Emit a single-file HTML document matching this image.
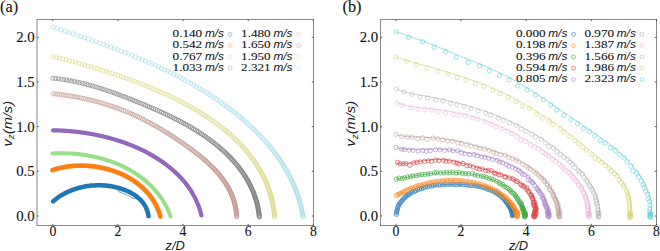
<!DOCTYPE html>
<html><head><meta charset="utf-8"><style>html,body{margin:0;padding:0;background:#fff;width:660px;height:251px;overflow:hidden}
svg{display:block}
.tk{font-family:"Liberation Serif",serif;font-size:13.7px;fill:#111;stroke:#111;stroke-width:0.1px}
.lg{font-family:"Liberation Serif",serif;font-size:10.8px;fill:#111;stroke:#111;stroke-width:0.08px}
.lu{font-family:"Liberation Sans",sans-serif;font-style:italic;font-size:10.4px;fill:#111}
.al{font-family:"Liberation Sans",sans-serif;font-style:italic;font-size:12.8px;fill:#1a1a1a}
.sub{font-size:8.8px}
.pl{font-family:"Liberation Serif",serif;font-size:16.3px;fill:#111;stroke:#111;stroke-width:0.1px}
</style></head><body>
<svg width="660" height="251" viewBox="0 0 660 251">
<rect width="660" height="251" fill="#fff"/>
<path d="M53.1,201.4 L53.2,201.3 L53.3,201.2 L53.4,201.1 L53.5,201.0 L53.6,200.9 L53.8,200.8 L53.9,200.7 L54.0,200.6 L54.1,200.5 L54.3,200.4 L54.4,200.3 L54.5,200.2 L54.6,200.1 L54.7,200.0 L54.9,199.9 L55.0,199.8 L55.1,199.7 L55.2,199.6 L55.4,199.5 L55.5,199.4 L55.6,199.3 L55.7,199.2 L55.9,199.1 L56.0,199.0 L56.1,198.9 L56.2,198.8 L56.4,198.7 L56.5,198.6 L56.6,198.5 L56.7,198.4 L56.9,198.3 L57.0,198.2 L57.1,198.1 L57.2,198.0 L57.4,197.9 L57.5,197.8 L57.6,197.7 L57.8,197.6 L57.9,197.6 L58.0,197.5 L58.2,197.4 L58.3,197.3 L58.4,197.2 L58.5,197.1 L58.7,197.0 L58.8,196.9 L58.9,196.8 L59.1,196.7 L59.2,196.7 L59.3,196.6 L59.5,196.5 L59.6,196.4 L59.7,196.3 L59.9,196.2 L60.0,196.1 L60.1,196.0 L60.3,196.0 L60.4,195.9 L60.5,195.8 L60.7,195.7 L60.8,195.6 L60.9,195.5 L61.1,195.4 L61.2,195.4 L61.4,195.3 L61.5,195.2 L61.6,195.1 L61.8,195.0 L61.9,194.9 L62.0,194.9 L62.2,194.8 L62.3,194.7 L62.5,194.6 L62.6,194.5 L62.7,194.5 L62.9,194.4 L63.0,194.3 L63.2,194.2 L63.3,194.1 L63.4,194.1 L63.6,194.0 L63.7,193.9 L63.9,193.8 L64.0,193.8 L64.1,193.7 L64.3,193.6 L64.4,193.5 L64.6,193.4 L64.7,193.4 L64.8,193.3 L65.0,193.2 L65.1,193.2 L65.3,193.1 L65.4,193.0 L65.6,192.9 L65.7,192.9 L65.8,192.8 L66.0,192.7 L66.1,192.6 L66.3,192.6 L66.4,192.5 L66.6,192.4 L66.7,192.4 L66.9,192.3 L67.0,192.2 L67.2,192.1 L67.3,192.1 L67.4,192.0 L67.6,191.9 L67.7,191.9 L67.9,191.8 L68.0,191.7 L68.2,191.7 L68.3,191.6 L68.5,191.5 L68.6,191.5 L68.8,191.4 L68.9,191.3 L69.1,191.3 L69.2,191.2 L69.4,191.1 L69.5,191.1 L69.7,191.0 L69.8,191.0 L70.0,190.9 L70.1,190.8 L70.3,190.8 L70.4,190.7 L70.6,190.6 L70.7,190.6 L70.9,190.5 L71.0,190.5 L71.2,190.4 L71.3,190.3 L71.5,190.3 L71.6,190.2 L71.8,190.2 L71.9,190.1 L72.1,190.0 L72.2,190.0 L72.4,189.9 L72.5,189.9 L72.7,189.8 L72.8,189.8 L73.0,189.7 L73.1,189.7 L73.3,189.6 L73.4,189.5 L73.6,189.5 L73.8,189.4 L73.9,189.4 L74.1,189.3 L74.2,189.3 L74.4,189.2 L74.5,189.2 L74.7,189.1 L74.8,189.1 L75.0,189.0 L75.1,189.0 L75.3,188.9 L75.5,188.9 L75.6,188.8 L75.8,188.8 L75.9,188.7 L76.1,188.7 L76.2,188.6 L76.4,188.6 L76.6,188.5 L76.7,188.5 L76.9,188.4 L77.0,188.4 L77.2,188.3 L77.3,188.3 L77.5,188.2 L77.6,188.2 L77.8,188.1 L78.0,188.1 L78.1,188.1 L78.3,188.0 L78.4,188.0 L78.6,187.9 L78.8,187.9 L78.9,187.8 L79.1,187.8 L79.2,187.8 L79.4,187.7 L79.5,187.7 L79.7,187.6 L79.9,187.6 L80.0,187.5 L80.2,187.5 L80.3,187.5 L80.5,187.4 L80.7,187.4 L80.8,187.4 L81.0,187.3 L81.1,187.3 L81.3,187.2 L81.5,187.2 L81.6,187.2 L81.8,187.1 L81.9,187.1 L82.1,187.1 L82.3,187.0 L82.4,187.0 L82.6,187.0 L82.8,186.9 L82.9,186.9 L83.1,186.9 L83.2,186.8 L83.4,186.8 L83.6,186.8 L83.7,186.7 L83.9,186.7 L84.0,186.7 L84.2,186.6 L84.4,186.6 L84.5,186.6 L84.7,186.5 L84.9,186.5 L85.0,186.5 L85.2,186.4 L85.3,186.4 L85.5,186.4 L85.7,186.4 L85.8,186.3 L86.0,186.3 L86.2,186.3 L86.3,186.3 L86.5,186.2 L86.6,186.2 L86.8,186.2 L87.0,186.1 L87.1,186.1 L87.3,186.1 L87.5,186.1 L87.6,186.1 L87.8,186.0 L88.0,186.0 L88.1,186.0 L88.3,186.0 L88.5,185.9 L88.6,185.9 L88.8,185.9 L88.9,185.9 L89.1,185.9 L89.3,185.8 L89.4,185.8 L89.6,185.8 L89.8,185.8 L89.9,185.8 L90.1,185.7 L90.3,185.7 L90.4,185.7 L90.6,185.7 L90.8,185.7 L90.9,185.6 L91.1,185.6 L91.2,185.6 L91.4,185.6 L91.6,185.6 L91.7,185.6 L91.9,185.6 L92.1,185.5 L92.2,185.5 L92.4,185.5 L92.6,185.5 L92.7,185.5 L92.9,185.5 L93.1,185.5 L93.2,185.5 L93.4,185.4 L93.6,185.4 L93.7,185.4 L93.9,185.4 L94.1,185.4 L94.2,185.4 L94.4,185.4 L94.6,185.4 L94.7,185.4 L94.9,185.4 L95.1,185.3 L95.2,185.3 L95.4,185.3 L95.6,185.3 L95.7,185.3 L95.9,185.3 L96.0,185.3 L96.2,185.3 L96.4,185.3 L96.5,185.3 L96.7,185.3 L96.9,185.3 L97.0,185.3 L97.2,185.3 L97.4,185.3 L97.5,185.3 L97.7,185.3 L97.9,185.3 L98.0,185.3 L98.2,185.3 L98.4,185.3 L98.5,185.3 L98.7,185.3 L98.9,185.3 L99.0,185.3 L99.2,185.3 L99.4,185.3 L99.5,185.3 L99.7,185.3 L99.9,185.3 L100.0,185.3 L100.2,185.3 L100.4,185.3 L100.5,185.3 L100.7,185.3 L100.9,185.3 L101.0,185.3 L101.2,185.3 L101.4,185.3 L101.5,185.3 L101.7,185.3 L101.9,185.3 L102.0,185.3 L102.2,185.3 L102.4,185.3 L102.5,185.4 L102.7,185.4 L102.8,185.4 L103.0,185.4 L103.2,185.4 L103.3,185.4 L103.5,185.4 L103.7,185.4 L103.8,185.4 L104.0,185.4 L104.2,185.5 L104.3,185.5 L104.5,185.5 L104.7,185.5 L104.8,185.5 L105.0,185.5 L105.2,185.5 L105.3,185.5 L105.5,185.6 L105.7,185.6 L105.8,185.6 L106.0,185.6 L106.2,185.6 L106.3,185.6 L106.5,185.7 L106.6,185.7 L106.8,185.7 L107.0,185.7 L107.1,185.7 L107.3,185.7 L107.5,185.8 L107.6,185.8 L107.8,185.8 L108.0,185.8 L108.1,185.8 L108.3,185.9 L108.5,185.9 L108.6,185.9 L108.8,185.9 L108.9,186.0 L109.1,186.0 L109.3,186.0 L109.4,186.0 L109.6,186.0 L109.8,186.1 L109.9,186.1 L110.1,186.1 L110.2,186.1 L110.4,186.2 L110.6,186.2 L110.7,186.2 L110.9,186.2 L111.1,186.3 L111.2,186.3 L111.4,186.3 L111.6,186.4 L111.7,186.4 L111.9,186.4 L112.0,186.4 L112.2,186.5 L112.4,186.5 L112.5,186.5 L112.7,186.6 L112.8,186.6 L113.0,186.6 L113.2,186.7 L113.3,186.7 L113.5,186.7 L113.7,186.8 L113.8,186.8 L114.0,186.8 L114.1,186.9 L114.3,186.9 L114.5,186.9 L114.6,187.0 L114.8,187.0 L114.9,187.0 L115.1,187.1 L115.3,187.1 L115.4,187.1 L115.6,187.2 L115.7,187.2 L115.9,187.2 L116.1,187.3 L116.2,187.3 L116.4,187.4 L116.5,187.4 L116.7,187.4 L116.9,187.5 L117.0,187.5 L117.2,187.6 L117.3,187.6 L117.5,187.6 L117.7,187.7 L117.8,187.7 L118.0,187.8 L118.1,187.8 L118.3,187.9 L118.4,187.9 L118.6,187.9 L118.8,188.0 L118.9,188.0 L119.1,188.1 L119.2,188.1 L119.4,188.2 L119.5,188.2 L119.7,188.3 L119.9,188.3 L120.0,188.4 L120.2,188.4 L120.3,188.4 L120.5,188.5 L120.6,188.5 L120.8,188.6 L121.0,188.6 L121.1,188.7 L121.3,188.7 L121.4,188.8 L121.6,188.8 L121.7,188.9 L121.9,188.9 L122.0,189.0 L122.2,189.0 L122.4,189.1 L122.5,189.2 L122.7,189.2 L122.8,189.3 L123.0,189.3 L123.1,189.4 L123.3,189.4 L123.4,189.5 L123.6,189.5 L123.7,189.6 L123.9,189.6 L124.0,189.7 L124.2,189.8 L124.3,189.8 L124.5,189.9 L124.6,189.9 L124.8,190.0 L124.9,190.1 L125.1,190.1 L125.2,190.2 L125.4,190.2 L125.6,190.3 L125.7,190.4 L125.9,190.4 L126.0,190.5 L126.2,190.5 L126.3,190.6 L126.4,190.7 L126.6,190.7 L126.7,190.8 L126.9,190.9 L127.0,190.9 L127.2,191.0 L127.3,191.0 L127.5,191.1 L127.6,191.2 L127.8,191.2 L127.9,191.3 L128.1,191.4 L128.2,191.4 L128.4,191.5 L128.5,191.6 L128.7,191.7 L128.8,191.7 L128.9,191.8 L129.1,191.9 L129.2,191.9 L129.4,192.0 L129.5,192.1 L129.7,192.1 L129.8,192.2 L130.0,192.3 L130.1,192.4 L130.2,192.4 L130.4,192.5 L130.5,192.6 L130.7,192.7 L130.8,192.7 L130.9,192.8 L131.1,192.9 L131.2,193.0 L131.4,193.0 L131.5,193.1 L131.6,193.2 L131.8,193.3 L131.9,193.4 L132.1,193.4 L132.2,193.5 L132.3,193.6 L132.5,193.7 L132.6,193.8 L132.7,193.8 L132.9,193.9 L133.0,194.0 L133.1,194.1 L133.3,194.2 L133.4,194.2 L133.5,194.3 L133.7,194.4 L133.8,194.5 L133.9,194.6 L134.1,194.7 L134.2,194.8 L134.3,194.8 L134.5,194.9 L134.6,195.0 L134.7,195.1 L134.9,195.2 L135.0,195.3 L135.1,195.4 L135.3,195.5 L135.4,195.5 L135.5,195.6 L135.6,195.7 L135.8,195.8 L135.9,195.9 L136.0,196.0 L136.1,196.1 L136.3,196.2 L136.4,196.3 L136.5,196.4 L136.6,196.5 L136.8,196.6 L136.9,196.7 L137.0,196.8 L137.1,196.9 L137.3,197.0 L137.4,197.1 L137.5,197.2 L137.6,197.3 L137.7,197.4 L137.9,197.5 L138.0,197.6 L138.1,197.7 L138.2,197.8 L138.3,197.9 L138.4,198.0 L138.6,198.1 L138.7,198.2 L138.8,198.3 L138.9,198.4 L139.0,198.5 L139.1,198.6 L139.3,198.7 L139.4,198.8 L139.5,198.9 L139.6,199.0 L139.7,199.1 L139.8,199.2 L139.9,199.3 L140.0,199.4 L140.1,199.5 L140.3,199.7 L140.4,199.8 L140.5,199.9 L140.6,200.0 L140.7,200.1 L140.8,200.2 L140.9,200.3 L141.0,200.4 L141.1,200.6 L141.2,200.7 L141.3,200.8 L141.4,200.9 L141.5,201.0 L141.6,201.1 L141.7,201.2 L141.8,201.4 L141.9,201.5 L142.0,201.6 L142.1,201.7 L142.2,201.8 L142.3,202.0 L142.4,202.1 L142.5,202.2 L142.6,202.3 L142.7,202.4 L142.8,202.6 L142.9,202.7 L143.0,202.8 L143.1,202.9 L143.2,203.1 L143.3,203.2 L143.4,203.3 L143.4,203.4 L143.5,203.6 L143.6,203.7 L143.7,203.8 L143.8,204.0 L143.9,204.1 L144.0,204.2 L144.1,204.4 L144.1,204.5 L144.2,204.6 L144.3,204.7 L144.4,204.9 L144.5,205.0 L144.6,205.1 L144.6,205.3 L144.7,205.4 L144.8,205.5 L144.9,205.7 L145.0,205.8 L145.0,206.0 L145.1,206.1 L145.2,206.2 L145.3,206.4 L145.4,206.5 L145.4,206.7 L145.5,206.8 L145.6,206.9 L145.6,207.1 L145.7,207.2 L145.8,207.4 L145.9,207.5 L145.9,207.6 L146.0,207.8 L146.1,207.9 L146.1,208.1 L146.2,208.2 L146.3,208.4 L146.3,208.5 L146.4,208.7 L146.5,208.8 L146.5,209.0 L146.6,209.1 L146.7,209.3 L146.7,209.4 L146.8,209.6 L146.8,209.7 L146.9,209.9 L147.0,210.0 L147.0,210.2 L147.1,210.3 L147.1,210.5 L147.2,210.6 L147.2,210.8 L147.3,211.0 L147.3,211.1 L147.4,211.3 L147.4,211.4 L147.5,211.6 L147.5,211.8 L147.6,211.9 L147.6,212.1 L147.7,212.2 L147.7,212.4 L147.8,212.6 L147.8,212.7 L147.9,212.9 L147.9,213.1 L148.0,213.2 L148.0,213.4 L148.0,213.5 L148.1,213.7 L148.1,213.9 L148.2,214.1 L148.2,214.2 L148.2,214.4 L148.3,214.6 L148.3,214.7 L148.3,214.9 L148.4,215.1 L148.4,215.2 L148.4,215.4 L148.5,215.6 L148.5,215.8 L148.5,215.9 L148.6,216.1 L148.6,216.3" fill="none" stroke="#1f77b4" stroke-width="4.5" stroke-linecap="round" stroke-linejoin="round"/>
<path d="M116.1,187.3 L116.2,187.5 L116.3,187.7 L116.4,187.8 L116.6,188.0 L116.7,188.2 L116.8,188.4 L116.9,188.6 L117.0,188.8 L117.2,188.9 L117.3,189.1 L117.4,189.3 L117.5,189.5 L117.6,189.7 L117.7,189.9 L117.8,190.1 L118.0,190.2 L118.1,190.4 L118.2,190.6 L118.3,190.8 L118.4,191.0 L118.5,191.2 L118.6,191.4 L118.7,191.6 L118.8,191.7 L118.9,191.9 L119.1,191.9 L119.2,192.0 L119.4,192.0 L119.5,192.1 L119.7,192.1 L119.8,192.2 L120.0,192.2 L120.1,192.3 L120.3,192.3 L120.4,192.4 L120.6,192.4 L120.7,192.5 L120.9,192.5 L121.0,192.6 L121.2,192.6 L121.3,192.7 L121.4,192.7 L121.6,192.8 L121.7,192.8 L121.9,192.9 L122.0,192.9 L122.2,193.0 L122.3,193.0 L122.5,193.1 L122.6,193.1 L122.7,193.2 L122.9,193.2 L123.0,193.3 L123.2,193.3 L123.3,193.4 L123.5,193.4 L123.6,193.5 L123.7,193.6 L123.9,193.6 L124.0,193.7 L124.2,193.7 L124.3,193.8 L124.4,193.8 L124.6,193.9 L124.7,194.0 L124.9,194.0 L125.0,194.1 L125.1,194.1 L125.3,194.2 L125.4,194.2 L125.6,194.3 L125.7,194.4 L125.8,194.4 L126.0,194.5 L126.1,194.6 L126.3,194.6 L126.4,194.7 L126.5,194.7 L126.7,194.8 L126.8,194.9 L126.9,194.9 L127.1,195.0 L127.2,195.1 L127.3,195.1 L127.5,195.2 L127.6,195.3 L127.7,195.3 L127.9,195.4 L128.0,195.5 L128.1,195.5 L128.3,195.6 L128.4,195.7 L128.5,195.7 L128.7,195.8 L128.8,195.9 L128.9,195.9 L129.1,196.0 L129.2,196.1 L129.3,196.1 L129.4,196.2 L129.6,196.3 L129.7,196.3 L129.8,196.4 L130.0,196.5 L130.1,196.6 L130.2,196.6 L130.3,196.7 L130.5,196.8 L130.6,196.9 L130.7,196.9 L130.8,197.0 L131.0,197.1 L131.1,197.2 L131.2,197.2 L131.3,197.3 L131.5,197.4 L131.6,197.5 L131.7,197.5 L131.8,197.6 L131.9,197.7 L132.1,197.8 L132.2,197.8 L132.3,197.9 L132.4,198.0 L132.5,198.1 L132.7,198.2 L132.8,198.2 L132.9,198.3 L133.0,198.4 L133.1,198.5 L133.2,198.6 L133.4,198.7 L133.5,198.6 L133.7,198.6 L133.9,198.6 L134.1,198.6 L134.3,198.6 L134.5,198.6 L134.6,198.6 L134.8,198.6 L135.0,198.6 L135.2,198.6 L135.4,198.6 L135.6,198.6 L135.7,198.6 L135.9,198.6 L136.1,198.6 L136.3,198.6 L136.5,198.6 L136.7,198.6 L136.8,198.7 L137.0,198.7 L137.2,198.7 L137.4,198.7 L137.6,198.7 L137.8,198.7 L138.0,198.7 L138.2,198.7 L138.3,198.8 L138.5,198.8 L138.7,198.8 L138.9,198.8 L139.1,198.8 L139.3,198.9 L139.5,198.9" fill="none" stroke="#1f77b4" stroke-width="0.8"/>
<path d="M52.4,170.1 L52.6,170.0 L52.8,169.9 L52.9,169.9 L53.1,169.8 L53.3,169.8 L53.5,169.7 L53.6,169.7 L53.8,169.6 L54.0,169.6 L54.1,169.5 L54.3,169.5 L54.5,169.4 L54.7,169.4 L54.8,169.3 L55.0,169.3 L55.2,169.2 L55.3,169.2 L55.5,169.1 L55.7,169.1 L55.9,169.0 L56.0,169.0 L56.2,168.9 L56.4,168.9 L56.6,168.8 L56.7,168.8 L56.9,168.7 L57.1,168.7 L57.3,168.6 L57.4,168.6 L57.6,168.5 L57.8,168.5 L58.0,168.4 L58.1,168.4 L58.3,168.3 L58.5,168.3 L58.7,168.3 L58.8,168.2 L59.0,168.2 L59.2,168.1 L59.4,168.1 L59.5,168.0 L59.7,168.0 L59.9,168.0 L60.1,167.9 L60.3,167.9 L60.4,167.8 L60.6,167.8 L60.8,167.8 L61.0,167.7 L61.1,167.7 L61.3,167.7 L61.5,167.6 L61.7,167.6 L61.9,167.5 L62.0,167.5 L62.2,167.5 L62.4,167.4 L62.6,167.4 L62.8,167.4 L62.9,167.3 L63.1,167.3 L63.3,167.3 L63.5,167.2 L63.7,167.2 L63.8,167.2 L64.0,167.1 L64.2,167.1 L64.4,167.1 L64.6,167.0 L64.7,167.0 L64.9,167.0 L65.1,166.9 L65.3,166.9 L65.5,166.9 L65.7,166.8 L65.8,166.8 L66.0,166.8 L66.2,166.8 L66.4,166.7 L66.6,166.7 L66.8,166.7 L66.9,166.6 L67.1,166.6 L67.3,166.6 L67.5,166.6 L67.7,166.5 L67.9,166.5 L68.0,166.5 L68.2,166.5 L68.4,166.4 L68.6,166.4 L68.8,166.4 L69.0,166.4 L69.1,166.3 L69.3,166.3 L69.5,166.3 L69.7,166.3 L69.9,166.3 L70.1,166.2 L70.2,166.2 L70.4,166.2 L70.6,166.2 L70.8,166.2 L71.0,166.1 L71.2,166.1 L71.4,166.1 L71.5,166.1 L71.7,166.1 L71.9,166.0 L72.1,166.0 L72.3,166.0 L72.5,166.0 L72.7,166.0 L72.8,166.0 L73.0,165.9 L73.2,165.9 L73.4,165.9 L73.6,165.9 L73.8,165.9 L74.0,165.9 L74.2,165.9 L74.3,165.9 L74.5,165.8 L74.7,165.8 L74.9,165.8 L75.1,165.8 L75.3,165.8 L75.5,165.8 L75.7,165.8 L75.8,165.8 L76.0,165.8 L76.2,165.7 L76.4,165.7 L76.6,165.7 L76.8,165.7 L77.0,165.7 L77.2,165.7 L77.3,165.7 L77.5,165.7 L77.7,165.7 L77.9,165.7 L78.1,165.7 L78.3,165.7 L78.5,165.7 L78.7,165.7 L78.8,165.6 L79.0,165.6 L79.2,165.6 L79.4,165.6 L79.6,165.6 L79.8,165.6 L80.0,165.6 L80.2,165.6 L80.4,165.6 L80.5,165.6 L80.7,165.6 L80.9,165.6 L81.1,165.6 L81.3,165.6 L81.5,165.6 L81.7,165.6 L81.9,165.6 L82.1,165.6 L82.2,165.6 L82.4,165.6 L82.6,165.6 L82.8,165.6 L83.0,165.6 L83.2,165.6 L83.4,165.6 L83.6,165.7 L83.8,165.7 L84.0,165.7 L84.1,165.7 L84.3,165.7 L84.5,165.7 L84.7,165.7 L84.9,165.7 L85.1,165.7 L85.3,165.7 L85.5,165.7 L85.7,165.7 L85.8,165.7 L86.0,165.7 L86.2,165.8 L86.4,165.8 L86.6,165.8 L86.8,165.8 L87.0,165.8 L87.2,165.8 L87.4,165.8 L87.6,165.8 L87.7,165.8 L87.9,165.9 L88.1,165.9 L88.3,165.9 L88.5,165.9 L88.7,165.9 L88.9,165.9 L89.1,165.9 L89.3,166.0 L89.5,166.0 L89.6,166.0 L89.8,166.0 L90.0,166.0 L90.2,166.0 L90.4,166.0 L90.6,166.1 L90.8,166.1 L91.0,166.1 L91.2,166.1 L91.4,166.1 L91.5,166.2 L91.7,166.2 L91.9,166.2 L92.1,166.2 L92.3,166.2 L92.5,166.3 L92.7,166.3 L92.9,166.3 L93.1,166.3 L93.2,166.3 L93.4,166.4 L93.6,166.4 L93.8,166.4 L94.0,166.4 L94.2,166.5 L94.4,166.5 L94.6,166.5 L94.8,166.5 L94.9,166.6 L95.1,166.6 L95.3,166.6 L95.5,166.6 L95.7,166.7 L95.9,166.7 L96.1,166.7 L96.3,166.8 L96.5,166.8 L96.6,166.8 L96.8,166.8 L97.0,166.9 L97.2,166.9 L97.4,166.9 L97.6,167.0 L97.8,167.0 L98.0,167.0 L98.2,167.1 L98.3,167.1 L98.5,167.1 L98.7,167.2 L98.9,167.2 L99.1,167.2 L99.3,167.3 L99.5,167.3 L99.7,167.3 L99.8,167.4 L100.0,167.4 L100.2,167.4 L100.4,167.5 L100.6,167.5 L100.8,167.5 L101.0,167.6 L101.2,167.6 L101.3,167.6 L101.5,167.7 L101.7,167.7 L101.9,167.8 L102.1,167.8 L102.3,167.8 L102.5,167.9 L102.6,167.9 L102.8,168.0 L103.0,168.0 L103.2,168.0 L103.4,168.1 L103.6,168.1 L103.8,168.2 L103.9,168.2 L104.1,168.3 L104.3,168.3 L104.5,168.3 L104.7,168.4 L104.9,168.4 L105.1,168.5 L105.2,168.5 L105.4,168.6 L105.6,168.6 L105.8,168.7 L106.0,168.7 L106.2,168.7 L106.4,168.8 L106.5,168.8 L106.7,168.9 L106.9,168.9 L107.1,169.0 L107.3,169.0 L107.5,169.1 L107.6,169.1 L107.8,169.2 L108.0,169.2 L108.2,169.3 L108.4,169.3 L108.6,169.4 L108.7,169.4 L108.9,169.5 L109.1,169.5 L109.3,169.6 L109.5,169.6 L109.7,169.7 L109.8,169.8 L110.0,169.8 L110.2,169.9 L110.4,169.9 L110.6,170.0 L110.7,170.0 L110.9,170.1 L111.1,170.1 L111.3,170.2 L111.5,170.3 L111.7,170.3 L111.8,170.4 L112.0,170.4 L112.2,170.5 L112.4,170.5 L112.6,170.6 L112.7,170.7 L112.9,170.7 L113.1,170.8 L113.3,170.8 L113.5,170.9 L113.6,171.0 L113.8,171.0 L114.0,171.1 L114.2,171.1 L114.4,171.2 L114.5,171.3 L114.7,171.3 L114.9,171.4 L115.1,171.5 L115.2,171.5 L115.4,171.6 L115.6,171.7 L115.8,171.7 L116.0,171.8 L116.1,171.9 L116.3,171.9 L116.5,172.0 L116.7,172.1 L116.8,172.1 L117.0,172.2 L117.2,172.3 L117.4,172.3 L117.5,172.4 L117.7,172.5 L117.9,172.5 L118.1,172.6 L118.2,172.7 L118.4,172.7 L118.6,172.8 L118.8,172.9 L118.9,173.0 L119.1,173.0 L119.3,173.1 L119.5,173.2 L119.6,173.2 L119.8,173.3 L120.0,173.4 L120.2,173.5 L120.3,173.5 L120.5,173.6 L120.7,173.7 L120.9,173.8 L121.0,173.8 L121.2,173.9 L121.4,174.0 L121.5,174.1 L121.7,174.1 L121.9,174.2 L122.1,174.3 L122.2,174.4 L122.4,174.5 L122.6,174.5 L122.7,174.6 L122.9,174.7 L123.1,174.8 L123.2,174.9 L123.4,174.9 L123.6,175.0 L123.7,175.1 L123.9,175.2 L124.1,175.3 L124.3,175.3 L124.4,175.4 L124.6,175.5 L124.8,175.6 L124.9,175.7 L125.1,175.8 L125.3,175.8 L125.4,175.9 L125.6,176.0 L125.8,176.1 L125.9,176.2 L126.1,176.3 L126.3,176.4 L126.4,176.4 L126.6,176.5 L126.8,176.6 L126.9,176.7 L127.1,176.8 L127.2,176.9 L127.4,177.0 L127.6,177.1 L127.7,177.1 L127.9,177.2 L128.1,177.3 L128.2,177.4 L128.4,177.5 L128.6,177.6 L128.7,177.7 L128.9,177.8 L129.0,177.9 L129.2,178.0 L129.4,178.1 L129.5,178.2 L129.7,178.2 L129.8,178.3 L130.0,178.4 L130.2,178.5 L130.3,178.6 L130.5,178.7 L130.6,178.8 L130.8,178.9 L131.0,179.0 L131.1,179.1 L131.3,179.2 L131.4,179.3 L131.6,179.4 L131.7,179.5 L131.9,179.6 L132.1,179.7 L132.2,179.8 L132.4,179.9 L132.5,180.0 L132.7,180.1 L132.8,180.2 L133.0,180.3 L133.1,180.4 L133.3,180.5 L133.5,180.6 L133.6,180.7 L133.8,180.8 L133.9,180.9 L134.1,181.0 L134.2,181.1 L134.4,181.2 L134.5,181.3 L134.7,181.4 L134.8,181.5 L135.0,181.6 L135.1,181.7 L135.3,181.8 L135.4,181.9 L135.6,182.1 L135.7,182.2 L135.9,182.3 L136.0,182.4 L136.2,182.5 L136.3,182.6 L136.5,182.7 L136.6,182.8 L136.8,182.9 L136.9,183.0 L137.1,183.1 L137.2,183.3 L137.4,183.4 L137.5,183.5 L137.7,183.6 L137.8,183.7 L137.9,183.8 L138.1,183.9 L138.2,184.0 L138.4,184.1 L138.5,184.3 L138.7,184.4 L138.8,184.5 L139.0,184.6 L139.1,184.7 L139.2,184.8 L139.4,185.0 L139.5,185.1 L139.7,185.2 L139.8,185.3 L139.9,185.4 L140.1,185.5 L140.2,185.7 L140.4,185.8 L140.5,185.9 L140.6,186.0 L140.8,186.1 L140.9,186.2 L141.1,186.4 L141.2,186.5 L141.3,186.6 L141.5,186.7 L141.6,186.8 L141.8,187.0 L141.9,187.1 L142.0,187.2 L142.2,187.3 L142.3,187.5 L142.4,187.6 L142.6,187.7 L142.7,187.8 L142.8,188.0 L143.0,188.1 L143.1,188.2 L143.2,188.3 L143.4,188.5 L143.5,188.6 L143.6,188.7 L143.8,188.8 L143.9,189.0 L144.0,189.1 L144.2,189.2 L144.3,189.3 L144.4,189.5 L144.5,189.6 L144.7,189.7 L144.8,189.9 L144.9,190.0 L145.1,190.1 L145.2,190.2 L145.3,190.4 L145.4,190.5 L145.6,190.6 L145.7,190.8 L145.8,190.9 L145.9,191.0 L146.1,191.2 L146.2,191.3 L146.3,191.4 L146.4,191.6 L146.6,191.7 L146.7,191.8 L146.8,192.0 L146.9,192.1 L147.0,192.2 L147.2,192.4 L147.3,192.5 L147.4,192.7 L147.5,192.8 L147.7,192.9 L147.8,193.1 L147.9,193.2 L148.0,193.3 L148.1,193.5 L148.2,193.6 L148.4,193.8 L148.5,193.9 L148.6,194.0 L148.7,194.2 L148.8,194.3 L148.9,194.5 L149.1,194.6 L149.2,194.7 L149.3,194.9 L149.4,195.0 L149.5,195.2 L149.6,195.3 L149.7,195.5 L149.9,195.6 L150.0,195.7 L150.1,195.9 L150.2,196.0 L150.3,196.2 L150.4,196.3 L150.5,196.5 L150.6,196.6 L150.7,196.8 L150.8,196.9 L151.0,197.1 L151.1,197.2 L151.2,197.3 L151.3,197.5 L151.4,197.6 L151.5,197.8 L151.6,197.9 L151.7,198.1 L151.8,198.2 L151.9,198.4 L152.0,198.5 L152.1,198.7 L152.2,198.8 L152.3,199.0 L152.4,199.1 L152.5,199.3 L152.6,199.5 L152.7,199.6 L152.8,199.8 L152.9,199.9 L153.0,200.1 L153.1,200.2 L153.2,200.4 L153.3,200.5 L153.4,200.7 L153.5,200.8 L153.6,201.0 L153.7,201.2 L153.8,201.3 L153.9,201.5 L154.0,201.6 L154.1,201.8 L154.2,201.9 L154.3,202.1 L154.4,202.3 L154.5,202.4 L154.6,202.6 L154.6,202.7 L154.7,202.9 L154.8,203.1 L154.9,203.2 L155.0,203.4 L155.1,203.5 L155.2,203.7 L155.3,203.9 L155.4,204.0 L155.5,204.2 L155.5,204.3 L155.6,204.5 L155.7,204.7 L155.8,204.8 L155.9,205.0 L156.0,205.2 L156.1,205.3 L156.1,205.5 L156.2,205.7 L156.3,205.8 L156.4,206.0 L156.5,206.2 L156.6,206.3 L156.6,206.5 L156.7,206.7 L156.8,206.8 L156.9,207.0 L157.0,207.2 L157.0,207.3 L157.1,207.5 L157.2,207.7 L157.3,207.8 L157.3,208.0 L157.4,208.2 L157.5,208.4 L157.6,208.5 L157.6,208.7 L157.7,208.9 L157.8,209.0 L157.9,209.2 L157.9,209.4 L158.0,209.6 L158.1,209.7 L158.1,209.9 L158.2,210.1 L158.3,210.3 L158.4,210.4 L158.4,210.6 L158.5,210.8 L158.6,211.0 L158.6,211.1 L158.7,211.3 L158.8,211.5 L158.8,211.7 L158.9,211.9 L159.0,212.0 L159.0,212.2 L159.1,212.4 L159.2,212.6 L159.2,212.7 L159.3,212.9 L159.3,213.1 L159.4,213.3 L159.5,213.5 L159.5,213.7 L159.6,213.8 L159.6,214.0 L159.7,214.2 L159.8,214.4 L159.8,214.6 L159.9,214.7 L159.9,214.9 L160.0,215.1 L160.0,215.3 L160.1,215.5 L160.1,215.7 L160.2,215.9 L160.3,216.0 L160.3,216.2 L160.4,216.4 L160.4,216.6" fill="none" stroke="#ff7f0e" stroke-width="4.6" stroke-linecap="round" stroke-linejoin="round"/>
<path d="M52.4,153.4 L52.6,153.4 L52.8,153.4 L53.0,153.4 L53.2,153.4 L53.4,153.4 L53.6,153.4 L53.8,153.4 L54.0,153.4 L54.2,153.3 L54.4,153.3 L54.6,153.3 L54.8,153.3 L55.0,153.3 L55.2,153.3 L55.4,153.3 L55.6,153.3 L55.8,153.3 L56.0,153.3 L56.2,153.3 L56.4,153.3 L56.6,153.3 L56.8,153.3 L57.0,153.2 L57.2,153.2 L57.4,153.2 L57.6,153.2 L57.8,153.2 L58.0,153.2 L58.2,153.2 L58.4,153.2 L58.6,153.2 L58.8,153.2 L59.0,153.2 L59.2,153.2 L59.4,153.2 L59.7,153.2 L59.9,153.2 L60.1,153.2 L60.3,153.2 L60.5,153.2 L60.7,153.2 L60.9,153.2 L61.1,153.2 L61.3,153.2 L61.5,153.2 L61.7,153.2 L61.9,153.2 L62.1,153.2 L62.3,153.2 L62.5,153.2 L62.7,153.2 L62.9,153.2 L63.1,153.2 L63.3,153.2 L63.5,153.2 L63.7,153.2 L63.9,153.2 L64.1,153.2 L64.3,153.2 L64.5,153.2 L64.7,153.2 L64.9,153.2 L65.1,153.2 L65.3,153.2 L65.5,153.2 L65.8,153.3 L66.0,153.3 L66.2,153.3 L66.4,153.3 L66.6,153.3 L66.8,153.3 L67.0,153.3 L67.2,153.3 L67.4,153.3 L67.6,153.3 L67.8,153.3 L68.0,153.3 L68.2,153.3 L68.4,153.4 L68.6,153.4 L68.8,153.4 L69.0,153.4 L69.2,153.4 L69.4,153.4 L69.6,153.4 L69.8,153.4 L70.1,153.4 L70.3,153.5 L70.5,153.5 L70.7,153.5 L70.9,153.5 L71.1,153.5 L71.3,153.5 L71.5,153.5 L71.7,153.5 L71.9,153.6 L72.1,153.6 L72.3,153.6 L72.5,153.6 L72.7,153.6 L72.9,153.6 L73.1,153.6 L73.3,153.7 L73.5,153.7 L73.7,153.7 L74.0,153.7 L74.2,153.7 L74.4,153.7 L74.6,153.8 L74.8,153.8 L75.0,153.8 L75.2,153.8 L75.4,153.8 L75.6,153.9 L75.8,153.9 L76.0,153.9 L76.2,153.9 L76.4,153.9 L76.6,153.9 L76.8,154.0 L77.0,154.0 L77.2,154.0 L77.4,154.0 L77.7,154.1 L77.9,154.1 L78.1,154.1 L78.3,154.1 L78.5,154.1 L78.7,154.2 L78.9,154.2 L79.1,154.2 L79.3,154.2 L79.5,154.3 L79.7,154.3 L79.9,154.3 L80.1,154.3 L80.3,154.4 L80.5,154.4 L80.7,154.4 L80.9,154.4 L81.1,154.5 L81.4,154.5 L81.6,154.5 L81.8,154.5 L82.0,154.6 L82.2,154.6 L82.4,154.6 L82.6,154.7 L82.8,154.7 L83.0,154.7 L83.2,154.7 L83.4,154.8 L83.6,154.8 L83.8,154.8 L84.0,154.9 L84.2,154.9 L84.4,154.9 L84.6,155.0 L84.8,155.0 L85.0,155.0 L85.3,155.0 L85.5,155.1 L85.7,155.1 L85.9,155.1 L86.1,155.2 L86.3,155.2 L86.5,155.2 L86.7,155.3 L86.9,155.3 L87.1,155.3 L87.3,155.4 L87.5,155.4 L87.7,155.4 L87.9,155.5 L88.1,155.5 L88.3,155.6 L88.5,155.6 L88.7,155.6 L88.9,155.7 L89.1,155.7 L89.3,155.7 L89.5,155.8 L89.8,155.8 L90.0,155.9 L90.2,155.9 L90.4,155.9 L90.6,156.0 L90.8,156.0 L91.0,156.1 L91.2,156.1 L91.4,156.1 L91.6,156.2 L91.8,156.2 L92.0,156.3 L92.2,156.3 L92.4,156.3 L92.6,156.4 L92.8,156.4 L93.0,156.5 L93.2,156.5 L93.4,156.6 L93.6,156.6 L93.8,156.6 L94.0,156.7 L94.2,156.7 L94.4,156.8 L94.6,156.8 L94.8,156.9 L95.0,156.9 L95.2,157.0 L95.4,157.0 L95.7,157.0 L95.9,157.1 L96.1,157.1 L96.3,157.2 L96.5,157.2 L96.7,157.3 L96.9,157.3 L97.1,157.4 L97.3,157.4 L97.5,157.5 L97.7,157.5 L97.9,157.6 L98.1,157.6 L98.3,157.7 L98.5,157.7 L98.7,157.8 L98.9,157.8 L99.1,157.9 L99.3,157.9 L99.5,158.0 L99.7,158.0 L99.9,158.1 L100.1,158.1 L100.3,158.2 L100.5,158.2 L100.7,158.3 L100.9,158.4 L101.1,158.4 L101.3,158.5 L101.5,158.5 L101.7,158.6 L101.9,158.6 L102.1,158.7 L102.3,158.7 L102.5,158.8 L102.7,158.8 L102.9,158.9 L103.1,159.0 L103.3,159.0 L103.5,159.1 L103.7,159.1 L103.9,159.2 L104.1,159.3 L104.3,159.3 L104.5,159.4 L104.7,159.4 L104.9,159.5 L105.1,159.5 L105.3,159.6 L105.5,159.7 L105.7,159.7 L105.9,159.8 L106.1,159.9 L106.3,159.9 L106.5,160.0 L106.7,160.0 L106.9,160.1 L107.1,160.2 L107.3,160.2 L107.4,160.3 L107.6,160.4 L107.8,160.4 L108.0,160.5 L108.2,160.5 L108.4,160.6 L108.6,160.7 L108.8,160.7 L109.0,160.8 L109.2,160.9 L109.4,160.9 L109.6,161.0 L109.8,161.1 L110.0,161.1 L110.2,161.2 L110.4,161.3 L110.6,161.3 L110.8,161.4 L111.0,161.5 L111.2,161.6 L111.4,161.6 L111.6,161.7 L111.8,161.8 L111.9,161.8 L112.1,161.9 L112.3,162.0 L112.5,162.0 L112.7,162.1 L112.9,162.2 L113.1,162.3 L113.3,162.3 L113.5,162.4 L113.7,162.5 L113.9,162.6 L114.1,162.6 L114.3,162.7 L114.5,162.8 L114.6,162.9 L114.8,162.9 L115.0,163.0 L115.2,163.1 L115.4,163.2 L115.6,163.2 L115.8,163.3 L116.0,163.4 L116.2,163.5 L116.4,163.5 L116.6,163.6 L116.8,163.7 L116.9,163.8 L117.1,163.8 L117.3,163.9 L117.5,164.0 L117.7,164.1 L117.9,164.2 L118.1,164.2 L118.3,164.3 L118.5,164.4 L118.6,164.5 L118.8,164.6 L119.0,164.6 L119.2,164.7 L119.4,164.8 L119.6,164.9 L119.8,165.0 L120.0,165.1 L120.2,165.1 L120.3,165.2 L120.5,165.3 L120.7,165.4 L120.9,165.5 L121.1,165.6 L121.3,165.7 L121.5,165.7 L121.6,165.8 L121.8,165.9 L122.0,166.0 L122.2,166.1 L122.4,166.2 L122.6,166.3 L122.8,166.3 L122.9,166.4 L123.1,166.5 L123.3,166.6 L123.5,166.7 L123.7,166.8 L123.9,166.9 L124.0,167.0 L124.2,167.1 L124.4,167.1 L124.6,167.2 L124.8,167.3 L125.0,167.4 L125.1,167.5 L125.3,167.6 L125.5,167.7 L125.7,167.8 L125.9,167.9 L126.1,168.0 L126.2,168.1 L126.4,168.2 L126.6,168.3 L126.8,168.3 L127.0,168.4 L127.1,168.5 L127.3,168.6 L127.5,168.7 L127.7,168.8 L127.9,168.9 L128.0,169.0 L128.2,169.1 L128.4,169.2 L128.6,169.3 L128.8,169.4 L128.9,169.5 L129.1,169.6 L129.3,169.7 L129.5,169.8 L129.6,169.9 L129.8,170.0 L130.0,170.1 L130.2,170.2 L130.4,170.3 L130.5,170.4 L130.7,170.5 L130.9,170.6 L131.1,170.7 L131.2,170.8 L131.4,170.9 L131.6,171.0 L131.8,171.1 L131.9,171.2 L132.1,171.3 L132.3,171.4 L132.5,171.5 L132.6,171.6 L132.8,171.7 L133.0,171.8 L133.2,172.0 L133.3,172.1 L133.5,172.2 L133.7,172.3 L133.8,172.4 L134.0,172.5 L134.2,172.6 L134.4,172.7 L134.5,172.8 L134.7,172.9 L134.9,173.0 L135.0,173.1 L135.2,173.2 L135.4,173.4 L135.6,173.5 L135.7,173.6 L135.9,173.7 L136.1,173.8 L136.2,173.9 L136.4,174.0 L136.6,174.1 L136.7,174.2 L136.9,174.4 L137.1,174.5 L137.2,174.6 L137.4,174.7 L137.6,174.8 L137.7,174.9 L137.9,175.0 L138.1,175.1 L138.2,175.3 L138.4,175.4 L138.6,175.5 L138.7,175.6 L138.9,175.7 L139.1,175.8 L139.2,176.0 L139.4,176.1 L139.6,176.2 L139.7,176.3 L139.9,176.4 L140.1,176.5 L140.2,176.7 L140.4,176.8 L140.5,176.9 L140.7,177.0 L140.9,177.1 L141.0,177.3 L141.2,177.4 L141.4,177.5 L141.5,177.6 L141.7,177.8 L141.8,177.9 L142.0,178.0 L142.2,178.1 L142.3,178.2 L142.5,178.4 L142.6,178.5 L142.8,178.6 L142.9,178.7 L143.1,178.9 L143.3,179.0 L143.4,179.1 L143.6,179.2 L143.7,179.4 L143.9,179.5 L144.0,179.6 L144.2,179.7 L144.4,179.9 L144.5,180.0 L144.7,180.1 L144.8,180.3 L145.0,180.4 L145.1,180.5 L145.3,180.6 L145.4,180.8 L145.6,180.9 L145.8,181.0 L145.9,181.2 L146.1,181.3 L146.2,181.4 L146.4,181.6 L146.5,181.7 L146.7,181.8 L146.8,182.0 L147.0,182.1 L147.1,182.2 L147.3,182.4 L147.4,182.5 L147.6,182.6 L147.7,182.8 L147.9,182.9 L148.0,183.0 L148.2,183.2 L148.3,183.3 L148.5,183.4 L148.6,183.6 L148.8,183.7 L148.9,183.8 L149.1,184.0 L149.2,184.1 L149.3,184.3 L149.5,184.4 L149.6,184.5 L149.8,184.7 L149.9,184.8 L150.1,184.9 L150.2,185.1 L150.4,185.2 L150.5,185.4 L150.6,185.5 L150.8,185.6 L150.9,185.8 L151.1,185.9 L151.2,186.1 L151.4,186.2 L151.5,186.4 L151.6,186.5 L151.8,186.6 L151.9,186.8 L152.1,186.9 L152.2,187.1 L152.3,187.2 L152.5,187.4 L152.6,187.5 L152.8,187.7 L152.9,187.8 L153.0,188.0 L153.2,188.1 L153.3,188.2 L153.4,188.4 L153.6,188.5 L153.7,188.7 L153.9,188.8 L154.0,189.0 L154.1,189.1 L154.3,189.3 L154.4,189.4 L154.5,189.6 L154.7,189.7 L154.8,189.9 L154.9,190.0 L155.1,190.2 L155.2,190.3 L155.3,190.5 L155.5,190.6 L155.6,190.8 L155.7,191.0 L155.9,191.1 L156.0,191.3 L156.1,191.4 L156.2,191.6 L156.4,191.7 L156.5,191.9 L156.6,192.0 L156.8,192.2 L156.9,192.3 L157.0,192.5 L157.1,192.7 L157.3,192.8 L157.4,193.0 L157.5,193.1 L157.7,193.3 L157.8,193.4 L157.9,193.6 L158.0,193.8 L158.2,193.9 L158.3,194.1 L158.4,194.2 L158.5,194.4 L158.6,194.6 L158.8,194.7 L158.9,194.9 L159.0,195.1 L159.1,195.2 L159.3,195.4 L159.4,195.5 L159.5,195.7 L159.6,195.9 L159.7,196.0 L159.9,196.2 L160.0,196.4 L160.1,196.5 L160.2,196.7 L160.3,196.9 L160.5,197.0 L160.6,197.2 L160.7,197.4 L160.8,197.5 L160.9,197.7 L161.0,197.9 L161.1,198.0 L161.3,198.2 L161.4,198.4 L161.5,198.5 L161.6,198.7 L161.7,198.9 L161.8,199.0 L161.9,199.2 L162.1,199.4 L162.2,199.6 L162.3,199.7 L162.4,199.9 L162.5,200.1 L162.6,200.2 L162.7,200.4 L162.8,200.6 L162.9,200.8 L163.0,200.9 L163.2,201.1 L163.3,201.3 L163.4,201.5 L163.5,201.6 L163.6,201.8 L163.7,202.0 L163.8,202.2 L163.9,202.3 L164.0,202.5 L164.1,202.7 L164.2,202.9 L164.3,203.0 L164.4,203.2 L164.5,203.4 L164.6,203.6 L164.7,203.8 L164.8,203.9 L164.9,204.1 L165.0,204.3 L165.1,204.5 L165.2,204.7 L165.3,204.8 L165.4,205.0 L165.5,205.2 L165.6,205.4 L165.7,205.6 L165.8,205.8 L165.9,205.9 L166.0,206.1 L166.1,206.3 L166.2,206.5 L166.3,206.7 L166.4,206.9 L166.5,207.0 L166.6,207.2 L166.7,207.4 L166.8,207.6 L166.9,207.8 L167.0,208.0 L167.1,208.2 L167.2,208.4 L167.3,208.5 L167.3,208.7 L167.4,208.9 L167.5,209.1 L167.6,209.3 L167.7,209.5 L167.8,209.7 L167.9,209.9 L168.0,210.1 L168.1,210.2 L168.1,210.4 L168.2,210.6 L168.3,210.8 L168.4,211.0 L168.5,211.2 L168.6,211.4 L168.7,211.6 L168.7,211.8 L168.8,212.0 L168.9,212.2 L169.0,212.4 L169.1,212.6 L169.2,212.8 L169.2,213.0 L169.3,213.2 L169.4,213.4 L169.5,213.6 L169.6,213.8 L169.6,214.0 L169.7,214.1 L169.8,214.3 L169.9,214.5 L170.0,214.7 L170.0,214.9 L170.1,215.1 L170.2,215.3 L170.3,215.5 L170.3,215.7 L170.4,216.0 L170.5,216.2 L170.6,216.4" fill="none" stroke="#98df8a" stroke-width="4.0" stroke-linecap="round" stroke-linejoin="round"/>
<path d="M53.0,130.3 L53.2,130.3 L53.4,130.3 L53.7,130.3 L53.9,130.3 L54.2,130.3 L54.4,130.3 L54.7,130.3 L55.0,130.3 L55.2,130.3 L55.5,130.3 L55.7,130.3 L56.0,130.3 L56.2,130.3 L56.5,130.4 L56.7,130.4 L57.0,130.4 L57.2,130.4 L57.5,130.4 L57.7,130.4 L58.0,130.4 L58.2,130.4 L58.5,130.4 L58.7,130.4 L59.0,130.4 L59.2,130.5 L59.5,130.5 L59.7,130.5 L60.0,130.5 L60.2,130.5 L60.5,130.5 L60.8,130.5 L61.0,130.5 L61.3,130.5 L61.5,130.6 L61.8,130.6 L62.0,130.6 L62.3,130.6 L62.5,130.6 L62.8,130.6 L63.0,130.6 L63.3,130.7 L63.6,130.7 L63.8,130.7 L64.1,130.7 L64.3,130.7 L64.6,130.7 L64.8,130.8 L65.1,130.8 L65.3,130.8 L65.6,130.8 L65.9,130.8 L66.1,130.8 L66.4,130.9 L66.6,130.9 L66.9,130.9 L67.1,130.9 L67.4,130.9 L67.7,131.0 L67.9,131.0 L68.2,131.0 L68.4,131.0 L68.7,131.0 L68.9,131.1 L69.2,131.1 L69.5,131.1 L69.7,131.1 L70.0,131.1 L70.2,131.2 L70.5,131.2 L70.8,131.2 L71.0,131.2 L71.3,131.3 L71.5,131.3 L71.8,131.3 L72.0,131.3 L72.3,131.4 L72.6,131.4 L72.8,131.4 L73.1,131.4 L73.3,131.5 L73.6,131.5 L73.9,131.5 L74.1,131.5 L74.4,131.6 L74.6,131.6 L74.9,131.6 L75.2,131.6 L75.4,131.7 L75.7,131.7 L75.9,131.7 L76.2,131.8 L76.5,131.8 L76.7,131.8 L77.0,131.9 L77.2,131.9 L77.5,131.9 L77.8,131.9 L78.0,132.0 L78.3,132.0 L78.5,132.0 L78.8,132.1 L79.1,132.1 L79.3,132.1 L79.6,132.2 L79.8,132.2 L80.1,132.2 L80.4,132.3 L80.6,132.3 L80.9,132.3 L81.1,132.4 L81.4,132.4 L81.7,132.4 L81.9,132.5 L82.2,132.5 L82.4,132.6 L82.7,132.6 L83.0,132.6 L83.2,132.7 L83.5,132.7 L83.8,132.7 L84.0,132.8 L84.3,132.8 L84.5,132.9 L84.8,132.9 L85.1,132.9 L85.3,133.0 L85.6,133.0 L85.8,133.1 L86.1,133.1 L86.4,133.1 L86.6,133.2 L86.9,133.2 L87.2,133.3 L87.4,133.3 L87.7,133.3 L87.9,133.4 L88.2,133.4 L88.5,133.5 L88.7,133.5 L89.0,133.6 L89.2,133.6 L89.5,133.7 L89.8,133.7 L90.0,133.7 L90.3,133.8 L90.6,133.8 L90.8,133.9 L91.1,133.9 L91.3,134.0 L91.6,134.0 L91.9,134.1 L92.1,134.1 L92.4,134.2 L92.6,134.2 L92.9,134.3 L93.2,134.3 L93.4,134.4 L93.7,134.4 L94.0,134.5 L94.2,134.5 L94.5,134.6 L94.7,134.6 L95.0,134.7 L95.3,134.7 L95.5,134.8 L95.8,134.8 L96.0,134.9 L96.3,134.9 L96.6,135.0 L96.8,135.0 L97.1,135.1 L97.4,135.1 L97.6,135.2 L97.9,135.3 L98.1,135.3 L98.4,135.4 L98.7,135.4 L98.9,135.5 L99.2,135.5 L99.4,135.6 L99.7,135.6 L100.0,135.7 L100.2,135.8 L100.5,135.8 L100.8,135.9 L101.0,135.9 L101.3,136.0 L101.5,136.1 L101.8,136.1 L102.1,136.2 L102.3,136.2 L102.6,136.3 L102.8,136.4 L103.1,136.4 L103.4,136.5 L103.6,136.5 L103.9,136.6 L104.1,136.7 L104.4,136.7 L104.7,136.8 L104.9,136.9 L105.2,136.9 L105.4,137.0 L105.7,137.1 L106.0,137.1 L106.2,137.2 L106.5,137.2 L106.7,137.3 L107.0,137.4 L107.3,137.4 L107.5,137.5 L107.8,137.6 L108.0,137.6 L108.3,137.7 L108.6,137.8 L108.8,137.9 L109.1,137.9 L109.3,138.0 L109.6,138.1 L109.8,138.1 L110.1,138.2 L110.4,138.3 L110.6,138.3 L110.9,138.4 L111.1,138.5 L111.4,138.6 L111.7,138.6 L111.9,138.7 L112.2,138.8 L112.4,138.8 L112.7,138.9 L112.9,139.0 L113.2,139.1 L113.5,139.1 L113.7,139.2 L114.0,139.3 L114.2,139.4 L114.5,139.4 L114.7,139.5 L115.0,139.6 L115.3,139.7 L115.5,139.8 L115.8,139.8 L116.0,139.9 L116.3,140.0 L116.5,140.1 L116.8,140.1 L117.1,140.2 L117.3,140.3 L117.6,140.4 L117.8,140.5 L118.1,140.5 L118.3,140.6 L118.6,140.7 L118.8,140.8 L119.1,140.9 L119.4,141.0 L119.6,141.0 L119.9,141.1 L120.1,141.2 L120.4,141.3 L120.6,141.4 L120.9,141.5 L121.1,141.5 L121.4,141.6 L121.6,141.7 L121.9,141.8 L122.2,141.9 L122.4,142.0 L122.7,142.1 L122.9,142.1 L123.2,142.2 L123.4,142.3 L123.7,142.4 L123.9,142.5 L124.2,142.6 L124.4,142.7 L124.7,142.8 L124.9,142.9 L125.2,143.0 L125.4,143.0 L125.7,143.1 L125.9,143.2 L126.2,143.3 L126.4,143.4 L126.7,143.5 L126.9,143.6 L127.2,143.7 L127.4,143.8 L127.7,143.9 L127.9,144.0 L128.2,144.1 L128.4,144.2 L128.7,144.3 L128.9,144.4 L129.2,144.4 L129.4,144.5 L129.7,144.6 L129.9,144.7 L130.2,144.8 L130.4,144.9 L130.7,145.0 L130.9,145.1 L131.2,145.2 L131.4,145.3 L131.7,145.4 L131.9,145.5 L132.2,145.6 L132.4,145.7 L132.7,145.8 L132.9,145.9 L133.2,146.0 L133.4,146.1 L133.7,146.2 L133.9,146.3 L134.1,146.4 L134.4,146.6 L134.6,146.7 L134.9,146.8 L135.1,146.9 L135.4,147.0 L135.6,147.1 L135.9,147.2 L136.1,147.3 L136.3,147.4 L136.6,147.5 L136.8,147.6 L137.1,147.7 L137.3,147.8 L137.6,147.9 L137.8,148.0 L138.0,148.2 L138.3,148.3 L138.5,148.4 L138.8,148.5 L139.0,148.6 L139.3,148.7 L139.5,148.8 L139.7,148.9 L140.0,149.0 L140.2,149.2 L140.5,149.3 L140.7,149.4 L140.9,149.5 L141.2,149.6 L141.4,149.7 L141.7,149.8 L141.9,150.0 L142.1,150.1 L142.4,150.2 L142.6,150.3 L142.9,150.4 L143.1,150.5 L143.3,150.6 L143.6,150.8 L143.8,150.9 L144.0,151.0 L144.3,151.1 L144.5,151.2 L144.8,151.4 L145.0,151.5 L145.2,151.6 L145.5,151.7 L145.7,151.8 L145.9,152.0 L146.2,152.1 L146.4,152.2 L146.6,152.3 L146.9,152.5 L147.1,152.6 L147.3,152.7 L147.6,152.8 L147.8,153.0 L148.0,153.1 L148.3,153.2 L148.5,153.3 L148.7,153.5 L149.0,153.6 L149.2,153.7 L149.4,153.8 L149.7,154.0 L149.9,154.1 L150.1,154.2 L150.4,154.3 L150.6,154.5 L150.8,154.6 L151.0,154.7 L151.3,154.9 L151.5,155.0 L151.7,155.1 L152.0,155.3 L152.2,155.4 L152.4,155.5 L152.6,155.7 L152.9,155.8 L153.1,155.9 L153.3,156.1 L153.5,156.2 L153.8,156.3 L154.0,156.5 L154.2,156.6 L154.5,156.7 L154.7,156.9 L154.9,157.0 L155.1,157.1 L155.4,157.3 L155.6,157.4 L155.8,157.6 L156.0,157.7 L156.2,157.8 L156.5,158.0 L156.7,158.1 L156.9,158.2 L157.1,158.4 L157.4,158.5 L157.6,158.7 L157.8,158.8 L158.0,159.0 L158.2,159.1 L158.5,159.2 L158.7,159.4 L158.9,159.5 L159.1,159.7 L159.3,159.8 L159.6,160.0 L159.8,160.1 L160.0,160.2 L160.2,160.4 L160.4,160.5 L160.6,160.7 L160.9,160.8 L161.1,161.0 L161.3,161.1 L161.5,161.3 L161.7,161.4 L161.9,161.6 L162.2,161.7 L162.4,161.9 L162.6,162.0 L162.8,162.2 L163.0,162.3 L163.2,162.5 L163.4,162.6 L163.6,162.8 L163.9,162.9 L164.1,163.1 L164.3,163.2 L164.5,163.4 L164.7,163.6 L164.9,163.7 L165.1,163.9 L165.3,164.0 L165.5,164.2 L165.7,164.3 L166.0,164.5 L166.2,164.6 L166.4,164.8 L166.6,165.0 L166.8,165.1 L167.0,165.3 L167.2,165.4 L167.4,165.6 L167.6,165.8 L167.8,165.9 L168.0,166.1 L168.2,166.2 L168.4,166.4 L168.6,166.6 L168.8,166.7 L169.0,166.9 L169.2,167.0 L169.4,167.2 L169.7,167.4 L169.9,167.5 L170.1,167.7 L170.3,167.9 L170.5,168.0 L170.7,168.2 L170.9,168.4 L171.1,168.5 L171.3,168.7 L171.5,168.9 L171.7,169.0 L171.8,169.2 L172.0,169.4 L172.2,169.5 L172.4,169.7 L172.6,169.9 L172.8,170.1 L173.0,170.2 L173.2,170.4 L173.4,170.6 L173.6,170.7 L173.8,170.9 L174.0,171.1 L174.2,171.3 L174.4,171.4 L174.6,171.6 L174.8,171.8 L175.0,172.0 L175.1,172.1 L175.3,172.3 L175.5,172.5 L175.7,172.7 L175.9,172.8 L176.1,173.0 L176.3,173.2 L176.5,173.4 L176.7,173.5 L176.8,173.7 L177.0,173.9 L177.2,174.1 L177.4,174.3 L177.6,174.5 L177.8,174.6 L178.0,174.8 L178.1,175.0 L178.3,175.2 L178.5,175.4 L178.7,175.5 L178.9,175.7 L179.0,175.9 L179.2,176.1 L179.4,176.3 L179.6,176.5 L179.8,176.7 L179.9,176.8 L180.1,177.0 L180.3,177.2 L180.5,177.4 L180.6,177.6 L180.8,177.8 L181.0,178.0 L181.2,178.2 L181.3,178.3 L181.5,178.5 L181.7,178.7 L181.9,178.9 L182.0,179.1 L182.2,179.3 L182.4,179.5 L182.6,179.7 L182.7,179.9 L182.9,180.1 L183.1,180.3 L183.2,180.5 L183.4,180.7 L183.6,180.9 L183.7,181.1 L183.9,181.2 L184.1,181.4 L184.2,181.6 L184.4,181.8 L184.6,182.0 L184.7,182.2 L184.9,182.4 L185.1,182.6 L185.2,182.8 L185.4,183.0 L185.5,183.2 L185.7,183.4 L185.9,183.6 L186.0,183.8 L186.2,184.0 L186.3,184.2 L186.5,184.4 L186.6,184.7 L186.8,184.9 L187.0,185.1 L187.1,185.3 L187.3,185.5 L187.4,185.7 L187.6,185.9 L187.7,186.1 L187.9,186.3 L188.0,186.5 L188.2,186.7 L188.3,186.9 L188.5,187.1 L188.6,187.3 L188.8,187.5 L188.9,187.8 L189.1,188.0 L189.2,188.2 L189.4,188.4 L189.5,188.6 L189.7,188.8 L189.8,189.0 L189.9,189.2 L190.1,189.5 L190.2,189.7 L190.4,189.9 L190.5,190.1 L190.7,190.3 L190.8,190.5 L190.9,190.7 L191.1,191.0 L191.2,191.2 L191.3,191.4 L191.5,191.6 L191.6,191.8 L191.8,192.1 L191.9,192.3 L192.0,192.5 L192.2,192.7 L192.3,192.9 L192.4,193.2 L192.6,193.4 L192.7,193.6 L192.8,193.8 L192.9,194.1 L193.1,194.3 L193.2,194.5 L193.3,194.7 L193.5,194.9 L193.6,195.2 L193.7,195.4 L193.8,195.6 L194.0,195.9 L194.1,196.1 L194.2,196.3 L194.3,196.5 L194.4,196.8 L194.6,197.0 L194.7,197.2 L194.8,197.5 L194.9,197.7 L195.0,197.9 L195.2,198.1 L195.3,198.4 L195.4,198.6 L195.5,198.8 L195.6,199.1 L195.7,199.3 L195.8,199.5 L196.0,199.8 L196.1,200.0 L196.2,200.2 L196.3,200.5 L196.4,200.7 L196.5,201.0 L196.6,201.2 L196.7,201.4 L196.8,201.7 L196.9,201.9 L197.0,202.1 L197.1,202.4 L197.2,202.6 L197.3,202.9 L197.4,203.1 L197.5,203.4 L197.6,203.6 L197.7,203.8 L197.8,204.1 L197.9,204.3 L198.0,204.6 L198.1,204.8 L198.2,205.1 L198.3,205.3 L198.4,205.5 L198.5,205.8 L198.6,206.0 L198.7,206.3 L198.8,206.5 L198.9,206.8 L199.0,207.0 L199.0,207.3 L199.1,207.5 L199.2,207.8 L199.3,208.0 L199.4,208.3 L199.5,208.5 L199.6,208.8 L199.6,209.0 L199.7,209.3 L199.8,209.5 L199.9,209.8 L200.0,210.0 L200.0,210.3 L200.1,210.6 L200.2,210.8 L200.3,211.1 L200.3,211.3 L200.4,211.6 L200.5,211.8 L200.6,212.1 L200.6,212.4 L200.7,212.6 L200.8,212.9 L200.9,213.1 L200.9,213.4 L201.0,213.7 L201.1,213.9 L201.1,214.2 L201.2,214.4 L201.3,214.7 L201.3,215.0 L201.4,215.2 L201.4,215.5" fill="none" stroke="#9467bd" stroke-width="4.2" stroke-linecap="round" stroke-linejoin="round"/>
<g fill="none" stroke="#c49c94" stroke-width="0.85" stroke-opacity="0.75"><circle cx="52.9" cy="93.7" r="2.1"/><circle cx="55.1" cy="94.0" r="2.1"/><circle cx="57.4" cy="94.2" r="2.1"/><circle cx="59.6" cy="94.5" r="2.1"/><circle cx="61.8" cy="94.8" r="2.1"/><circle cx="64.0" cy="95.1" r="2.1"/><circle cx="66.2" cy="95.4" r="2.1"/><circle cx="68.4" cy="95.7" r="2.1"/><circle cx="70.6" cy="96.1" r="2.1"/><circle cx="72.8" cy="96.4" r="2.1"/><circle cx="75.0" cy="96.8" r="2.1"/><circle cx="77.1" cy="97.2" r="2.1"/><circle cx="79.3" cy="97.6" r="2.1"/><circle cx="81.4" cy="98.0" r="2.1"/><circle cx="83.6" cy="98.5" r="2.1"/><circle cx="85.7" cy="98.9" r="2.1"/><circle cx="87.8" cy="99.4" r="2.1"/><circle cx="89.9" cy="99.9" r="2.1"/><circle cx="92.0" cy="100.4" r="2.1"/><circle cx="94.1" cy="100.9" r="2.1"/><circle cx="96.1" cy="101.5" r="2.1"/><circle cx="98.2" cy="102.0" r="2.1"/><circle cx="100.2" cy="102.6" r="2.1"/><circle cx="102.2" cy="103.2" r="2.1"/><circle cx="104.2" cy="103.7" r="2.1"/><circle cx="106.2" cy="104.4" r="2.1"/><circle cx="108.2" cy="105.0" r="2.1"/><circle cx="110.2" cy="105.6" r="2.1"/><circle cx="112.1" cy="106.3" r="2.1"/><circle cx="114.0" cy="106.9" r="2.1"/><circle cx="116.0" cy="107.6" r="2.1"/><circle cx="117.9" cy="108.3" r="2.1"/><circle cx="119.7" cy="109.0" r="2.1"/><circle cx="121.6" cy="109.7" r="2.1"/><circle cx="123.5" cy="110.4" r="2.1"/><circle cx="125.3" cy="111.2" r="2.1"/><circle cx="127.1" cy="111.9" r="2.1"/><circle cx="128.9" cy="112.7" r="2.1"/><circle cx="130.7" cy="113.5" r="2.1"/><circle cx="132.4" cy="114.2" r="2.1"/><circle cx="134.2" cy="115.0" r="2.1"/><circle cx="135.9" cy="115.8" r="2.1"/><circle cx="137.6" cy="116.6" r="2.1"/><circle cx="139.3" cy="117.4" r="2.1"/><circle cx="140.9" cy="118.2" r="2.1"/><circle cx="142.6" cy="119.1" r="2.1"/><circle cx="144.2" cy="119.9" r="2.1"/><circle cx="145.8" cy="120.7" r="2.1"/><circle cx="147.4" cy="121.6" r="2.1"/><circle cx="149.0" cy="122.4" r="2.1"/><circle cx="150.6" cy="123.3" r="2.1"/><circle cx="152.1" cy="124.1" r="2.1"/><circle cx="153.7" cy="125.0" r="2.1"/><circle cx="155.2" cy="125.8" r="2.1"/><circle cx="156.7" cy="126.7" r="2.1"/><circle cx="158.2" cy="127.5" r="2.1"/><circle cx="159.6" cy="128.4" r="2.1"/><circle cx="161.1" cy="129.2" r="2.1"/><circle cx="162.5" cy="130.1" r="2.1"/><circle cx="163.9" cy="131.0" r="2.1"/><circle cx="165.3" cy="131.8" r="2.1"/><circle cx="166.7" cy="132.7" r="2.1"/><circle cx="168.1" cy="133.5" r="2.1"/><circle cx="169.4" cy="134.4" r="2.1"/><circle cx="170.8" cy="135.2" r="2.1"/><circle cx="172.1" cy="136.1" r="2.1"/><circle cx="173.4" cy="136.9" r="2.1"/><circle cx="174.7" cy="137.8" r="2.1"/><circle cx="176.0" cy="138.6" r="2.1"/><circle cx="177.2" cy="139.5" r="2.1"/><circle cx="178.5" cy="140.3" r="2.1"/><circle cx="179.7" cy="141.2" r="2.1"/><circle cx="180.9" cy="142.0" r="2.1"/><circle cx="182.2" cy="142.8" r="2.1"/><circle cx="183.4" cy="143.7" r="2.1"/><circle cx="184.5" cy="144.5" r="2.1"/><circle cx="185.7" cy="145.3" r="2.1"/><circle cx="186.9" cy="146.2" r="2.1"/><circle cx="188.0" cy="147.0" r="2.1"/><circle cx="189.1" cy="147.8" r="2.1"/><circle cx="190.3" cy="148.6" r="2.1"/><circle cx="191.4" cy="149.4" r="2.1"/><circle cx="192.5" cy="150.2" r="2.1"/><circle cx="193.5" cy="151.0" r="2.1"/><circle cx="194.6" cy="151.8" r="2.1"/><circle cx="195.7" cy="152.6" r="2.1"/><circle cx="196.7" cy="153.4" r="2.1"/><circle cx="197.7" cy="154.2" r="2.1"/><circle cx="198.7" cy="155.0" r="2.1"/><circle cx="199.7" cy="155.8" r="2.1"/><circle cx="200.7" cy="156.6" r="2.1"/><circle cx="201.7" cy="157.4" r="2.1"/><circle cx="202.6" cy="158.2" r="2.1"/><circle cx="203.6" cy="159.0" r="2.1"/><circle cx="204.5" cy="159.8" r="2.1"/><circle cx="205.4" cy="160.6" r="2.1"/><circle cx="206.3" cy="161.4" r="2.1"/><circle cx="207.2" cy="162.2" r="2.1"/><circle cx="208.0" cy="163.0" r="2.1"/><circle cx="208.9" cy="163.8" r="2.1"/><circle cx="209.7" cy="164.6" r="2.1"/><circle cx="210.6" cy="165.3" r="2.1"/><circle cx="211.4" cy="166.1" r="2.1"/><circle cx="212.2" cy="166.9" r="2.1"/><circle cx="213.0" cy="167.7" r="2.1"/><circle cx="213.7" cy="168.5" r="2.1"/><circle cx="214.5" cy="169.3" r="2.1"/><circle cx="215.2" cy="170.1" r="2.1"/><circle cx="215.9" cy="170.8" r="2.1"/><circle cx="216.7" cy="171.6" r="2.1"/><circle cx="217.4" cy="172.4" r="2.1"/><circle cx="218.0" cy="173.2" r="2.1"/><circle cx="218.7" cy="174.0" r="2.1"/><circle cx="219.4" cy="174.7" r="2.1"/><circle cx="220.0" cy="175.5" r="2.1"/><circle cx="220.6" cy="176.3" r="2.1"/><circle cx="221.2" cy="177.1" r="2.1"/><circle cx="221.8" cy="177.9" r="2.1"/><circle cx="222.4" cy="178.6" r="2.1"/><circle cx="223.0" cy="179.4" r="2.1"/><circle cx="223.5" cy="180.2" r="2.1"/><circle cx="224.1" cy="181.0" r="2.1"/><circle cx="224.6" cy="181.7" r="2.1"/><circle cx="225.1" cy="182.5" r="2.1"/><circle cx="225.6" cy="183.3" r="2.1"/><circle cx="226.1" cy="184.0" r="2.1"/><circle cx="226.6" cy="184.8" r="2.1"/><circle cx="227.1" cy="185.6" r="2.1"/><circle cx="227.5" cy="186.3" r="2.1"/><circle cx="227.9" cy="187.1" r="2.1"/><circle cx="228.4" cy="187.8" r="2.1"/><circle cx="228.8" cy="188.6" r="2.1"/><circle cx="229.2" cy="189.3" r="2.1"/><circle cx="229.6" cy="190.1" r="2.1"/><circle cx="229.9" cy="190.9" r="2.1"/><circle cx="230.3" cy="191.6" r="2.1"/><circle cx="230.7" cy="192.3" r="2.1"/><circle cx="231.0" cy="193.1" r="2.1"/><circle cx="231.3" cy="193.8" r="2.1"/><circle cx="231.6" cy="194.6" r="2.1"/><circle cx="231.9" cy="195.3" r="2.1"/><circle cx="232.2" cy="196.1" r="2.1"/><circle cx="232.5" cy="196.8" r="2.1"/><circle cx="232.8" cy="197.5" r="2.1"/><circle cx="233.1" cy="198.3" r="2.1"/><circle cx="233.3" cy="199.0" r="2.1"/><circle cx="233.6" cy="199.7" r="2.1"/><circle cx="233.8" cy="200.5" r="2.1"/><circle cx="234.0" cy="201.2" r="2.1"/><circle cx="234.2" cy="201.9" r="2.1"/><circle cx="234.4" cy="202.6" r="2.1"/><circle cx="234.6" cy="203.3" r="2.1"/><circle cx="234.8" cy="204.1" r="2.1"/><circle cx="235.0" cy="204.8" r="2.1"/><circle cx="235.2" cy="205.5" r="2.1"/><circle cx="235.3" cy="206.2" r="2.1"/><circle cx="235.5" cy="206.9" r="2.1"/><circle cx="235.6" cy="207.6" r="2.1"/><circle cx="235.7" cy="208.4" r="2.1"/><circle cx="235.9" cy="209.1" r="2.1"/><circle cx="236.0" cy="209.8" r="2.1"/><circle cx="236.1" cy="210.5" r="2.1"/><circle cx="236.2" cy="211.2" r="2.1"/><circle cx="236.3" cy="211.9" r="2.1"/><circle cx="236.4" cy="212.6" r="2.1"/><circle cx="236.4" cy="213.3" r="2.1"/><circle cx="236.5" cy="214.0" r="2.1"/><circle cx="236.6" cy="214.7" r="2.1"/><circle cx="236.6" cy="215.5" r="2.1"/><circle cx="236.7" cy="216.2" r="2.1"/><circle cx="236.7" cy="216.8" r="2.1"/></g>
<g fill="none" stroke="#7f7f7f" stroke-width="0.85" stroke-opacity="0.8"><circle cx="52.9" cy="78.2" r="2.1"/><circle cx="55.6" cy="78.5" r="2.1"/><circle cx="58.4" cy="78.8" r="2.1"/><circle cx="61.1" cy="79.2" r="2.1"/><circle cx="63.8" cy="79.6" r="2.1"/><circle cx="66.5" cy="80.0" r="2.1"/><circle cx="69.1" cy="80.5" r="2.1"/><circle cx="71.8" cy="81.0" r="2.1"/><circle cx="74.4" cy="81.5" r="2.1"/><circle cx="77.1" cy="82.1" r="2.1"/><circle cx="79.7" cy="82.7" r="2.1"/><circle cx="82.3" cy="83.3" r="2.1"/><circle cx="84.9" cy="83.9" r="2.1"/><circle cx="87.4" cy="84.6" r="2.1"/><circle cx="90.0" cy="85.3" r="2.1"/><circle cx="92.5" cy="86.0" r="2.1"/><circle cx="95.0" cy="86.7" r="2.1"/><circle cx="97.5" cy="87.5" r="2.1"/><circle cx="99.9" cy="88.2" r="2.1"/><circle cx="102.4" cy="89.0" r="2.1"/><circle cx="104.8" cy="89.8" r="2.1"/><circle cx="107.2" cy="90.6" r="2.1"/><circle cx="109.6" cy="91.4" r="2.1"/><circle cx="112.0" cy="92.2" r="2.1"/><circle cx="114.3" cy="93.0" r="2.1"/><circle cx="116.7" cy="93.9" r="2.1"/><circle cx="119.0" cy="94.7" r="2.1"/><circle cx="121.3" cy="95.6" r="2.1"/><circle cx="123.6" cy="96.5" r="2.1"/><circle cx="125.8" cy="97.3" r="2.1"/><circle cx="128.1" cy="98.2" r="2.1"/><circle cx="130.3" cy="99.1" r="2.1"/><circle cx="132.5" cy="99.9" r="2.1"/><circle cx="134.7" cy="100.8" r="2.1"/><circle cx="136.8" cy="101.7" r="2.1"/><circle cx="139.0" cy="102.6" r="2.1"/><circle cx="141.1" cy="103.4" r="2.1"/><circle cx="143.3" cy="104.3" r="2.1"/><circle cx="145.4" cy="105.2" r="2.1"/><circle cx="147.5" cy="106.1" r="2.1"/><circle cx="149.5" cy="107.0" r="2.1"/><circle cx="151.6" cy="107.8" r="2.1"/><circle cx="153.6" cy="108.7" r="2.1"/><circle cx="155.6" cy="109.6" r="2.1"/><circle cx="157.6" cy="110.5" r="2.1"/><circle cx="159.6" cy="111.4" r="2.1"/><circle cx="161.6" cy="112.3" r="2.1"/><circle cx="163.5" cy="113.2" r="2.1"/><circle cx="165.5" cy="114.1" r="2.1"/><circle cx="167.4" cy="115.0" r="2.1"/><circle cx="169.3" cy="115.9" r="2.1"/><circle cx="171.1" cy="116.8" r="2.1"/><circle cx="173.0" cy="117.7" r="2.1"/><circle cx="174.8" cy="118.6" r="2.1"/><circle cx="176.6" cy="119.5" r="2.1"/><circle cx="178.4" cy="120.4" r="2.1"/><circle cx="180.2" cy="121.4" r="2.1"/><circle cx="182.0" cy="122.3" r="2.1"/><circle cx="183.7" cy="123.3" r="2.1"/><circle cx="185.4" cy="124.2" r="2.1"/><circle cx="187.1" cy="125.1" r="2.1"/><circle cx="188.8" cy="126.1" r="2.1"/><circle cx="190.4" cy="127.0" r="2.1"/><circle cx="192.0" cy="128.0" r="2.1"/><circle cx="193.6" cy="129.0" r="2.1"/><circle cx="195.2" cy="129.9" r="2.1"/><circle cx="196.8" cy="130.9" r="2.1"/><circle cx="198.3" cy="131.9" r="2.1"/><circle cx="199.8" cy="132.9" r="2.1"/><circle cx="201.3" cy="133.9" r="2.1"/><circle cx="202.8" cy="134.8" r="2.1"/><circle cx="204.3" cy="135.8" r="2.1"/><circle cx="205.7" cy="136.8" r="2.1"/><circle cx="207.1" cy="137.8" r="2.1"/><circle cx="208.5" cy="138.8" r="2.1"/><circle cx="209.9" cy="139.8" r="2.1"/><circle cx="211.2" cy="140.8" r="2.1"/><circle cx="212.5" cy="141.8" r="2.1"/><circle cx="213.8" cy="142.8" r="2.1"/><circle cx="215.1" cy="143.8" r="2.1"/><circle cx="216.4" cy="144.9" r="2.1"/><circle cx="217.6" cy="145.9" r="2.1"/><circle cx="218.8" cy="146.9" r="2.1"/><circle cx="220.0" cy="147.9" r="2.1"/><circle cx="221.2" cy="148.9" r="2.1"/><circle cx="222.3" cy="149.9" r="2.1"/><circle cx="223.5" cy="150.9" r="2.1"/><circle cx="224.6" cy="152.0" r="2.1"/><circle cx="225.7" cy="153.0" r="2.1"/><circle cx="226.7" cy="154.0" r="2.1"/><circle cx="227.8" cy="155.0" r="2.1"/><circle cx="228.8" cy="156.0" r="2.1"/><circle cx="229.8" cy="157.0" r="2.1"/><circle cx="230.8" cy="158.1" r="2.1"/><circle cx="231.7" cy="159.1" r="2.1"/><circle cx="232.7" cy="160.1" r="2.1"/><circle cx="233.6" cy="161.1" r="2.1"/><circle cx="234.5" cy="162.1" r="2.1"/><circle cx="235.3" cy="163.1" r="2.1"/><circle cx="236.2" cy="164.1" r="2.1"/><circle cx="237.0" cy="165.1" r="2.1"/><circle cx="237.8" cy="166.1" r="2.1"/><circle cx="238.6" cy="167.1" r="2.1"/><circle cx="239.4" cy="168.1" r="2.1"/><circle cx="240.2" cy="169.1" r="2.1"/><circle cx="240.9" cy="170.1" r="2.1"/><circle cx="241.6" cy="171.1" r="2.1"/><circle cx="242.3" cy="172.1" r="2.1"/><circle cx="243.0" cy="173.1" r="2.1"/><circle cx="243.7" cy="174.1" r="2.1"/><circle cx="244.3" cy="175.0" r="2.1"/><circle cx="245.0" cy="176.0" r="2.1"/><circle cx="245.6" cy="177.0" r="2.1"/><circle cx="246.2" cy="178.0" r="2.1"/><circle cx="246.8" cy="178.9" r="2.1"/><circle cx="247.3" cy="179.9" r="2.1"/><circle cx="247.9" cy="180.8" r="2.1"/><circle cx="248.4" cy="181.8" r="2.1"/><circle cx="248.9" cy="182.7" r="2.1"/><circle cx="249.4" cy="183.7" r="2.1"/><circle cx="249.9" cy="184.6" r="2.1"/><circle cx="250.4" cy="185.6" r="2.1"/><circle cx="250.8" cy="186.5" r="2.1"/><circle cx="251.3" cy="187.4" r="2.1"/><circle cx="251.7" cy="188.4" r="2.1"/><circle cx="252.1" cy="189.3" r="2.1"/><circle cx="252.5" cy="190.2" r="2.1"/><circle cx="252.9" cy="191.1" r="2.1"/><circle cx="253.3" cy="192.0" r="2.1"/><circle cx="253.6" cy="193.0" r="2.1"/><circle cx="254.0" cy="193.9" r="2.1"/><circle cx="254.3" cy="194.8" r="2.1"/><circle cx="254.6" cy="195.7" r="2.1"/><circle cx="254.9" cy="196.6" r="2.1"/><circle cx="255.2" cy="197.5" r="2.1"/><circle cx="255.5" cy="198.3" r="2.1"/><circle cx="255.8" cy="199.2" r="2.1"/><circle cx="256.1" cy="200.1" r="2.1"/><circle cx="256.3" cy="201.0" r="2.1"/><circle cx="256.6" cy="201.9" r="2.1"/><circle cx="256.8" cy="202.8" r="2.1"/><circle cx="257.1" cy="203.6" r="2.1"/><circle cx="257.3" cy="204.5" r="2.1"/><circle cx="257.5" cy="205.4" r="2.1"/><circle cx="257.7" cy="206.3" r="2.1"/><circle cx="257.9" cy="207.1" r="2.1"/><circle cx="258.0" cy="208.0" r="2.1"/><circle cx="258.2" cy="208.9" r="2.1"/><circle cx="258.4" cy="209.7" r="2.1"/><circle cx="258.5" cy="210.6" r="2.1"/><circle cx="258.7" cy="211.5" r="2.1"/><circle cx="258.8" cy="212.3" r="2.1"/><circle cx="258.9" cy="213.2" r="2.1"/><circle cx="259.0" cy="214.0" r="2.1"/><circle cx="259.1" cy="214.9" r="2.1"/><circle cx="259.2" cy="215.8" r="2.1"/><circle cx="259.3" cy="216.6" r="2.1"/><circle cx="259.4" cy="216.8" r="2.1"/></g>
<g fill="none" stroke="#dbdb8d" stroke-width="0.85" stroke-opacity="0.8"><circle cx="52.9" cy="56.5" r="2.1"/><circle cx="56.2" cy="57.3" r="2.1"/><circle cx="59.5" cy="58.2" r="2.1"/><circle cx="62.7" cy="59.0" r="2.1"/><circle cx="66.0" cy="59.8" r="2.1"/><circle cx="69.2" cy="60.7" r="2.1"/><circle cx="72.4" cy="61.6" r="2.1"/><circle cx="75.6" cy="62.4" r="2.1"/><circle cx="78.7" cy="63.3" r="2.1"/><circle cx="81.9" cy="64.2" r="2.1"/><circle cx="85.0" cy="65.1" r="2.1"/><circle cx="88.1" cy="66.0" r="2.1"/><circle cx="91.2" cy="66.9" r="2.1"/><circle cx="94.2" cy="67.8" r="2.1"/><circle cx="97.3" cy="68.7" r="2.1"/><circle cx="100.3" cy="69.7" r="2.1"/><circle cx="103.3" cy="70.6" r="2.1"/><circle cx="106.3" cy="71.5" r="2.1"/><circle cx="109.2" cy="72.5" r="2.1"/><circle cx="112.1" cy="73.5" r="2.1"/><circle cx="115.1" cy="74.4" r="2.1"/><circle cx="117.9" cy="75.4" r="2.1"/><circle cx="120.8" cy="76.4" r="2.1"/><circle cx="123.7" cy="77.4" r="2.1"/><circle cx="126.5" cy="78.4" r="2.1"/><circle cx="129.3" cy="79.4" r="2.1"/><circle cx="132.1" cy="80.4" r="2.1"/><circle cx="134.8" cy="81.5" r="2.1"/><circle cx="137.6" cy="82.5" r="2.1"/><circle cx="140.3" cy="83.5" r="2.1"/><circle cx="142.9" cy="84.6" r="2.1"/><circle cx="145.6" cy="85.7" r="2.1"/><circle cx="148.2" cy="86.7" r="2.1"/><circle cx="150.9" cy="87.8" r="2.1"/><circle cx="153.4" cy="88.9" r="2.1"/><circle cx="156.0" cy="90.0" r="2.1"/><circle cx="158.5" cy="91.1" r="2.1"/><circle cx="161.1" cy="92.2" r="2.1"/><circle cx="163.5" cy="93.3" r="2.1"/><circle cx="166.0" cy="94.4" r="2.1"/><circle cx="168.4" cy="95.5" r="2.1"/><circle cx="170.9" cy="96.7" r="2.1"/><circle cx="173.2" cy="97.8" r="2.1"/><circle cx="175.6" cy="99.0" r="2.1"/><circle cx="177.9" cy="100.1" r="2.1"/><circle cx="180.2" cy="101.3" r="2.1"/><circle cx="182.5" cy="102.5" r="2.1"/><circle cx="184.7" cy="103.7" r="2.1"/><circle cx="187.0" cy="104.9" r="2.1"/><circle cx="189.1" cy="106.1" r="2.1"/><circle cx="191.3" cy="107.3" r="2.1"/><circle cx="193.4" cy="108.5" r="2.1"/><circle cx="195.5" cy="109.7" r="2.1"/><circle cx="197.6" cy="110.9" r="2.1"/><circle cx="199.7" cy="112.2" r="2.1"/><circle cx="201.7" cy="113.4" r="2.1"/><circle cx="203.6" cy="114.7" r="2.1"/><circle cx="205.6" cy="115.9" r="2.1"/><circle cx="207.5" cy="117.2" r="2.1"/><circle cx="209.4" cy="118.5" r="2.1"/><circle cx="211.3" cy="119.8" r="2.1"/><circle cx="213.1" cy="121.0" r="2.1"/><circle cx="214.9" cy="122.3" r="2.1"/><circle cx="216.7" cy="123.6" r="2.1"/><circle cx="218.4" cy="124.9" r="2.1"/><circle cx="220.1" cy="126.2" r="2.1"/><circle cx="221.8" cy="127.5" r="2.1"/><circle cx="223.4" cy="128.8" r="2.1"/><circle cx="225.0" cy="130.2" r="2.1"/><circle cx="226.6" cy="131.5" r="2.1"/><circle cx="228.2" cy="132.8" r="2.1"/><circle cx="229.7" cy="134.1" r="2.1"/><circle cx="231.2" cy="135.4" r="2.1"/><circle cx="232.6" cy="136.8" r="2.1"/><circle cx="234.1" cy="138.1" r="2.1"/><circle cx="235.5" cy="139.4" r="2.1"/><circle cx="236.8" cy="140.8" r="2.1"/><circle cx="238.2" cy="142.1" r="2.1"/><circle cx="239.5" cy="143.4" r="2.1"/><circle cx="240.8" cy="144.8" r="2.1"/><circle cx="242.0" cy="146.1" r="2.1"/><circle cx="243.2" cy="147.4" r="2.1"/><circle cx="244.4" cy="148.7" r="2.1"/><circle cx="245.6" cy="150.1" r="2.1"/><circle cx="246.7" cy="151.4" r="2.1"/><circle cx="247.8" cy="152.7" r="2.1"/><circle cx="248.9" cy="154.0" r="2.1"/><circle cx="249.9" cy="155.4" r="2.1"/><circle cx="250.9" cy="156.7" r="2.1"/><circle cx="251.9" cy="158.0" r="2.1"/><circle cx="252.9" cy="159.3" r="2.1"/><circle cx="253.8" cy="160.6" r="2.1"/><circle cx="254.7" cy="161.9" r="2.1"/><circle cx="255.6" cy="163.2" r="2.1"/><circle cx="256.5" cy="164.5" r="2.1"/><circle cx="257.3" cy="165.8" r="2.1"/><circle cx="258.1" cy="167.1" r="2.1"/><circle cx="258.9" cy="168.4" r="2.1"/><circle cx="259.7" cy="169.6" r="2.1"/><circle cx="260.4" cy="170.9" r="2.1"/><circle cx="261.1" cy="172.2" r="2.1"/><circle cx="261.8" cy="173.4" r="2.1"/><circle cx="262.5" cy="174.7" r="2.1"/><circle cx="263.1" cy="176.0" r="2.1"/><circle cx="263.8" cy="177.2" r="2.1"/><circle cx="264.4" cy="178.4" r="2.1"/><circle cx="264.9" cy="179.7" r="2.1"/><circle cx="265.5" cy="180.9" r="2.1"/><circle cx="266.0" cy="182.1" r="2.1"/><circle cx="266.6" cy="183.4" r="2.1"/><circle cx="267.1" cy="184.6" r="2.1"/><circle cx="267.6" cy="185.8" r="2.1"/><circle cx="268.0" cy="187.0" r="2.1"/><circle cx="268.5" cy="188.2" r="2.1"/><circle cx="268.9" cy="189.4" r="2.1"/><circle cx="269.3" cy="190.6" r="2.1"/><circle cx="269.7" cy="191.8" r="2.1"/><circle cx="270.1" cy="193.0" r="2.1"/><circle cx="270.4" cy="194.2" r="2.1"/><circle cx="270.8" cy="195.3" r="2.1"/><circle cx="271.1" cy="196.5" r="2.1"/><circle cx="271.4" cy="197.7" r="2.1"/><circle cx="271.7" cy="198.9" r="2.1"/><circle cx="272.0" cy="200.0" r="2.1"/><circle cx="272.3" cy="201.2" r="2.1"/><circle cx="272.5" cy="202.3" r="2.1"/><circle cx="272.8" cy="203.5" r="2.1"/><circle cx="273.0" cy="204.6" r="2.1"/><circle cx="273.2" cy="205.8" r="2.1"/><circle cx="273.4" cy="206.9" r="2.1"/><circle cx="273.6" cy="208.1" r="2.1"/><circle cx="273.7" cy="209.2" r="2.1"/><circle cx="273.9" cy="210.4" r="2.1"/><circle cx="274.1" cy="211.5" r="2.1"/><circle cx="274.2" cy="212.7" r="2.1"/><circle cx="274.3" cy="213.8" r="2.1"/><circle cx="274.4" cy="215.0" r="2.1"/><circle cx="274.5" cy="216.1" r="2.1"/><circle cx="274.6" cy="216.9" r="2.1"/></g>
<g fill="none" stroke="#9edae5" stroke-width="0.85" stroke-opacity="0.75"><circle cx="53.0" cy="27.3" r="2.1"/><circle cx="57.0" cy="28.6" r="2.1"/><circle cx="61.0" cy="29.9" r="2.1"/><circle cx="65.0" cy="31.2" r="2.1"/><circle cx="69.0" cy="32.5" r="2.1"/><circle cx="72.9" cy="33.8" r="2.1"/><circle cx="76.8" cy="35.2" r="2.1"/><circle cx="80.7" cy="36.5" r="2.1"/><circle cx="84.6" cy="37.8" r="2.1"/><circle cx="88.4" cy="39.1" r="2.1"/><circle cx="92.2" cy="40.4" r="2.1"/><circle cx="95.9" cy="41.8" r="2.1"/><circle cx="99.7" cy="43.1" r="2.1"/><circle cx="103.4" cy="44.4" r="2.1"/><circle cx="107.1" cy="45.8" r="2.1"/><circle cx="110.7" cy="47.1" r="2.1"/><circle cx="114.3" cy="48.5" r="2.1"/><circle cx="117.9" cy="49.8" r="2.1"/><circle cx="121.4" cy="51.2" r="2.1"/><circle cx="125.0" cy="52.6" r="2.1"/><circle cx="128.5" cy="54.0" r="2.1"/><circle cx="131.9" cy="55.4" r="2.1"/><circle cx="135.3" cy="56.8" r="2.1"/><circle cx="138.7" cy="58.2" r="2.1"/><circle cx="142.1" cy="59.6" r="2.1"/><circle cx="145.4" cy="61.0" r="2.1"/><circle cx="148.7" cy="62.5" r="2.1"/><circle cx="152.0" cy="63.9" r="2.1"/><circle cx="155.2" cy="65.4" r="2.1"/><circle cx="158.4" cy="66.8" r="2.1"/><circle cx="161.5" cy="68.3" r="2.1"/><circle cx="164.6" cy="69.8" r="2.1"/><circle cx="167.7" cy="71.3" r="2.1"/><circle cx="170.8" cy="72.8" r="2.1"/><circle cx="173.8" cy="74.3" r="2.1"/><circle cx="176.8" cy="75.8" r="2.1"/><circle cx="179.7" cy="77.3" r="2.1"/><circle cx="182.6" cy="78.9" r="2.1"/><circle cx="185.4" cy="80.4" r="2.1"/><circle cx="188.3" cy="82.0" r="2.1"/><circle cx="191.1" cy="83.5" r="2.1"/><circle cx="193.8" cy="85.1" r="2.1"/><circle cx="196.5" cy="86.7" r="2.1"/><circle cx="199.2" cy="88.2" r="2.1"/><circle cx="201.8" cy="89.8" r="2.1"/><circle cx="204.4" cy="91.4" r="2.1"/><circle cx="207.0" cy="93.0" r="2.1"/><circle cx="209.5" cy="94.6" r="2.1"/><circle cx="212.0" cy="96.3" r="2.1"/><circle cx="214.4" cy="97.9" r="2.1"/><circle cx="216.8" cy="99.5" r="2.1"/><circle cx="219.2" cy="101.1" r="2.1"/><circle cx="221.5" cy="102.8" r="2.1"/><circle cx="223.8" cy="104.4" r="2.1"/><circle cx="226.1" cy="106.0" r="2.1"/><circle cx="228.3" cy="107.7" r="2.1"/><circle cx="230.4" cy="109.3" r="2.1"/><circle cx="232.6" cy="111.0" r="2.1"/><circle cx="234.7" cy="112.6" r="2.1"/><circle cx="236.7" cy="114.3" r="2.1"/><circle cx="238.8" cy="115.9" r="2.1"/><circle cx="240.7" cy="117.6" r="2.1"/><circle cx="242.7" cy="119.2" r="2.1"/><circle cx="244.6" cy="120.9" r="2.1"/><circle cx="246.5" cy="122.5" r="2.1"/><circle cx="248.3" cy="124.2" r="2.1"/><circle cx="250.1" cy="125.8" r="2.1"/><circle cx="251.9" cy="127.5" r="2.1"/><circle cx="253.6" cy="129.1" r="2.1"/><circle cx="255.3" cy="130.8" r="2.1"/><circle cx="257.0" cy="132.4" r="2.1"/><circle cx="258.6" cy="134.1" r="2.1"/><circle cx="260.2" cy="135.7" r="2.1"/><circle cx="261.7" cy="137.3" r="2.1"/><circle cx="263.2" cy="139.0" r="2.1"/><circle cx="264.7" cy="140.6" r="2.1"/><circle cx="266.2" cy="142.2" r="2.1"/><circle cx="267.6" cy="143.9" r="2.1"/><circle cx="269.0" cy="145.5" r="2.1"/><circle cx="270.3" cy="147.1" r="2.1"/><circle cx="271.6" cy="148.7" r="2.1"/><circle cx="272.9" cy="150.3" r="2.1"/><circle cx="274.1" cy="151.9" r="2.1"/><circle cx="275.4" cy="153.5" r="2.1"/><circle cx="276.5" cy="155.1" r="2.1"/><circle cx="277.7" cy="156.7" r="2.1"/><circle cx="278.8" cy="158.3" r="2.1"/><circle cx="279.9" cy="159.9" r="2.1"/><circle cx="281.0" cy="161.5" r="2.1"/><circle cx="282.0" cy="163.1" r="2.1"/><circle cx="283.0" cy="164.6" r="2.1"/><circle cx="284.0" cy="166.2" r="2.1"/><circle cx="284.9" cy="167.8" r="2.1"/><circle cx="285.9" cy="169.3" r="2.1"/><circle cx="286.7" cy="170.9" r="2.1"/><circle cx="287.6" cy="172.4" r="2.1"/><circle cx="288.4" cy="174.0" r="2.1"/><circle cx="289.3" cy="175.5" r="2.1"/><circle cx="290.0" cy="177.1" r="2.1"/><circle cx="290.8" cy="178.6" r="2.1"/><circle cx="291.5" cy="180.1" r="2.1"/><circle cx="292.3" cy="181.6" r="2.1"/><circle cx="293.0" cy="183.1" r="2.1"/><circle cx="293.6" cy="184.7" r="2.1"/><circle cx="294.3" cy="186.2" r="2.1"/><circle cx="294.9" cy="187.7" r="2.1"/><circle cx="295.5" cy="189.2" r="2.1"/><circle cx="296.1" cy="190.7" r="2.1"/><circle cx="296.6" cy="192.1" r="2.1"/><circle cx="297.1" cy="193.6" r="2.1"/><circle cx="297.7" cy="195.1" r="2.1"/><circle cx="298.2" cy="196.6" r="2.1"/><circle cx="298.6" cy="198.1" r="2.1"/><circle cx="299.1" cy="199.6" r="2.1"/><circle cx="299.5" cy="201.1" r="2.1"/><circle cx="299.9" cy="202.5" r="2.1"/><circle cx="300.3" cy="204.0" r="2.1"/><circle cx="300.7" cy="205.5" r="2.1"/><circle cx="301.1" cy="207.0" r="2.1"/><circle cx="301.4" cy="208.4" r="2.1"/><circle cx="301.7" cy="209.9" r="2.1"/><circle cx="302.0" cy="211.4" r="2.1"/><circle cx="302.3" cy="212.9" r="2.1"/><circle cx="302.6" cy="214.4" r="2.1"/><circle cx="302.9" cy="215.8" r="2.1"/><circle cx="303.0" cy="216.8" r="2.1"/></g>
<g fill="none" stroke="#1f77b4" stroke-width="0.7" opacity="0.9"><circle cx="396.4" cy="214.5" r="2.15"/><circle cx="396.6" cy="212.9" r="2.15"/><circle cx="396.7" cy="211.4" r="2.15"/><circle cx="397.3" cy="209.9" r="2.15"/><circle cx="397.5" cy="208.1" r="2.15"/><circle cx="398.1" cy="206.8" r="2.15"/><circle cx="398.5" cy="205.3" r="2.15"/><circle cx="399.4" cy="203.8" r="2.15"/><circle cx="400.4" cy="202.5" r="2.15"/><circle cx="401.4" cy="201.4" r="2.15"/><circle cx="402.4" cy="200.2" r="2.15"/><circle cx="403.4" cy="198.9" r="2.15"/><circle cx="404.8" cy="197.7" r="2.15"/><circle cx="405.7" cy="196.5" r="2.15"/><circle cx="407.0" cy="195.7" r="2.15"/><circle cx="408.2" cy="194.7" r="2.15"/><circle cx="409.7" cy="193.9" r="2.15"/><circle cx="411.1" cy="193.0" r="2.15"/><circle cx="412.5" cy="192.0" r="2.15"/><circle cx="414.3" cy="191.5" r="2.15"/><circle cx="415.7" cy="190.7" r="2.15"/><circle cx="417.8" cy="189.8" r="2.15"/><circle cx="419.5" cy="188.9" r="2.15"/><circle cx="421.5" cy="188.6" r="2.15"/><circle cx="423.5" cy="187.9" r="2.15"/><circle cx="425.3" cy="187.0" r="2.15"/><circle cx="427.3" cy="186.8" r="2.15"/><circle cx="429.3" cy="186.3" r="2.15"/><circle cx="431.7" cy="186.0" r="2.15"/><circle cx="433.6" cy="185.4" r="2.15"/><circle cx="436.0" cy="185.1" r="2.15"/><circle cx="438.5" cy="184.9" r="2.15"/><circle cx="440.6" cy="184.8" r="2.15"/><circle cx="443.1" cy="184.9" r="2.15"/><circle cx="445.2" cy="184.2" r="2.15"/><circle cx="447.4" cy="184.6" r="2.15"/><circle cx="449.9" cy="184.3" r="2.15"/><circle cx="452.3" cy="184.1" r="2.15"/><circle cx="454.3" cy="184.5" r="2.15"/><circle cx="456.7" cy="184.6" r="2.15"/><circle cx="459.0" cy="184.3" r="2.15"/><circle cx="461.3" cy="184.3" r="2.15"/><circle cx="463.4" cy="184.7" r="2.15"/><circle cx="466.0" cy="184.9" r="2.15"/><circle cx="468.1" cy="185.2" r="2.15"/><circle cx="470.4" cy="185.4" r="2.15"/><circle cx="472.6" cy="185.3" r="2.15"/><circle cx="474.9" cy="185.9" r="2.15"/><circle cx="477.1" cy="186.0" r="2.15"/><circle cx="479.0" cy="186.3" r="2.15"/><circle cx="481.3" cy="187.2" r="2.15"/><circle cx="483.3" cy="187.4" r="2.15"/><circle cx="485.4" cy="188.0" r="2.15"/><circle cx="487.1" cy="188.9" r="2.15"/><circle cx="488.7" cy="189.5" r="2.15"/><circle cx="490.7" cy="190.2" r="2.15"/><circle cx="492.5" cy="191.0" r="2.15"/><circle cx="494.2" cy="191.7" r="2.15"/><circle cx="495.9" cy="192.7" r="2.15"/><circle cx="497.2" cy="193.7" r="2.15"/><circle cx="498.6" cy="194.5" r="2.15"/><circle cx="499.7" cy="195.1" r="2.15"/><circle cx="500.9" cy="196.1" r="2.15"/><circle cx="501.8" cy="197.2" r="2.15"/><circle cx="502.9" cy="197.9" r="2.15"/><circle cx="503.7" cy="199.0" r="2.15"/><circle cx="504.8" cy="200.0" r="2.15"/><circle cx="505.5" cy="200.9" r="2.15"/><circle cx="506.4" cy="201.7" r="2.15"/><circle cx="506.5" cy="202.6" r="2.15"/><circle cx="507.5" cy="203.2" r="2.15"/><circle cx="508.0" cy="204.0" r="2.15"/><circle cx="508.5" cy="204.6" r="2.15"/><circle cx="508.6" cy="205.3" r="2.15"/><circle cx="509.2" cy="206.2" r="2.15"/><circle cx="509.6" cy="206.7" r="2.15"/><circle cx="509.9" cy="207.2" r="2.15"/><circle cx="510.3" cy="207.6" r="2.15"/><circle cx="510.6" cy="208.4" r="2.15"/><circle cx="510.7" cy="208.5" r="2.15"/><circle cx="511.2" cy="209.3" r="2.15"/><circle cx="511.2" cy="209.8" r="2.15"/><circle cx="511.7" cy="210.3" r="2.15"/><circle cx="511.7" cy="210.5" r="2.15"/><circle cx="512.1" cy="211.2" r="2.15"/><circle cx="512.1" cy="211.5" r="2.15"/><circle cx="512.2" cy="211.9" r="2.15"/><circle cx="512.3" cy="212.1" r="2.15"/><circle cx="512.1" cy="212.6" r="2.15"/><circle cx="512.2" cy="212.7" r="2.15"/><circle cx="512.5" cy="212.9" r="2.15"/><circle cx="512.7" cy="213.3" r="2.15"/><circle cx="512.7" cy="213.7" r="2.15"/><circle cx="512.8" cy="214.1" r="2.15"/><circle cx="513.0" cy="214.0" r="2.15"/><circle cx="512.7" cy="214.1" r="2.15"/><circle cx="513.0" cy="214.5" r="2.15"/><circle cx="513.6" cy="211.0" r="2.15"/><circle cx="512.9" cy="215.6" r="2.15"/><circle cx="512.4" cy="212.5" r="2.15"/><circle cx="512.8" cy="214.2" r="2.15"/><circle cx="512.7" cy="213.7" r="2.15"/><circle cx="512.2" cy="215.5" r="2.15"/><circle cx="513.4" cy="213.3" r="2.15"/></g>
<path d="M396.4,214.5 L396.4,214.3 L396.4,214.0 L396.4,213.8 L396.5,213.5 L396.5,213.3 L396.5,213.0 L396.5,212.8 L396.6,212.6 L396.6,212.3 L396.6,212.1 L396.7,211.8 L396.7,211.6 L396.8,211.4 L396.8,211.1 L396.9,210.9 L396.9,210.7 L397.0,210.4 L397.0,210.2 L397.1,210.0 L397.1,209.8 L397.2,209.5 L397.2,209.3 L397.3,209.1 L397.4,208.9 L397.5,208.6 L397.5,208.4 L397.6,208.2 L397.7,208.0 L397.8,207.8 L397.8,207.5 L397.9,207.3 L398.0,207.1 L398.1,206.9 L398.2,206.7 L398.3,206.5 L398.4,206.3 L398.5,206.1 L398.5,205.9 L398.6,205.6 L398.7,205.4 L398.8,205.2 L399.0,205.0 L399.1,204.8 L399.2,204.6 L399.3,204.4 L399.4,204.2 L399.5,204.0 L399.6,203.8 L399.7,203.7 L399.9,203.5 L400.0,203.3 L400.1,203.1 L400.2,202.9 L400.3,202.7 L400.5,202.5 L400.6,202.3 L400.7,202.1 L400.9,202.0 L401.0,201.8 L401.1,201.6 L401.3,201.4 L401.4,201.2 L401.5,201.0 L401.7,200.9 L401.8,200.7 L402.0,200.5 L402.1,200.3 L402.3,200.2 L402.4,200.0 L402.6,199.8 L402.7,199.7 L402.9,199.5 L403.0,199.3 L403.2,199.2 L403.3,199.0 L403.5,198.8 L403.7,198.7 L403.8,198.5 L404.0,198.3 L404.1,198.2 L404.3,198.0 L404.5,197.9 L404.6,197.7 L404.8,197.5 L405.0,197.4 L405.1,197.2 L405.3,197.1 L405.5,196.9 L405.7,196.8 L405.8,196.6 L406.0,196.5 L406.2,196.3 L406.4,196.2 L406.6,196.0 L406.7,195.9 L406.9,195.8 L407.1,195.6 L407.3,195.5 L407.5,195.3 L407.7,195.2 L407.9,195.1 L408.0,194.9 L408.2,194.8 L408.4,194.6 L408.6,194.5 L408.8,194.4 L409.0,194.2 L409.2,194.1 L409.4,194.0 L409.6,193.9 L409.8,193.7 L410.0,193.6 L410.2,193.5 L410.4,193.4 L410.6,193.2 L410.8,193.1 L411.0,193.0 L411.2,192.9 L411.4,192.7 L411.6,192.6 L411.8,192.5 L412.0,192.4 L412.2,192.3 L412.4,192.2 L412.6,192.1 L412.8,191.9 L413.0,191.8 L413.2,191.7 L413.4,191.6 L413.6,191.5 L413.9,191.4 L414.1,191.3 L414.3,191.2 L414.5,191.1 L414.7,191.0 L414.9,190.9 L415.1,190.8 L415.3,190.7 L415.5,190.6 L415.8,190.5 L416.0,190.4 L416.2,190.3 L416.4,190.2 L416.6,190.1 L416.8,190.0 L417.1,189.9 L417.3,189.8 L417.5,189.7 L417.7,189.7 L417.9,189.6 L418.1,189.5 L418.4,189.4 L418.6,189.3 L418.8,189.2 L419.0,189.1 L419.2,189.1 L419.4,189.0 L419.7,188.9 L419.9,188.8 L420.1,188.7 L420.3,188.7 L420.6,188.6 L420.8,188.5 L421.0,188.4 L421.2,188.4 L421.4,188.3 L421.7,188.2 L421.9,188.2 L422.1,188.1 L422.3,188.0 L422.6,187.9 L422.8,187.9 L423.0,187.8 L423.2,187.7 L423.5,187.7 L423.7,187.6 L423.9,187.6 L424.1,187.5 L424.4,187.4 L424.6,187.4 L424.8,187.3 L425.1,187.2 L425.3,187.2 L425.5,187.1 L425.7,187.1 L426.0,187.0 L426.2,187.0 L426.4,186.9 L426.7,186.9 L426.9,186.8 L427.1,186.7 L427.3,186.7 L427.6,186.6 L427.8,186.6 L428.0,186.5 L428.3,186.5 L428.5,186.4 L428.7,186.4 L429.0,186.4 L429.2,186.3 L429.4,186.3 L429.7,186.2 L429.9,186.2 L430.1,186.1 L430.4,186.1 L430.6,186.0 L430.8,186.0 L431.1,186.0 L431.3,185.9 L431.6,185.9 L431.8,185.8 L432.0,185.8 L432.3,185.8 L432.5,185.7 L432.7,185.7 L433.0,185.7 L433.2,185.6 L433.5,185.6 L433.7,185.6 L433.9,185.5 L434.2,185.5 L434.4,185.5 L434.6,185.4 L434.9,185.4 L435.1,185.4 L435.4,185.3 L435.6,185.3 L435.8,185.3 L436.1,185.3 L436.3,185.2 L436.6,185.2 L436.8,185.2 L437.1,185.1 L437.3,185.1 L437.5,185.1 L437.8,185.1 L438.0,185.0 L438.3,185.0 L438.5,185.0 L438.8,185.0 L439.0,185.0 L439.2,184.9 L439.5,184.9 L439.7,184.9 L440.0,184.9 L440.2,184.9 L440.5,184.8 L440.7,184.8 L440.9,184.8 L441.2,184.8 L441.4,184.8 L441.7,184.7 L441.9,184.7 L442.2,184.7 L442.4,184.7 L442.7,184.7 L442.9,184.7 L443.2,184.7 L443.4,184.6 L443.7,184.6 L443.9,184.6 L444.2,184.6 L444.4,184.6 L444.6,184.6 L444.9,184.6 L445.1,184.5 L445.4,184.5 L445.6,184.5 L445.9,184.5 L446.1,184.5 L446.4,184.5 L446.6,184.5 L446.9,184.5 L447.1,184.5 L447.4,184.5 L447.6,184.5 L447.9,184.4 L448.1,184.4 L448.4,184.4 L448.6,184.4 L448.9,184.4 L449.1,184.4 L449.4,184.4 L449.6,184.4 L449.9,184.4 L450.1,184.4 L450.4,184.4 L450.6,184.4 L450.9,184.4 L451.1,184.4 L451.4,184.4 L451.7,184.4 L451.9,184.3 L452.2,184.3 L452.4,184.3 L452.7,184.3 L452.9,184.3 L453.2,184.3 L453.4,184.3 L453.7,184.3 L453.9,184.3 L454.2,184.3 L454.4,184.3 L454.7,184.3 L454.9,184.3 L455.2,184.3 L455.4,184.3 L455.7,184.3 L455.9,184.3 L456.2,184.3 L456.5,184.3 L456.7,184.3 L457.0,184.3 L457.2,184.3 L457.5,184.4 L457.7,184.4 L458.0,184.4 L458.2,184.4 L458.5,184.4 L458.7,184.4 L459.0,184.4 L459.2,184.4 L459.5,184.4 L459.7,184.4 L460.0,184.4 L460.2,184.4 L460.5,184.4 L460.8,184.4 L461.0,184.4 L461.3,184.5 L461.5,184.5 L461.8,184.5 L462.0,184.5 L462.3,184.5 L462.5,184.5 L462.8,184.5 L463.0,184.5 L463.3,184.5 L463.5,184.6 L463.8,184.6 L464.0,184.6 L464.3,184.6 L464.5,184.6 L464.8,184.6 L465.0,184.7 L465.3,184.7 L465.5,184.7 L465.8,184.7 L466.0,184.7 L466.3,184.7 L466.5,184.8 L466.8,184.8 L467.0,184.8 L467.3,184.8 L467.5,184.9 L467.8,184.9 L468.0,184.9 L468.3,184.9 L468.5,184.9 L468.8,185.0 L469.0,185.0 L469.3,185.0 L469.5,185.0 L469.8,185.1 L470.0,185.1 L470.3,185.1 L470.5,185.2 L470.8,185.2 L471.0,185.2 L471.3,185.2 L471.5,185.3 L471.8,185.3 L472.0,185.3 L472.3,185.4 L472.5,185.4 L472.7,185.4 L473.0,185.5 L473.2,185.5 L473.5,185.5 L473.7,185.6 L474.0,185.6 L474.2,185.6 L474.5,185.7 L474.7,185.7 L474.9,185.8 L475.2,185.8 L475.4,185.8 L475.7,185.9 L475.9,185.9 L476.2,186.0 L476.4,186.0 L476.6,186.1 L476.9,186.1 L477.1,186.1 L477.4,186.2 L477.6,186.2 L477.8,186.3 L478.1,186.3 L478.3,186.4 L478.6,186.4 L478.8,186.5 L479.0,186.5 L479.3,186.6 L479.5,186.6 L479.7,186.7 L480.0,186.7 L480.2,186.8 L480.4,186.8 L480.7,186.9 L480.9,186.9 L481.1,187.0 L481.4,187.1 L481.6,187.1 L481.8,187.2 L482.1,187.2 L482.3,187.3 L482.5,187.4 L482.8,187.4 L483.0,187.5 L483.2,187.5 L483.5,187.6 L483.7,187.7 L483.9,187.7 L484.1,187.8 L484.4,187.9 L484.6,187.9 L484.8,188.0 L485.1,188.1 L485.3,188.2 L485.5,188.2 L485.7,188.3 L486.0,188.4 L486.2,188.4 L486.4,188.5 L486.6,188.6 L486.8,188.7 L487.1,188.7 L487.3,188.8 L487.5,188.9 L487.7,189.0 L487.9,189.1 L488.2,189.1 L488.4,189.2 L488.6,189.3 L488.8,189.4 L489.0,189.5 L489.3,189.6 L489.5,189.6 L489.7,189.7 L489.9,189.8 L490.1,189.9 L490.3,190.0 L490.5,190.1 L490.7,190.2 L491.0,190.3 L491.2,190.4 L491.4,190.4 L491.6,190.5 L491.8,190.6 L492.0,190.7 L492.2,190.8 L492.4,190.9 L492.6,191.0 L492.8,191.1 L493.0,191.2 L493.2,191.3 L493.5,191.4 L493.7,191.5 L493.9,191.6 L494.1,191.7 L494.3,191.9 L494.5,192.0 L494.7,192.1 L494.9,192.2 L495.1,192.3 L495.3,192.4 L495.5,192.5 L495.7,192.6 L495.8,192.7 L496.0,192.9 L496.2,193.0 L496.4,193.1 L496.6,193.2 L496.8,193.3 L497.0,193.4 L497.2,193.6 L497.4,193.7 L497.6,193.8 L497.8,193.9 L498.0,194.1 L498.1,194.2 L498.3,194.3 L498.5,194.4 L498.7,194.6 L498.9,194.7 L499.1,194.8 L499.3,195.0 L499.4,195.1 L499.6,195.2 L499.8,195.4 L500.0,195.5 L500.2,195.6 L500.3,195.8 L500.5,195.9 L500.7,196.1 L500.9,196.2 L501.0,196.3 L501.2,196.5 L501.4,196.6 L501.6,196.8 L501.7,196.9 L501.9,197.1 L502.1,197.2 L502.2,197.4 L502.4,197.5 L502.6,197.7 L502.7,197.8 L502.9,198.0 L503.1,198.1 L503.2,198.3 L503.4,198.4 L503.6,198.6 L503.7,198.8 L503.9,198.9 L504.0,199.1 L504.2,199.3 L504.4,199.4 L504.5,199.6 L504.7,199.8 L504.8,199.9 L505.0,200.1 L505.1,200.3 L505.3,200.4 L505.4,200.6 L505.6,200.8 L505.7,201.0 L505.9,201.1 L506.0,201.3 L506.2,201.5 L506.3,201.7 L506.5,201.8 L506.6,202.0 L506.7,202.2 L506.9,202.4 L507.0,202.6 L507.2,202.8 L507.3,203.0 L507.4,203.1 L507.6,203.3 L507.7,203.5 L507.8,203.7 L508.0,203.9 L508.1,204.1 L508.2,204.3 L508.4,204.5 L508.5,204.7 L508.6,204.9 L508.8,205.1 L508.9,205.3 L509.0,205.5 L509.1,205.7 L509.3,205.9 L509.4,206.1 L509.5,206.3 L509.6,206.6 L509.7,206.8 L509.9,207.0 L510.0,207.2 L510.1,207.4 L510.2,207.6 L510.3,207.8 L510.4,208.1 L510.5,208.3 L510.7,208.5 L510.8,208.7 L510.9,209.0 L511.0,209.2 L511.1,209.4 L511.2,209.6 L511.3,209.9 L511.4,210.1 L511.5,210.3 L511.6,210.6 L511.7,210.8 L511.8,211.0 L511.9,211.3 L512.0,211.5 L512.1,211.8 L512.2,212.0 L512.3,212.2 L512.4,212.5 L512.4,212.7 L512.5,213.0 L512.6,213.2 L512.7,213.5 L512.8,213.7 L512.9,214.0 L513.0,214.2 L513.0,214.5" fill="none" stroke="#1f77b4" stroke-width="0.8" opacity="0.9"/>
<g fill="none" stroke="#ff7f0e" stroke-width="0.7" opacity="0.85"><circle cx="396.4" cy="195.7" r="2.15"/><circle cx="397.8" cy="194.5" r="2.15"/><circle cx="399.3" cy="194.0" r="2.15"/><circle cx="400.6" cy="193.3" r="2.15"/><circle cx="402.2" cy="192.5" r="2.15"/><circle cx="403.8" cy="191.7" r="2.15"/><circle cx="405.3" cy="190.8" r="2.15"/><circle cx="407.0" cy="190.2" r="2.15"/><circle cx="408.9" cy="189.3" r="2.15"/><circle cx="410.6" cy="188.5" r="2.15"/><circle cx="412.6" cy="187.8" r="2.15"/><circle cx="414.8" cy="187.2" r="2.15"/><circle cx="416.2" cy="186.1" r="2.15"/><circle cx="418.7" cy="185.6" r="2.15"/><circle cx="420.9" cy="185.1" r="2.15"/><circle cx="423.4" cy="184.2" r="2.15"/><circle cx="425.3" cy="184.1" r="2.15"/><circle cx="427.7" cy="183.3" r="2.15"/><circle cx="429.9" cy="182.5" r="2.15"/><circle cx="432.4" cy="182.2" r="2.15"/><circle cx="434.7" cy="181.7" r="2.15"/><circle cx="437.3" cy="181.3" r="2.15"/><circle cx="439.9" cy="181.1" r="2.15"/><circle cx="442.4" cy="180.8" r="2.15"/><circle cx="445.1" cy="180.8" r="2.15"/><circle cx="447.6" cy="180.4" r="2.15"/><circle cx="450.3" cy="180.3" r="2.15"/><circle cx="452.9" cy="180.2" r="2.15"/><circle cx="455.5" cy="180.4" r="2.15"/><circle cx="457.8" cy="180.5" r="2.15"/><circle cx="460.6" cy="180.7" r="2.15"/><circle cx="463.0" cy="180.8" r="2.15"/><circle cx="465.7" cy="181.2" r="2.15"/><circle cx="468.2" cy="181.7" r="2.15"/><circle cx="470.4" cy="182.1" r="2.15"/><circle cx="473.3" cy="182.4" r="2.15"/><circle cx="475.4" cy="183.1" r="2.15"/><circle cx="477.8" cy="183.7" r="2.15"/><circle cx="480.0" cy="184.0" r="2.15"/><circle cx="482.3" cy="184.8" r="2.15"/><circle cx="484.5" cy="185.7" r="2.15"/><circle cx="486.2" cy="186.2" r="2.15"/><circle cx="488.6" cy="187.3" r="2.15"/><circle cx="490.3" cy="188.0" r="2.15"/><circle cx="492.3" cy="188.9" r="2.15"/><circle cx="494.1" cy="189.8" r="2.15"/><circle cx="495.6" cy="190.6" r="2.15"/><circle cx="497.4" cy="191.2" r="2.15"/><circle cx="498.7" cy="192.5" r="2.15"/><circle cx="499.9" cy="193.5" r="2.15"/><circle cx="501.4" cy="194.5" r="2.15"/><circle cx="502.7" cy="195.4" r="2.15"/><circle cx="504.1" cy="196.3" r="2.15"/><circle cx="504.9" cy="196.9" r="2.15"/><circle cx="506.3" cy="198.0" r="2.15"/><circle cx="506.9" cy="198.9" r="2.15"/><circle cx="507.9" cy="199.9" r="2.15"/><circle cx="508.7" cy="200.6" r="2.15"/><circle cx="509.3" cy="201.5" r="2.15"/><circle cx="510.0" cy="202.4" r="2.15"/><circle cx="511.0" cy="202.8" r="2.15"/><circle cx="511.0" cy="203.9" r="2.15"/><circle cx="512.3" cy="204.4" r="2.15"/><circle cx="512.2" cy="205.3" r="2.15"/><circle cx="512.7" cy="205.8" r="2.15"/><circle cx="513.2" cy="206.6" r="2.15"/><circle cx="513.6" cy="207.2" r="2.15"/><circle cx="513.9" cy="207.6" r="2.15"/><circle cx="514.2" cy="208.1" r="2.15"/><circle cx="514.6" cy="208.6" r="2.15"/><circle cx="514.7" cy="209.5" r="2.15"/><circle cx="515.1" cy="209.8" r="2.15"/><circle cx="515.4" cy="210.2" r="2.15"/><circle cx="515.5" cy="210.7" r="2.15"/><circle cx="515.7" cy="210.9" r="2.15"/><circle cx="516.0" cy="211.4" r="2.15"/><circle cx="515.9" cy="211.7" r="2.15"/><circle cx="516.1" cy="212.4" r="2.15"/><circle cx="516.1" cy="212.5" r="2.15"/><circle cx="516.1" cy="212.8" r="2.15"/><circle cx="516.7" cy="213.1" r="2.15"/><circle cx="516.6" cy="213.5" r="2.15"/><circle cx="516.9" cy="213.9" r="2.15"/><circle cx="517.1" cy="214.1" r="2.15"/><circle cx="516.8" cy="214.3" r="2.15"/><circle cx="517.0" cy="214.6" r="2.15"/><circle cx="517.1" cy="214.8" r="2.15"/><circle cx="516.9" cy="215.2" r="2.15"/><circle cx="517.2" cy="215.1" r="2.15"/><circle cx="517.4" cy="215.8" r="2.15"/><circle cx="517.3" cy="215.6" r="2.15"/><circle cx="517.6" cy="212.2" r="2.15"/><circle cx="516.9" cy="216.8" r="2.15"/><circle cx="517.4" cy="216.1" r="2.15"/><circle cx="516.8" cy="215.9" r="2.15"/><circle cx="517.4" cy="213.8" r="2.15"/><circle cx="517.4" cy="212.2" r="2.15"/><circle cx="517.9" cy="213.8" r="2.15"/></g>
<path d="M396.4,195.5 L396.6,195.4 L396.8,195.3 L397.0,195.2 L397.2,195.1 L397.3,195.0 L397.5,194.9 L397.7,194.8 L397.9,194.7 L398.1,194.6 L398.3,194.5 L398.5,194.3 L398.7,194.2 L398.9,194.1 L399.1,194.0 L399.3,193.9 L399.5,193.8 L399.7,193.7 L399.9,193.6 L400.1,193.5 L400.3,193.4 L400.5,193.3 L400.6,193.2 L400.8,193.1 L401.0,193.0 L401.2,192.9 L401.4,192.8 L401.6,192.7 L401.8,192.6 L402.0,192.5 L402.2,192.4 L402.4,192.3 L402.6,192.2 L402.8,192.1 L403.0,192.0 L403.2,191.9 L403.4,191.8 L403.6,191.7 L403.8,191.6 L404.0,191.5 L404.2,191.4 L404.4,191.3 L404.6,191.2 L404.8,191.1 L405.0,191.0 L405.2,191.0 L405.4,190.9 L405.6,190.8 L405.8,190.7 L406.0,190.6 L406.2,190.5 L406.4,190.4 L406.6,190.3 L406.9,190.2 L407.1,190.1 L407.3,190.0 L407.5,189.9 L407.7,189.9 L407.9,189.8 L408.1,189.7 L408.3,189.6 L408.5,189.5 L408.7,189.4 L408.9,189.3 L409.1,189.2 L409.3,189.2 L409.5,189.1 L409.7,189.0 L409.9,188.9 L410.1,188.8 L410.3,188.7 L410.6,188.6 L410.8,188.6 L411.0,188.5 L411.2,188.4 L411.4,188.3 L411.6,188.2 L411.8,188.1 L412.0,188.1 L412.2,188.0 L412.4,187.9 L412.6,187.8 L412.8,187.7 L413.1,187.7 L413.3,187.6 L413.5,187.5 L413.7,187.4 L413.9,187.3 L414.1,187.3 L414.3,187.2 L414.5,187.1 L414.7,187.0 L415.0,187.0 L415.2,186.9 L415.4,186.8 L415.6,186.7 L415.8,186.7 L416.0,186.6 L416.2,186.5 L416.4,186.4 L416.7,186.4 L416.9,186.3 L417.1,186.2 L417.3,186.2 L417.5,186.1 L417.7,186.0 L417.9,185.9 L418.2,185.9 L418.4,185.8 L418.6,185.7 L418.8,185.7 L419.0,185.6 L419.2,185.5 L419.4,185.5 L419.7,185.4 L419.9,185.3 L420.1,185.3 L420.3,185.2 L420.5,185.1 L420.7,185.1 L421.0,185.0 L421.2,184.9 L421.4,184.9 L421.6,184.8 L421.8,184.7 L422.0,184.7 L422.3,184.6 L422.5,184.6 L422.7,184.5 L422.9,184.4 L423.1,184.4 L423.4,184.3 L423.6,184.3 L423.8,184.2 L424.0,184.1 L424.2,184.1 L424.4,184.0 L424.7,184.0 L424.9,183.9 L425.1,183.8 L425.3,183.8 L425.5,183.7 L425.8,183.7 L426.0,183.6 L426.2,183.6 L426.4,183.5 L426.6,183.5 L426.9,183.4 L427.1,183.4 L427.3,183.3 L427.5,183.3 L427.8,183.2 L428.0,183.1 L428.2,183.1 L428.4,183.0 L428.6,183.0 L428.9,182.9 L429.1,182.9 L429.3,182.9 L429.5,182.8 L429.8,182.8 L430.0,182.7 L430.2,182.7 L430.4,182.6 L430.7,182.6 L430.9,182.5 L431.1,182.5 L431.3,182.4 L431.5,182.4 L431.8,182.3 L432.0,182.3 L432.2,182.3 L432.4,182.2 L432.7,182.2 L432.9,182.1 L433.1,182.1 L433.3,182.1 L433.6,182.0 L433.8,182.0 L434.0,181.9 L434.2,181.9 L434.5,181.9 L434.7,181.8 L434.9,181.8 L435.2,181.8 L435.4,181.7 L435.6,181.7 L435.8,181.6 L436.1,181.6 L436.3,181.6 L436.5,181.5 L436.7,181.5 L437.0,181.5 L437.2,181.4 L437.4,181.4 L437.6,181.4 L437.9,181.3 L438.1,181.3 L438.3,181.3 L438.6,181.3 L438.8,181.2 L439.0,181.2 L439.2,181.2 L439.5,181.1 L439.7,181.1 L439.9,181.1 L440.2,181.1 L440.4,181.0 L440.6,181.0 L440.8,181.0 L441.1,181.0 L441.3,180.9 L441.5,180.9 L441.8,180.9 L442.0,180.9 L442.2,180.8 L442.4,180.8 L442.7,180.8 L442.9,180.8 L443.1,180.8 L443.4,180.7 L443.6,180.7 L443.8,180.7 L444.1,180.7 L444.3,180.7 L444.5,180.7 L444.7,180.6 L445.0,180.6 L445.2,180.6 L445.4,180.6 L445.7,180.6 L445.9,180.6 L446.1,180.6 L446.4,180.5 L446.6,180.5 L446.8,180.5 L447.1,180.5 L447.3,180.5 L447.5,180.5 L447.8,180.5 L448.0,180.5 L448.2,180.5 L448.5,180.4 L448.7,180.4 L448.9,180.4 L449.1,180.4 L449.4,180.4 L449.6,180.4 L449.8,180.4 L450.1,180.4 L450.3,180.4 L450.5,180.4 L450.8,180.4 L451.0,180.4 L451.2,180.4 L451.5,180.4 L451.7,180.4 L451.9,180.4 L452.2,180.4 L452.4,180.4 L452.6,180.4 L452.9,180.4 L453.1,180.4 L453.3,180.4 L453.6,180.4 L453.8,180.4 L454.0,180.4 L454.3,180.4 L454.5,180.4 L454.7,180.4 L455.0,180.4 L455.2,180.4 L455.4,180.4 L455.7,180.4 L455.9,180.4 L456.1,180.4 L456.4,180.5 L456.6,180.5 L456.8,180.5 L457.1,180.5 L457.3,180.5 L457.5,180.5 L457.8,180.5 L458.0,180.5 L458.3,180.5 L458.5,180.6 L458.7,180.6 L459.0,180.6 L459.2,180.6 L459.4,180.6 L459.7,180.6 L459.9,180.7 L460.1,180.7 L460.4,180.7 L460.6,180.7 L460.8,180.7 L461.1,180.7 L461.3,180.8 L461.5,180.8 L461.8,180.8 L462.0,180.8 L462.2,180.9 L462.5,180.9 L462.7,180.9 L463.0,180.9 L463.2,180.9 L463.4,181.0 L463.7,181.0 L463.9,181.0 L464.1,181.1 L464.4,181.1 L464.6,181.1 L464.8,181.1 L465.1,181.2 L465.3,181.2 L465.5,181.2 L465.8,181.3 L466.0,181.3 L466.2,181.3 L466.5,181.3 L466.7,181.4 L467.0,181.4 L467.2,181.4 L467.4,181.5 L467.7,181.5 L467.9,181.6 L468.1,181.6 L468.4,181.6 L468.6,181.7 L468.8,181.7 L469.1,181.7 L469.3,181.8 L469.5,181.8 L469.8,181.9 L470.0,181.9 L470.2,181.9 L470.5,182.0 L470.7,182.0 L471.0,182.1 L471.2,182.1 L471.4,182.2 L471.7,182.2 L471.9,182.2 L472.1,182.3 L472.4,182.3 L472.6,182.4 L472.8,182.4 L473.1,182.5 L473.3,182.5 L473.5,182.6 L473.8,182.6 L474.0,182.7 L474.2,182.7 L474.5,182.8 L474.7,182.8 L474.9,182.9 L475.2,182.9 L475.4,183.0 L475.6,183.1 L475.9,183.1 L476.1,183.2 L476.3,183.2 L476.5,183.3 L476.8,183.3 L477.0,183.4 L477.2,183.5 L477.5,183.5 L477.7,183.6 L477.9,183.6 L478.2,183.7 L478.4,183.8 L478.6,183.8 L478.9,183.9 L479.1,183.9 L479.3,184.0 L479.5,184.1 L479.8,184.1 L480.0,184.2 L480.2,184.3 L480.5,184.3 L480.7,184.4 L480.9,184.5 L481.1,184.5 L481.4,184.6 L481.6,184.7 L481.8,184.8 L482.0,184.8 L482.3,184.9 L482.5,185.0 L482.7,185.0 L482.9,185.1 L483.2,185.2 L483.4,185.3 L483.6,185.3 L483.8,185.4 L484.1,185.5 L484.3,185.6 L484.5,185.7 L484.7,185.7 L485.0,185.8 L485.2,185.9 L485.4,186.0 L485.6,186.1 L485.8,186.1 L486.1,186.2 L486.3,186.3 L486.5,186.4 L486.7,186.5 L486.9,186.6 L487.2,186.6 L487.4,186.7 L487.6,186.8 L487.8,186.9 L488.0,187.0 L488.2,187.1 L488.5,187.2 L488.7,187.3 L488.9,187.4 L489.1,187.4 L489.3,187.5 L489.5,187.6 L489.8,187.7 L490.0,187.8 L490.2,187.9 L490.4,188.0 L490.6,188.1 L490.8,188.2 L491.0,188.3 L491.2,188.4 L491.5,188.5 L491.7,188.6 L491.9,188.7 L492.1,188.8 L492.3,188.9 L492.5,189.0 L492.7,189.1 L492.9,189.2 L493.1,189.3 L493.3,189.4 L493.5,189.5 L493.7,189.6 L494.0,189.7 L494.2,189.8 L494.4,189.9 L494.6,190.1 L494.8,190.2 L495.0,190.3 L495.2,190.4 L495.4,190.5 L495.6,190.6 L495.8,190.7 L496.0,190.8 L496.2,190.9 L496.4,191.1 L496.6,191.2 L496.8,191.3 L497.0,191.4 L497.2,191.5 L497.4,191.6 L497.6,191.8 L497.8,191.9 L498.0,192.0 L498.2,192.1 L498.3,192.2 L498.5,192.4 L498.7,192.5 L498.9,192.6 L499.1,192.7 L499.3,192.9 L499.5,193.0 L499.7,193.1 L499.9,193.2 L500.1,193.4 L500.3,193.5 L500.4,193.6 L500.6,193.7 L500.8,193.9 L501.0,194.0 L501.2,194.1 L501.4,194.3 L501.6,194.4 L501.7,194.5 L501.9,194.7 L502.1,194.8 L502.3,194.9 L502.5,195.1 L502.6,195.2 L502.8,195.3 L503.0,195.5 L503.2,195.6 L503.4,195.8 L503.5,195.9 L503.7,196.0 L503.9,196.2 L504.1,196.3 L504.2,196.5 L504.4,196.6 L504.6,196.8 L504.8,196.9 L504.9,197.0 L505.1,197.2 L505.3,197.3 L505.4,197.5 L505.6,197.6 L505.8,197.8 L505.9,197.9 L506.1,198.1 L506.3,198.2 L506.4,198.4 L506.6,198.5 L506.8,198.7 L506.9,198.9 L507.1,199.0 L507.2,199.2 L507.4,199.3 L507.6,199.5 L507.7,199.6 L507.9,199.8 L508.0,200.0 L508.2,200.1 L508.3,200.3 L508.5,200.4 L508.7,200.6 L508.8,200.8 L509.0,200.9 L509.1,201.1 L509.3,201.3 L509.4,201.4 L509.6,201.6 L509.7,201.8 L509.8,201.9 L510.0,202.1 L510.1,202.3 L510.3,202.4 L510.4,202.6 L510.6,202.8 L510.7,203.0 L510.8,203.1 L511.0,203.3 L511.1,203.5 L511.3,203.7 L511.4,203.8 L511.5,204.0 L511.7,204.2 L511.8,204.4 L511.9,204.6 L512.1,204.7 L512.2,204.9 L512.3,205.1 L512.4,205.3 L512.6,205.5 L512.7,205.7 L512.8,205.8 L512.9,206.0 L513.1,206.2 L513.2,206.4 L513.3,206.6 L513.4,206.8 L513.5,207.0 L513.7,207.2 L513.8,207.4 L513.9,207.6 L514.0,207.8 L514.1,207.9 L514.2,208.1 L514.3,208.3 L514.4,208.5 L514.5,208.7 L514.7,208.9 L514.8,209.1 L514.9,209.3 L515.0,209.5 L515.1,209.7 L515.2,210.0 L515.3,210.2 L515.4,210.4 L515.5,210.6 L515.6,210.8 L515.7,211.0 L515.7,211.2 L515.8,211.4 L515.9,211.6 L516.0,211.8 L516.1,212.0 L516.2,212.3 L516.3,212.5 L516.4,212.7 L516.4,212.9 L516.5,213.1 L516.6,213.3 L516.7,213.6 L516.8,213.8 L516.8,214.0 L516.9,214.2 L517.0,214.5 L517.1,214.7 L517.1,214.9 L517.2,215.1 L517.3,215.4 L517.3,215.6" fill="none" stroke="#ff7f0e" stroke-width="0.8" opacity="0.85"/>
<g fill="none" stroke="#2ca02c" stroke-width="0.7" opacity="0.85"><circle cx="396.5" cy="179.2" r="2.15"/><circle cx="399.0" cy="178.1" r="2.15"/><circle cx="402.2" cy="178.5" r="2.15"/><circle cx="404.5" cy="177.9" r="2.15"/><circle cx="407.4" cy="177.0" r="2.15"/><circle cx="410.4" cy="176.6" r="2.15"/><circle cx="412.9" cy="175.9" r="2.15"/><circle cx="416.0" cy="175.6" r="2.15"/><circle cx="419.0" cy="175.0" r="2.15"/><circle cx="421.9" cy="174.5" r="2.15"/><circle cx="425.1" cy="174.4" r="2.15"/><circle cx="428.0" cy="174.0" r="2.15"/><circle cx="430.7" cy="173.8" r="2.15"/><circle cx="434.6" cy="172.9" r="2.15"/><circle cx="436.8" cy="172.7" r="2.15"/><circle cx="440.6" cy="172.9" r="2.15"/><circle cx="443.8" cy="172.8" r="2.15"/><circle cx="446.8" cy="172.6" r="2.15"/><circle cx="449.9" cy="172.7" r="2.15"/><circle cx="452.8" cy="172.4" r="2.15"/><circle cx="456.4" cy="173.0" r="2.15"/><circle cx="459.3" cy="172.5" r="2.15"/><circle cx="462.5" cy="173.2" r="2.15"/><circle cx="465.7" cy="173.6" r="2.15"/><circle cx="468.4" cy="173.9" r="2.15"/><circle cx="472.2" cy="173.7" r="2.15"/><circle cx="475.0" cy="174.9" r="2.15"/><circle cx="477.9" cy="175.5" r="2.15"/><circle cx="481.4" cy="176.0" r="2.15"/><circle cx="483.5" cy="176.4" r="2.15"/><circle cx="486.5" cy="177.4" r="2.15"/><circle cx="488.9" cy="178.3" r="2.15"/><circle cx="491.7" cy="179.0" r="2.15"/><circle cx="493.6" cy="179.7" r="2.15"/><circle cx="496.7" cy="181.4" r="2.15"/><circle cx="499.0" cy="182.5" r="2.15"/><circle cx="500.5" cy="183.8" r="2.15"/><circle cx="502.7" cy="184.6" r="2.15"/><circle cx="504.4" cy="186.5" r="2.15"/><circle cx="506.5" cy="187.5" r="2.15"/><circle cx="508.0" cy="188.4" r="2.15"/><circle cx="509.8" cy="189.9" r="2.15"/><circle cx="510.8" cy="191.1" r="2.15"/><circle cx="512.0" cy="192.4" r="2.15"/><circle cx="513.7" cy="193.4" r="2.15"/><circle cx="514.9" cy="194.7" r="2.15"/><circle cx="515.6" cy="195.8" r="2.15"/><circle cx="516.4" cy="197.2" r="2.15"/><circle cx="517.2" cy="198.1" r="2.15"/><circle cx="517.8" cy="199.1" r="2.15"/><circle cx="518.3" cy="200.3" r="2.15"/><circle cx="519.4" cy="201.6" r="2.15"/><circle cx="520.0" cy="202.9" r="2.15"/><circle cx="520.4" cy="203.1" r="2.15"/><circle cx="521.3" cy="203.8" r="2.15"/><circle cx="521.5" cy="204.6" r="2.15"/><circle cx="521.7" cy="205.1" r="2.15"/><circle cx="522.1" cy="206.3" r="2.15"/><circle cx="522.0" cy="207.5" r="2.15"/><circle cx="522.7" cy="207.7" r="2.15"/><circle cx="522.6" cy="208.4" r="2.15"/><circle cx="522.9" cy="209.1" r="2.15"/><circle cx="523.4" cy="209.4" r="2.15"/><circle cx="523.2" cy="209.9" r="2.15"/><circle cx="523.2" cy="210.4" r="2.15"/><circle cx="523.7" cy="211.3" r="2.15"/><circle cx="524.2" cy="211.3" r="2.15"/><circle cx="524.1" cy="211.9" r="2.15"/><circle cx="524.7" cy="212.4" r="2.15"/><circle cx="524.4" cy="212.6" r="2.15"/><circle cx="524.2" cy="213.3" r="2.15"/><circle cx="524.4" cy="213.7" r="2.15"/><circle cx="524.2" cy="214.2" r="2.15"/><circle cx="524.4" cy="214.8" r="2.15"/><circle cx="524.7" cy="215.0" r="2.15"/><circle cx="524.5" cy="215.2" r="2.15"/><circle cx="524.7" cy="215.3" r="2.15"/><circle cx="525.0" cy="215.7" r="2.15"/><circle cx="525.1" cy="216.1" r="2.15"/><circle cx="525.2" cy="213.7" r="2.15"/><circle cx="525.4" cy="214.4" r="2.15"/><circle cx="524.4" cy="217.1" r="2.15"/><circle cx="525.0" cy="216.1" r="2.15"/><circle cx="525.4" cy="213.9" r="2.15"/><circle cx="524.9" cy="214.6" r="2.15"/><circle cx="525.4" cy="215.7" r="2.15"/></g>
<path d="M396.4,179.3 L396.7,179.3 L396.9,179.2 L397.1,179.2 L397.4,179.1 L397.6,179.1 L397.8,179.0 L398.0,179.0 L398.3,178.9 L398.5,178.9 L398.7,178.8 L399.0,178.8 L399.2,178.7 L399.4,178.7 L399.7,178.6 L399.9,178.6 L400.1,178.5 L400.4,178.5 L400.6,178.5 L400.8,178.4 L401.1,178.4 L401.3,178.3 L401.5,178.3 L401.8,178.2 L402.0,178.2 L402.3,178.1 L402.5,178.1 L402.7,178.0 L403.0,178.0 L403.2,177.9 L403.4,177.9 L403.7,177.8 L403.9,177.8 L404.1,177.8 L404.4,177.7 L404.6,177.7 L404.9,177.6 L405.1,177.6 L405.3,177.5 L405.6,177.5 L405.8,177.4 L406.0,177.4 L406.3,177.3 L406.5,177.3 L406.8,177.3 L407.0,177.2 L407.2,177.2 L407.5,177.1 L407.7,177.1 L408.0,177.0 L408.2,177.0 L408.4,176.9 L408.7,176.9 L408.9,176.9 L409.2,176.8 L409.4,176.8 L409.6,176.7 L409.9,176.7 L410.1,176.6 L410.4,176.6 L410.6,176.5 L410.8,176.5 L411.1,176.5 L411.3,176.4 L411.6,176.4 L411.8,176.3 L412.1,176.3 L412.3,176.2 L412.5,176.2 L412.8,176.2 L413.0,176.1 L413.3,176.1 L413.5,176.0 L413.8,176.0 L414.0,176.0 L414.3,175.9 L414.5,175.9 L414.7,175.8 L415.0,175.8 L415.2,175.8 L415.5,175.7 L415.7,175.7 L416.0,175.6 L416.2,175.6 L416.5,175.6 L416.7,175.5 L416.9,175.5 L417.2,175.4 L417.4,175.4 L417.7,175.4 L417.9,175.3 L418.2,175.3 L418.4,175.2 L418.7,175.2 L418.9,175.2 L419.2,175.1 L419.4,175.1 L419.7,175.1 L419.9,175.0 L420.2,175.0 L420.4,174.9 L420.6,174.9 L420.9,174.9 L421.1,174.8 L421.4,174.8 L421.6,174.8 L421.9,174.7 L422.1,174.7 L422.4,174.7 L422.6,174.6 L422.9,174.6 L423.1,174.6 L423.4,174.5 L423.6,174.5 L423.9,174.5 L424.1,174.4 L424.4,174.4 L424.6,174.4 L424.9,174.3 L425.1,174.3 L425.4,174.3 L425.6,174.2 L425.9,174.2 L426.1,174.2 L426.4,174.1 L426.6,174.1 L426.9,174.1 L427.1,174.0 L427.4,174.0 L427.6,174.0 L427.9,174.0 L428.1,173.9 L428.4,173.9 L428.6,173.9 L428.9,173.8 L429.1,173.8 L429.4,173.8 L429.6,173.7 L429.9,173.7 L430.1,173.7 L430.4,173.7 L430.6,173.6 L430.9,173.6 L431.1,173.6 L431.4,173.6 L431.6,173.5 L431.9,173.5 L432.1,173.5 L432.4,173.5 L432.6,173.4 L432.9,173.4 L433.2,173.4 L433.4,173.4 L433.7,173.3 L433.9,173.3 L434.2,173.3 L434.4,173.3 L434.7,173.2 L434.9,173.2 L435.2,173.2 L435.4,173.2 L435.7,173.2 L435.9,173.1 L436.2,173.1 L436.4,173.1 L436.7,173.1 L436.9,173.1 L437.2,173.0 L437.4,173.0 L437.7,173.0 L438.0,173.0 L438.2,173.0 L438.5,172.9 L438.7,172.9 L439.0,172.9 L439.2,172.9 L439.5,172.9 L439.7,172.9 L440.0,172.8 L440.2,172.8 L440.5,172.8 L440.7,172.8 L441.0,172.8 L441.2,172.8 L441.5,172.8 L441.8,172.7 L442.0,172.7 L442.3,172.7 L442.5,172.7 L442.8,172.7 L443.0,172.7 L443.3,172.7 L443.5,172.7 L443.8,172.6 L444.0,172.6 L444.3,172.6 L444.5,172.6 L444.8,172.6 L445.0,172.6 L445.3,172.6 L445.6,172.6 L445.8,172.6 L446.1,172.6 L446.3,172.6 L446.6,172.6 L446.8,172.5 L447.1,172.5 L447.3,172.5 L447.6,172.5 L447.8,172.5 L448.1,172.5 L448.3,172.5 L448.6,172.5 L448.9,172.5 L449.1,172.5 L449.4,172.5 L449.6,172.5 L449.9,172.5 L450.1,172.5 L450.4,172.5 L450.6,172.5 L450.9,172.5 L451.1,172.5 L451.4,172.5 L451.6,172.5 L451.9,172.5 L452.2,172.5 L452.4,172.5 L452.7,172.5 L452.9,172.5 L453.2,172.5 L453.4,172.5 L453.7,172.5 L453.9,172.5 L454.2,172.5 L454.4,172.5 L454.7,172.5 L454.9,172.5 L455.2,172.6 L455.4,172.6 L455.7,172.6 L455.9,172.6 L456.2,172.6 L456.5,172.6 L456.7,172.6 L457.0,172.6 L457.2,172.6 L457.5,172.6 L457.7,172.6 L458.0,172.7 L458.2,172.7 L458.5,172.7 L458.7,172.7 L459.0,172.7 L459.2,172.7 L459.5,172.7 L459.7,172.8 L460.0,172.8 L460.2,172.8 L460.5,172.8 L460.7,172.8 L461.0,172.8 L461.3,172.9 L461.5,172.9 L461.8,172.9 L462.0,172.9 L462.3,172.9 L462.5,173.0 L462.8,173.0 L463.0,173.0 L463.3,173.0 L463.5,173.0 L463.8,173.1 L464.0,173.1 L464.3,173.1 L464.5,173.1 L464.8,173.2 L465.0,173.2 L465.3,173.2 L465.5,173.2 L465.8,173.3 L466.0,173.3 L466.3,173.3 L466.5,173.3 L466.8,173.4 L467.0,173.4 L467.3,173.4 L467.5,173.5 L467.8,173.5 L468.0,173.5 L468.3,173.6 L468.5,173.6 L468.8,173.6 L469.0,173.7 L469.3,173.7 L469.5,173.7 L469.8,173.8 L470.0,173.8 L470.3,173.8 L470.5,173.9 L470.8,173.9 L471.0,173.9 L471.3,174.0 L471.5,174.0 L471.8,174.1 L472.0,174.1 L472.2,174.1 L472.5,174.2 L472.7,174.2 L473.0,174.3 L473.2,174.3 L473.5,174.3 L473.7,174.4 L474.0,174.4 L474.2,174.5 L474.5,174.5 L474.7,174.6 L475.0,174.6 L475.2,174.7 L475.5,174.7 L475.7,174.8 L476.0,174.8 L476.2,174.9 L476.4,174.9 L476.7,175.0 L476.9,175.0 L477.2,175.1 L477.4,175.1 L477.7,175.2 L477.9,175.2 L478.2,175.3 L478.4,175.3 L478.6,175.4 L478.9,175.4 L479.1,175.5 L479.4,175.5 L479.6,175.6 L479.9,175.7 L480.1,175.7 L480.3,175.8 L480.6,175.8 L480.8,175.9 L481.1,176.0 L481.3,176.0 L481.6,176.1 L481.8,176.1 L482.0,176.2 L482.3,176.3 L482.5,176.3 L482.8,176.4 L483.0,176.5 L483.2,176.5 L483.5,176.6 L483.7,176.7 L484.0,176.7 L484.2,176.8 L484.4,176.9 L484.7,176.9 L484.9,177.0 L485.2,177.1 L485.4,177.2 L485.6,177.2 L485.9,177.3 L486.1,177.4 L486.3,177.5 L486.6,177.5 L486.8,177.6 L487.0,177.7 L487.3,177.8 L487.5,177.8 L487.8,177.9 L488.0,178.0 L488.2,178.1 L488.5,178.2 L488.7,178.2 L488.9,178.3 L489.2,178.4 L489.4,178.5 L489.6,178.6 L489.8,178.7 L490.1,178.7 L490.3,178.8 L490.5,178.9 L490.8,179.0 L491.0,179.1 L491.2,179.2 L491.5,179.3 L491.7,179.4 L491.9,179.4 L492.1,179.5 L492.4,179.6 L492.6,179.7 L492.8,179.8 L493.0,179.9 L493.3,180.0 L493.5,180.1 L493.7,180.2 L493.9,180.3 L494.2,180.4 L494.4,180.5 L494.6,180.6 L494.8,180.7 L495.1,180.8 L495.3,180.9 L495.5,181.0 L495.7,181.1 L495.9,181.2 L496.2,181.3 L496.4,181.4 L496.6,181.5 L496.8,181.6 L497.0,181.7 L497.3,181.8 L497.5,181.9 L497.7,182.0 L497.9,182.1 L498.1,182.3 L498.3,182.4 L498.5,182.5 L498.8,182.6 L499.0,182.7 L499.2,182.8 L499.4,182.9 L499.6,183.0 L499.8,183.2 L500.0,183.3 L500.2,183.4 L500.5,183.5 L500.7,183.6 L500.9,183.8 L501.1,183.9 L501.3,184.0 L501.5,184.1 L501.7,184.2 L501.9,184.4 L502.1,184.5 L502.3,184.6 L502.5,184.7 L502.7,184.9 L502.9,185.0 L503.1,185.1 L503.3,185.2 L503.5,185.4 L503.7,185.5 L503.9,185.6 L504.1,185.8 L504.3,185.9 L504.5,186.0 L504.7,186.2 L504.9,186.3 L505.1,186.4 L505.3,186.6 L505.5,186.7 L505.7,186.8 L505.9,187.0 L506.1,187.1 L506.3,187.3 L506.5,187.4 L506.7,187.5 L506.8,187.7 L507.0,187.8 L507.2,188.0 L507.4,188.1 L507.6,188.3 L507.8,188.4 L508.0,188.6 L508.2,188.7 L508.3,188.9 L508.5,189.0 L508.7,189.2 L508.9,189.3 L509.1,189.5 L509.3,189.6 L509.4,189.8 L509.6,189.9 L509.8,190.1 L510.0,190.2 L510.1,190.4 L510.3,190.5 L510.5,190.7 L510.7,190.9 L510.9,191.0 L511.0,191.2 L511.2,191.3 L511.4,191.5 L511.5,191.7 L511.7,191.8 L511.9,192.0 L512.1,192.2 L512.2,192.3 L512.4,192.5 L512.6,192.7 L512.7,192.8 L512.9,193.0 L513.0,193.2 L513.2,193.4 L513.4,193.5 L513.5,193.7 L513.7,193.9 L513.9,194.0 L514.0,194.2 L514.2,194.4 L514.3,194.6 L514.5,194.8 L514.6,194.9 L514.8,195.1 L515.0,195.3 L515.1,195.5 L515.3,195.7 L515.4,195.8 L515.6,196.0 L515.7,196.2 L515.9,196.4 L516.0,196.6 L516.2,196.8 L516.3,197.0 L516.5,197.2 L516.6,197.3 L516.7,197.5 L516.9,197.7 L517.0,197.9 L517.2,198.1 L517.3,198.3 L517.4,198.5 L517.6,198.7 L517.7,198.9 L517.9,199.1 L518.0,199.3 L518.1,199.5 L518.3,199.7 L518.4,199.9 L518.5,200.1 L518.7,200.3 L518.8,200.5 L518.9,200.7 L519.0,200.9 L519.2,201.1 L519.3,201.3 L519.4,201.6 L519.5,201.8 L519.7,202.0 L519.8,202.2 L519.9,202.4 L520.0,202.6 L520.2,202.8 L520.3,203.0 L520.4,203.3 L520.5,203.5 L520.6,203.7 L520.7,203.9 L520.8,204.1 L521.0,204.4 L521.1,204.6 L521.2,204.8 L521.3,205.0 L521.4,205.3 L521.5,205.5 L521.6,205.7 L521.7,205.9 L521.8,206.2 L521.9,206.4 L522.0,206.6 L522.1,206.9 L522.2,207.1 L522.3,207.3 L522.4,207.6 L522.5,207.8 L522.6,208.0 L522.7,208.3 L522.8,208.5 L522.9,208.7 L523.0,209.0 L523.1,209.2 L523.2,209.5 L523.3,209.7 L523.3,210.0 L523.4,210.2 L523.5,210.4 L523.6,210.7 L523.7,210.9 L523.8,211.2 L523.8,211.4 L523.9,211.7 L524.0,211.9 L524.1,212.2 L524.1,212.5 L524.2,212.7 L524.3,213.0 L524.4,213.2 L524.4,213.5 L524.5,213.7 L524.6,214.0 L524.6,214.3 L524.7,214.5 L524.8,214.8 L524.8,215.0 L524.9,215.3 L525.0,215.6 L525.0,215.8 L525.1,216.1" fill="none" stroke="#2ca02c" stroke-width="0.8" opacity="0.85"/>
<g fill="none" stroke="#d62728" stroke-width="0.7" opacity="0.8"><circle cx="397.4" cy="162.3" r="2.15"/><circle cx="400.1" cy="163.6" r="2.15"/><circle cx="403.1" cy="163.8" r="2.15"/><circle cx="405.8" cy="163.7" r="2.15"/><circle cx="409.8" cy="165.2" r="2.15"/><circle cx="413.8" cy="162.9" r="2.15"/><circle cx="417.0" cy="162.3" r="2.15"/><circle cx="420.2" cy="161.9" r="2.15"/><circle cx="424.5" cy="161.4" r="2.15"/><circle cx="428.3" cy="160.9" r="2.15"/><circle cx="431.5" cy="161.4" r="2.15"/><circle cx="435.4" cy="160.1" r="2.15"/><circle cx="438.7" cy="160.6" r="2.15"/><circle cx="443.4" cy="160.3" r="2.15"/><circle cx="446.0" cy="161.3" r="2.15"/><circle cx="449.3" cy="161.1" r="2.15"/><circle cx="453.7" cy="162.2" r="2.15"/><circle cx="456.8" cy="163.0" r="2.15"/><circle cx="458.8" cy="164.0" r="2.15"/><circle cx="463.0" cy="163.5" r="2.15"/><circle cx="466.9" cy="165.6" r="2.15"/><circle cx="469.8" cy="165.6" r="2.15"/><circle cx="473.2" cy="167.0" r="2.15"/><circle cx="477.0" cy="168.2" r="2.15"/><circle cx="479.4" cy="169.2" r="2.15"/><circle cx="482.2" cy="169.0" r="2.15"/><circle cx="485.6" cy="170.6" r="2.15"/><circle cx="488.1" cy="170.7" r="2.15"/><circle cx="491.2" cy="170.6" r="2.15"/><circle cx="494.2" cy="172.9" r="2.15"/><circle cx="495.7" cy="173.6" r="2.15"/><circle cx="498.7" cy="174.8" r="2.15"/><circle cx="500.8" cy="174.8" r="2.15"/><circle cx="504.7" cy="176.8" r="2.15"/><circle cx="505.7" cy="176.9" r="2.15"/><circle cx="509.3" cy="177.9" r="2.15"/><circle cx="512.2" cy="178.6" r="2.15"/><circle cx="513.8" cy="179.7" r="2.15"/><circle cx="516.4" cy="181.3" r="2.15"/><circle cx="517.5" cy="181.6" r="2.15"/><circle cx="520.4" cy="184.0" r="2.15"/><circle cx="521.7" cy="185.4" r="2.15"/><circle cx="523.2" cy="185.7" r="2.15"/><circle cx="524.2" cy="186.9" r="2.15"/><circle cx="526.7" cy="187.8" r="2.15"/><circle cx="527.0" cy="189.7" r="2.15"/><circle cx="528.5" cy="191.5" r="2.15"/><circle cx="528.8" cy="191.6" r="2.15"/><circle cx="530.3" cy="194.4" r="2.15"/><circle cx="531.5" cy="195.1" r="2.15"/><circle cx="531.7" cy="196.4" r="2.15"/><circle cx="532.3" cy="197.9" r="2.15"/><circle cx="532.6" cy="198.7" r="2.15"/><circle cx="533.3" cy="200.0" r="2.15"/><circle cx="533.9" cy="202.1" r="2.15"/><circle cx="534.8" cy="202.6" r="2.15"/><circle cx="533.3" cy="202.7" r="2.15"/><circle cx="534.3" cy="204.1" r="2.15"/><circle cx="533.6" cy="205.3" r="2.15"/><circle cx="535.4" cy="204.9" r="2.15"/><circle cx="534.5" cy="205.9" r="2.15"/><circle cx="535.1" cy="207.4" r="2.15"/><circle cx="536.1" cy="207.8" r="2.15"/><circle cx="535.5" cy="208.6" r="2.15"/><circle cx="536.0" cy="209.6" r="2.15"/><circle cx="535.8" cy="209.3" r="2.15"/><circle cx="535.1" cy="210.1" r="2.15"/><circle cx="535.9" cy="211.4" r="2.15"/><circle cx="534.9" cy="211.4" r="2.15"/><circle cx="535.3" cy="211.9" r="2.15"/><circle cx="534.5" cy="213.0" r="2.15"/><circle cx="536.2" cy="213.2" r="2.15"/><circle cx="534.6" cy="213.2" r="2.15"/><circle cx="534.2" cy="214.5" r="2.15"/><circle cx="535.2" cy="214.8" r="2.15"/><circle cx="534.8" cy="215.3" r="2.15"/><circle cx="534.6" cy="215.0" r="2.15"/><circle cx="534.5" cy="216.1" r="2.15"/><circle cx="534.3" cy="216.8" r="2.15"/><circle cx="534.1" cy="215.4" r="2.15"/><circle cx="534.1" cy="216.2" r="2.15"/><circle cx="534.9" cy="215.2" r="2.15"/><circle cx="534.4" cy="212.9" r="2.15"/><circle cx="534.8" cy="216.6" r="2.15"/><circle cx="533.4" cy="215.8" r="2.15"/></g>
<path d="M396.4,163.5 L396.7,163.6 L397.0,163.6 L397.2,163.6 L397.5,163.6 L397.8,163.6 L398.0,163.7 L398.3,163.7 L398.6,163.7 L398.9,163.7 L399.1,163.7 L399.4,163.7 L399.7,163.7 L400.0,163.7 L400.2,163.7 L400.5,163.7 L400.8,163.7 L401.1,163.7 L401.3,163.7 L401.6,163.7 L401.9,163.7 L402.1,163.7 L402.4,163.7 L402.7,163.7 L403.0,163.7 L403.2,163.6 L403.5,163.6 L403.8,163.6 L404.1,163.6 L404.3,163.6 L404.6,163.6 L404.9,163.5 L405.1,163.5 L405.4,163.5 L405.7,163.5 L406.0,163.4 L406.2,163.4 L406.5,163.4 L406.8,163.4 L407.1,163.3 L407.3,163.3 L407.6,163.3 L407.9,163.2 L408.2,163.2 L408.4,163.2 L408.7,163.1 L409.0,163.1 L409.2,163.1 L409.5,163.0 L409.8,163.0 L410.1,163.0 L410.3,162.9 L410.6,162.9 L410.9,162.8 L411.2,162.8 L411.4,162.8 L411.7,162.7 L412.0,162.7 L412.3,162.6 L412.5,162.6 L412.8,162.5 L413.1,162.5 L413.4,162.4 L413.6,162.4 L413.9,162.3 L414.2,162.3 L414.4,162.2 L414.7,162.2 L415.0,162.2 L415.3,162.1 L415.5,162.1 L415.8,162.0 L416.1,162.0 L416.4,161.9 L416.6,161.9 L416.9,161.8 L417.2,161.8 L417.5,161.7 L417.7,161.7 L418.0,161.7 L418.3,161.6 L418.6,161.6 L418.9,161.5 L419.1,161.5 L419.4,161.5 L419.7,161.4 L420.0,161.4 L420.2,161.3 L420.5,161.3 L420.8,161.2 L421.1,161.2 L421.3,161.2 L421.6,161.1 L421.9,161.1 L422.2,161.0 L422.5,161.0 L422.7,161.0 L423.0,160.9 L423.3,160.9 L423.6,160.8 L423.8,160.8 L424.1,160.7 L424.4,160.7 L424.7,160.7 L424.9,160.6 L425.2,160.6 L425.5,160.5 L425.8,160.5 L426.1,160.5 L426.3,160.4 L426.6,160.4 L426.9,160.4 L427.2,160.3 L427.4,160.3 L427.7,160.3 L428.0,160.2 L428.3,160.2 L428.6,160.1 L428.8,160.1 L429.1,160.1 L429.4,160.1 L429.7,160.0 L429.9,160.0 L430.2,160.0 L430.5,159.9 L430.8,159.9 L431.1,159.9 L431.3,159.8 L431.6,159.8 L431.9,159.8 L432.2,159.8 L432.4,159.7 L432.7,159.7 L433.0,159.7 L433.3,159.7 L433.6,159.7 L433.8,159.6 L434.1,159.6 L434.4,159.6 L434.7,159.6 L434.9,159.6 L435.2,159.6 L435.5,159.5 L435.8,159.5 L436.1,159.5 L436.3,159.5 L436.6,159.5 L436.9,159.5 L437.2,159.5 L437.4,159.5 L437.7,159.5 L438.0,159.5 L438.3,159.5 L438.5,159.5 L438.8,159.5 L439.1,159.5 L439.4,159.5 L439.7,159.5 L439.9,159.5 L440.2,159.5 L440.5,159.5 L440.8,159.5 L441.0,159.5 L441.3,159.6 L441.6,159.6 L441.9,159.6 L442.1,159.6 L442.4,159.6 L442.7,159.6 L443.0,159.7 L443.2,159.7 L443.5,159.7 L443.8,159.7 L444.1,159.7 L444.3,159.8 L444.6,159.8 L444.9,159.8 L445.2,159.9 L445.4,159.9 L445.7,159.9 L446.0,159.9 L446.3,160.0 L446.5,160.0 L446.8,160.0 L447.1,160.1 L447.3,160.1 L447.6,160.1 L447.9,160.2 L448.2,160.2 L448.4,160.3 L448.7,160.3 L449.0,160.3 L449.3,160.4 L449.5,160.4 L449.8,160.5 L450.1,160.5 L450.3,160.6 L450.6,160.6 L450.9,160.7 L451.2,160.7 L451.4,160.7 L451.7,160.8 L452.0,160.8 L452.2,160.9 L452.5,160.9 L452.8,161.0 L453.1,161.1 L453.3,161.1 L453.6,161.2 L453.9,161.2 L454.1,161.3 L454.4,161.3 L454.7,161.4 L455.0,161.4 L455.2,161.5 L455.5,161.6 L455.8,161.6 L456.0,161.7 L456.3,161.7 L456.6,161.8 L456.9,161.9 L457.1,161.9 L457.4,162.0 L457.7,162.0 L457.9,162.1 L458.2,162.2 L458.5,162.2 L458.7,162.3 L459.0,162.4 L459.3,162.4 L459.5,162.5 L459.8,162.6 L460.1,162.6 L460.4,162.7 L460.6,162.8 L460.9,162.8 L461.2,162.9 L461.4,163.0 L461.7,163.0 L462.0,163.1 L462.2,163.2 L462.5,163.2 L462.8,163.3 L463.0,163.4 L463.3,163.5 L463.6,163.5 L463.8,163.6 L464.1,163.7 L464.4,163.7 L464.7,163.8 L464.9,163.9 L465.2,164.0 L465.5,164.0 L465.7,164.1 L466.0,164.2 L466.3,164.2 L466.5,164.3 L466.8,164.4 L467.1,164.5 L467.3,164.5 L467.6,164.6 L467.9,164.7 L468.1,164.8 L468.4,164.8 L468.7,164.9 L468.9,165.0 L469.2,165.1 L469.5,165.1 L469.7,165.2 L470.0,165.3 L470.3,165.4 L470.5,165.4 L470.8,165.5 L471.1,165.6 L471.3,165.7 L471.6,165.7 L471.9,165.8 L472.1,165.9 L472.4,166.0 L472.7,166.0 L472.9,166.1 L473.2,166.2 L473.5,166.3 L473.7,166.3 L474.0,166.4 L474.3,166.5 L474.5,166.6 L474.8,166.6 L475.1,166.7 L475.3,166.8 L475.6,166.8 L475.9,166.9 L476.1,167.0 L476.4,167.1 L476.7,167.1 L476.9,167.2 L477.2,167.3 L477.5,167.4 L477.7,167.4 L478.0,167.5 L478.3,167.6 L478.5,167.6 L478.8,167.7 L479.1,167.8 L479.3,167.9 L479.6,167.9 L479.9,168.0 L480.1,168.1 L480.4,168.1 L480.7,168.2 L480.9,168.3 L481.2,168.4 L481.5,168.4 L481.7,168.5 L482.0,168.6 L482.3,168.6 L482.5,168.7 L482.8,168.8 L483.1,168.9 L483.3,168.9 L483.6,169.0 L483.9,169.1 L484.1,169.1 L484.4,169.2 L484.7,169.3 L484.9,169.4 L485.2,169.4 L485.5,169.5 L485.7,169.6 L486.0,169.6 L486.3,169.7 L486.5,169.8 L486.8,169.9 L487.1,169.9 L487.3,170.0 L487.6,170.1 L487.9,170.2 L488.1,170.2 L488.4,170.3 L488.7,170.4 L488.9,170.4 L489.2,170.5 L489.5,170.6 L489.7,170.7 L490.0,170.7 L490.2,170.8 L490.5,170.9 L490.8,171.0 L491.0,171.0 L491.3,171.1 L491.6,171.2 L491.8,171.3 L492.1,171.4 L492.4,171.4 L492.6,171.5 L492.9,171.6 L493.2,171.7 L493.4,171.7 L493.7,171.8 L493.9,171.9 L494.2,172.0 L494.5,172.1 L494.7,172.1 L495.0,172.2 L495.3,172.3 L495.5,172.4 L495.8,172.5 L496.1,172.5 L496.3,172.6 L496.6,172.7 L496.8,172.8 L497.1,172.9 L497.4,173.0 L497.6,173.0 L497.9,173.1 L498.2,173.2 L498.4,173.3 L498.7,173.4 L498.9,173.5 L499.2,173.5 L499.5,173.6 L499.7,173.7 L500.0,173.8 L500.2,173.9 L500.5,174.0 L500.8,174.1 L501.0,174.2 L501.3,174.3 L501.5,174.4 L501.8,174.4 L502.1,174.5 L502.3,174.6 L502.6,174.7 L502.8,174.8 L503.1,174.9 L503.4,175.0 L503.6,175.1 L503.9,175.2 L504.1,175.3 L504.4,175.4 L504.6,175.5 L504.9,175.6 L505.2,175.7 L505.4,175.8 L505.7,175.9 L505.9,176.0 L506.2,176.1 L506.4,176.2 L506.7,176.3 L507.0,176.4 L507.2,176.5 L507.5,176.6 L507.7,176.7 L508.0,176.8 L508.2,176.9 L508.5,177.0 L508.8,177.1 L509.0,177.2 L509.3,177.4 L509.5,177.5 L509.8,177.6 L510.0,177.7 L510.3,177.8 L510.5,177.9 L510.8,178.0 L511.0,178.1 L511.3,178.3 L511.5,178.4 L511.8,178.5 L512.0,178.6 L512.3,178.7 L512.5,178.9 L512.8,179.0 L513.1,179.1 L513.3,179.2 L513.6,179.3 L513.8,179.5 L514.1,179.6 L514.3,179.7 L514.6,179.8 L514.8,180.0 L515.1,180.1 L515.3,180.2 L515.5,180.4 L515.8,180.5 L516.0,180.6 L516.3,180.8 L516.5,180.9 L516.8,181.0 L517.0,181.2 L517.3,181.3 L517.5,181.4 L517.8,181.6 L518.0,181.7 L518.2,181.9 L518.5,182.0 L518.7,182.2 L519.0,182.3 L519.2,182.4 L519.4,182.6 L519.7,182.7 L519.9,182.9 L520.1,183.0 L520.4,183.2 L520.6,183.3 L520.8,183.5 L521.1,183.7 L521.3,183.8 L521.5,184.0 L521.8,184.1 L522.0,184.3 L522.2,184.4 L522.4,184.6 L522.7,184.8 L522.9,184.9 L523.1,185.1 L523.3,185.3 L523.5,185.4 L523.8,185.6 L524.0,185.8 L524.2,186.0 L524.4,186.1 L524.6,186.3 L524.8,186.5 L525.0,186.7 L525.3,186.8 L525.5,187.0 L525.7,187.2 L525.9,187.4 L526.1,187.6 L526.3,187.8 L526.5,188.0 L526.7,188.2 L526.9,188.3 L527.1,188.5 L527.3,188.7 L527.5,188.9 L527.7,189.1 L527.8,189.3 L528.0,189.5 L528.2,189.7 L528.4,189.9 L528.6,190.1 L528.8,190.3 L528.9,190.6 L529.1,190.8 L529.3,191.0 L529.5,191.2 L529.6,191.4 L529.8,191.6 L530.0,191.8 L530.1,192.1 L530.3,192.3 L530.5,192.5 L530.6,192.7 L530.8,193.0 L530.9,193.2 L531.1,193.4 L531.2,193.6 L531.4,193.9 L531.5,194.1 L531.7,194.4 L531.8,194.6 L532.0,194.8 L532.1,195.1 L532.2,195.3 L532.4,195.5 L532.5,195.8 L532.6,196.0 L532.8,196.3 L532.9,196.5 L533.0,196.8 L533.1,197.0 L533.2,197.3 L533.4,197.5 L533.5,197.8 L533.6,198.0 L533.7,198.3 L533.8,198.6 L533.9,198.8 L534.0,199.1 L534.1,199.3 L534.2,199.6 L534.3,199.9 L534.4,200.1 L534.5,200.4 L534.6,200.7 L534.7,200.9 L534.7,201.2 L534.8,201.5 L534.9,201.8 L535.0,202.0 L535.0,202.3 L535.1,202.6 L535.2,202.9 L535.2,203.1 L535.3,203.4 L535.4,203.7 L535.4,204.0 L535.5,204.3 L535.5,204.5 L535.6,204.8 L535.6,205.1 L535.7,205.4 L535.7,205.7 L535.7,206.0 L535.8,206.3 L535.8,206.6 L535.8,206.9 L535.9,207.1 L535.9,207.4 L535.9,207.7 L535.9,208.0 L535.9,208.3 L535.9,208.6 L536.0,208.9 L536.0,209.2 L536.0,209.5 L535.9,209.8 L535.9,210.1 L535.9,210.4 L535.8,210.7 L535.8,211.0 L535.7,211.3 L535.7,211.6 L535.6,211.9 L535.5,212.2 L535.5,212.5 L535.4,212.8 L535.3,213.1 L535.3,213.4 L535.2,213.7 L535.1,214.0 L535.0,214.3 L535.0,214.6 L534.9,214.9 L534.8,215.2 L534.7,215.5 L534.6,215.8 L534.5,216.1" fill="none" stroke="#d62728" stroke-width="0.8" opacity="0.8"/>
<g fill="none" stroke="#9467bd" stroke-width="0.7" opacity="0.7"><circle cx="396.1" cy="147.5" r="2.15"/><circle cx="401.6" cy="149.1" r="2.15"/><circle cx="404.3" cy="149.5" r="2.15"/><circle cx="409.1" cy="150.1" r="2.15"/><circle cx="413.0" cy="150.3" r="2.15"/><circle cx="418.3" cy="151.1" r="2.15"/><circle cx="422.7" cy="150.5" r="2.15"/><circle cx="426.2" cy="151.3" r="2.15"/><circle cx="430.3" cy="150.6" r="2.15"/><circle cx="435.5" cy="149.6" r="2.15"/><circle cx="439.7" cy="149.8" r="2.15"/><circle cx="444.6" cy="150.3" r="2.15"/><circle cx="449.5" cy="149.8" r="2.15"/><circle cx="453.0" cy="150.8" r="2.15"/><circle cx="457.6" cy="150.8" r="2.15"/><circle cx="461.3" cy="152.7" r="2.15"/><circle cx="464.8" cy="153.8" r="2.15"/><circle cx="469.7" cy="154.6" r="2.15"/><circle cx="474.1" cy="154.4" r="2.15"/><circle cx="477.2" cy="155.7" r="2.15"/><circle cx="481.8" cy="157.0" r="2.15"/><circle cx="484.9" cy="157.2" r="2.15"/><circle cx="488.6" cy="158.2" r="2.15"/><circle cx="492.6" cy="159.4" r="2.15"/><circle cx="497.3" cy="160.3" r="2.15"/><circle cx="499.6" cy="161.9" r="2.15"/><circle cx="502.6" cy="162.7" r="2.15"/><circle cx="506.4" cy="164.6" r="2.15"/><circle cx="508.8" cy="166.2" r="2.15"/><circle cx="512.3" cy="167.1" r="2.15"/><circle cx="515.8" cy="168.9" r="2.15"/><circle cx="518.6" cy="170.2" r="2.15"/><circle cx="520.6" cy="172.0" r="2.15"/><circle cx="522.4" cy="174.1" r="2.15"/><circle cx="524.8" cy="174.6" r="2.15"/><circle cx="528.2" cy="176.9" r="2.15"/><circle cx="528.5" cy="179.7" r="2.15"/><circle cx="530.7" cy="181.0" r="2.15"/><circle cx="532.1" cy="182.1" r="2.15"/><circle cx="533.1" cy="183.0" r="2.15"/><circle cx="534.8" cy="185.6" r="2.15"/><circle cx="537.0" cy="188.4" r="2.15"/><circle cx="537.2" cy="189.3" r="2.15"/><circle cx="538.4" cy="190.3" r="2.15"/><circle cx="538.9" cy="191.1" r="2.15"/><circle cx="540.1" cy="192.7" r="2.15"/><circle cx="541.3" cy="194.3" r="2.15"/><circle cx="542.6" cy="196.1" r="2.15"/><circle cx="542.7" cy="197.9" r="2.15"/><circle cx="543.5" cy="198.5" r="2.15"/><circle cx="543.7" cy="199.7" r="2.15"/><circle cx="544.7" cy="201.2" r="2.15"/><circle cx="544.8" cy="202.3" r="2.15"/><circle cx="544.8" cy="203.2" r="2.15"/><circle cx="544.7" cy="204.6" r="2.15"/><circle cx="545.8" cy="205.0" r="2.15"/><circle cx="546.3" cy="205.8" r="2.15"/><circle cx="546.2" cy="207.3" r="2.15"/><circle cx="546.6" cy="207.1" r="2.15"/><circle cx="547.0" cy="207.5" r="2.15"/><circle cx="547.9" cy="209.1" r="2.15"/><circle cx="547.3" cy="211.0" r="2.15"/><circle cx="548.5" cy="210.7" r="2.15"/><circle cx="547.9" cy="211.9" r="2.15"/><circle cx="548.6" cy="212.0" r="2.15"/><circle cx="548.0" cy="213.4" r="2.15"/><circle cx="548.2" cy="213.8" r="2.15"/><circle cx="548.5" cy="213.5" r="2.15"/><circle cx="547.9" cy="213.5" r="2.15"/><circle cx="548.4" cy="216.1" r="2.15"/><circle cx="548.6" cy="216.0" r="2.15"/><circle cx="548.0" cy="215.8" r="2.15"/><circle cx="549.1" cy="214.3" r="2.15"/><circle cx="548.6" cy="214.3" r="2.15"/><circle cx="548.2" cy="216.1" r="2.15"/><circle cx="548.6" cy="216.2" r="2.15"/><circle cx="549.0" cy="216.9" r="2.15"/><circle cx="549.0" cy="214.0" r="2.15"/></g>
<path d="M396.4,147.6 L396.7,147.6 L397.0,147.7 L397.2,147.8 L397.5,147.9 L397.8,147.9 L398.1,148.0 L398.4,148.1 L398.7,148.1 L398.9,148.2 L399.2,148.2 L399.5,148.3 L399.8,148.4 L400.1,148.4 L400.4,148.5 L400.7,148.5 L401.0,148.6 L401.3,148.6 L401.5,148.7 L401.8,148.7 L402.1,148.8 L402.4,148.8 L402.7,148.8 L403.0,148.9 L403.3,148.9 L403.6,149.0 L403.9,149.0 L404.2,149.0 L404.4,149.1 L404.7,149.1 L405.0,149.1 L405.3,149.1 L405.6,149.2 L405.9,149.2 L406.2,149.2 L406.5,149.2 L406.8,149.3 L407.1,149.3 L407.4,149.3 L407.7,149.3 L408.0,149.3 L408.3,149.3 L408.6,149.4 L408.9,149.4 L409.2,149.4 L409.5,149.4 L409.8,149.4 L410.0,149.4 L410.3,149.4 L410.6,149.4 L410.9,149.4 L411.2,149.4 L411.5,149.4 L411.8,149.4 L412.1,149.4 L412.4,149.4 L412.7,149.4 L413.0,149.4 L413.3,149.4 L413.6,149.4 L413.9,149.4 L414.2,149.4 L414.5,149.4 L414.8,149.4 L415.1,149.4 L415.4,149.4 L415.7,149.4 L416.0,149.4 L416.3,149.3 L416.6,149.3 L416.9,149.3 L417.2,149.3 L417.5,149.3 L417.9,149.3 L418.2,149.3 L418.5,149.3 L418.8,149.3 L419.1,149.3 L419.4,149.3 L419.7,149.3 L420.0,149.3 L420.3,149.3 L420.6,149.3 L420.9,149.3 L421.2,149.3 L421.5,149.2 L421.8,149.2 L422.1,149.2 L422.4,149.2 L422.7,149.2 L423.0,149.2 L423.3,149.2 L423.6,149.2 L423.9,149.2 L424.3,149.2 L424.6,149.2 L424.9,149.2 L425.2,149.2 L425.5,149.2 L425.8,149.2 L426.1,149.2 L426.4,149.1 L426.7,149.1 L427.0,149.1 L427.3,149.1 L427.6,149.1 L427.9,149.1 L428.2,149.1 L428.6,149.1 L428.9,149.1 L429.2,149.1 L429.5,149.1 L429.8,149.1 L430.1,149.1 L430.4,149.1 L430.7,149.1 L431.0,149.0 L431.3,149.0 L431.6,149.0 L431.9,149.0 L432.2,149.0 L432.6,149.0 L432.9,149.0 L433.2,149.0 L433.5,149.0 L433.8,149.0 L434.1,149.0 L434.4,149.0 L434.7,149.0 L435.0,149.0 L435.3,149.0 L435.6,149.0 L435.9,149.0 L436.2,149.0 L436.6,149.0 L436.9,149.0 L437.2,149.0 L437.5,149.0 L437.8,149.1 L438.1,149.1 L438.4,149.1 L438.7,149.1 L439.0,149.1 L439.3,149.1 L439.6,149.1 L439.9,149.1 L440.2,149.1 L440.5,149.1 L440.8,149.2 L441.1,149.2 L441.4,149.2 L441.8,149.2 L442.1,149.2 L442.4,149.2 L442.7,149.3 L443.0,149.3 L443.3,149.3 L443.6,149.3 L443.9,149.3 L444.2,149.4 L444.5,149.4 L444.8,149.4 L445.1,149.4 L445.4,149.5 L445.7,149.5 L446.0,149.5 L446.3,149.5 L446.6,149.6 L446.9,149.6 L447.2,149.6 L447.5,149.6 L447.8,149.7 L448.1,149.7 L448.4,149.7 L448.7,149.8 L449.0,149.8 L449.3,149.8 L449.6,149.9 L449.9,149.9 L450.2,149.9 L450.5,150.0 L450.8,150.0 L451.1,150.0 L451.4,150.1 L451.7,150.1 L452.0,150.1 L452.3,150.2 L452.6,150.2 L452.9,150.2 L453.2,150.3 L453.5,150.3 L453.8,150.4 L454.1,150.4 L454.4,150.5 L454.7,150.5 L455.0,150.5 L455.3,150.6 L455.6,150.6 L455.9,150.7 L456.2,150.7 L456.5,150.8 L456.8,150.8 L457.1,150.8 L457.4,150.9 L457.7,150.9 L458.0,151.0 L458.3,151.0 L458.6,151.1 L458.9,151.1 L459.2,151.2 L459.5,151.2 L459.8,151.3 L460.1,151.3 L460.4,151.4 L460.7,151.4 L461.0,151.5 L461.3,151.5 L461.6,151.6 L461.9,151.6 L462.2,151.7 L462.5,151.7 L462.8,151.8 L463.1,151.8 L463.4,151.9 L463.7,151.9 L464.0,152.0 L464.3,152.1 L464.6,152.1 L464.9,152.2 L465.2,152.2 L465.5,152.3 L465.8,152.3 L466.1,152.4 L466.4,152.4 L466.7,152.5 L467.0,152.6 L467.3,152.6 L467.6,152.7 L467.9,152.7 L468.2,152.8 L468.5,152.8 L468.8,152.9 L469.1,153.0 L469.4,153.0 L469.7,153.1 L470.0,153.1 L470.3,153.2 L470.6,153.3 L470.9,153.3 L471.2,153.4 L471.5,153.5 L471.8,153.5 L472.1,153.6 L472.4,153.6 L472.7,153.7 L473.0,153.8 L473.3,153.8 L473.6,153.9 L473.9,153.9 L474.2,154.0 L474.5,154.1 L474.8,154.1 L475.1,154.2 L475.4,154.3 L475.7,154.3 L476.0,154.4 L476.3,154.5 L476.6,154.5 L476.9,154.6 L477.2,154.6 L477.5,154.7 L477.8,154.8 L478.1,154.8 L478.4,154.9 L478.7,155.0 L479.0,155.0 L479.3,155.1 L479.6,155.2 L479.9,155.2 L480.2,155.3 L480.5,155.4 L480.8,155.4 L481.1,155.5 L481.4,155.6 L481.7,155.6 L482.0,155.7 L482.3,155.8 L482.6,155.9 L482.9,155.9 L483.2,156.0 L483.5,156.1 L483.8,156.1 L484.1,156.2 L484.4,156.3 L484.7,156.4 L485.0,156.4 L485.3,156.5 L485.6,156.6 L485.9,156.6 L486.2,156.7 L486.5,156.8 L486.8,156.9 L487.1,156.9 L487.4,157.0 L487.7,157.1 L488.0,157.2 L488.3,157.2 L488.6,157.3 L488.9,157.4 L489.2,157.5 L489.5,157.6 L489.8,157.6 L490.1,157.7 L490.4,157.8 L490.7,157.9 L491.0,158.0 L491.3,158.0 L491.6,158.1 L491.9,158.2 L492.2,158.3 L492.5,158.4 L492.8,158.5 L493.1,158.5 L493.4,158.6 L493.7,158.7 L494.0,158.8 L494.3,158.9 L494.6,159.0 L494.9,159.1 L495.2,159.2 L495.5,159.2 L495.8,159.3 L496.1,159.4 L496.4,159.5 L496.7,159.6 L496.9,159.7 L497.2,159.8 L497.5,159.9 L497.8,160.0 L498.1,160.1 L498.4,160.2 L498.7,160.3 L499.0,160.4 L499.3,160.5 L499.6,160.6 L499.9,160.7 L500.2,160.8 L500.5,160.9 L500.8,161.0 L501.0,161.1 L501.3,161.2 L501.6,161.3 L501.9,161.4 L502.2,161.5 L502.5,161.6 L502.8,161.7 L503.1,161.8 L503.4,161.9 L503.6,162.0 L503.9,162.1 L504.2,162.2 L504.5,162.3 L504.8,162.5 L505.1,162.6 L505.4,162.7 L505.6,162.8 L505.9,162.9 L506.2,163.0 L506.5,163.1 L506.8,163.3 L507.1,163.4 L507.3,163.5 L507.6,163.6 L507.9,163.7 L508.2,163.9 L508.5,164.0 L508.7,164.1 L509.0,164.2 L509.3,164.4 L509.6,164.5 L509.9,164.6 L510.1,164.7 L510.4,164.9 L510.7,165.0 L511.0,165.1 L511.2,165.3 L511.5,165.4 L511.8,165.5 L512.1,165.7 L512.3,165.8 L512.6,166.0 L512.9,166.1 L513.2,166.2 L513.4,166.4 L513.7,166.5 L514.0,166.7 L514.2,166.8 L514.5,166.9 L514.8,167.1 L515.0,167.2 L515.3,167.4 L515.6,167.5 L515.8,167.7 L516.1,167.8 L516.4,168.0 L516.6,168.1 L516.9,168.3 L517.2,168.4 L517.4,168.6 L517.7,168.8 L517.9,168.9 L518.2,169.1 L518.5,169.2 L518.7,169.4 L519.0,169.6 L519.2,169.7 L519.5,169.9 L519.8,170.1 L520.0,170.2 L520.3,170.4 L520.5,170.6 L520.8,170.7 L521.0,170.9 L521.3,171.1 L521.5,171.3 L521.8,171.4 L522.0,171.6 L522.3,171.8 L522.5,172.0 L522.8,172.1 L523.0,172.3 L523.3,172.5 L523.5,172.7 L523.7,172.9 L524.0,173.1 L524.2,173.2 L524.5,173.4 L524.7,173.6 L525.0,173.8 L525.2,174.0 L525.4,174.2 L525.7,174.4 L525.9,174.6 L526.1,174.8 L526.4,175.0 L526.6,175.2 L526.8,175.4 L527.1,175.6 L527.3,175.8 L527.5,176.0 L527.8,176.2 L528.0,176.4 L528.2,176.6 L528.4,176.8 L528.7,177.0 L528.9,177.2 L529.1,177.4 L529.3,177.6 L529.6,177.8 L529.8,178.0 L530.0,178.2 L530.2,178.4 L530.5,178.7 L530.7,178.9 L530.9,179.1 L531.1,179.3 L531.3,179.5 L531.5,179.7 L531.7,180.0 L532.0,180.2 L532.2,180.4 L532.4,180.6 L532.6,180.9 L532.8,181.1 L533.0,181.3 L533.2,181.5 L533.4,181.8 L533.6,182.0 L533.8,182.2 L534.0,182.4 L534.2,182.7 L534.4,182.9 L534.6,183.1 L534.8,183.4 L535.0,183.6 L535.2,183.8 L535.4,184.1 L535.6,184.3 L535.8,184.6 L536.0,184.8 L536.2,185.0 L536.4,185.3 L536.5,185.5 L536.7,185.8 L536.9,186.0 L537.1,186.3 L537.3,186.5 L537.5,186.8 L537.6,187.0 L537.8,187.3 L538.0,187.5 L538.2,187.8 L538.4,188.0 L538.5,188.3 L538.7,188.5 L538.9,188.8 L539.0,189.0 L539.2,189.3 L539.4,189.5 L539.6,189.8 L539.7,190.1 L539.9,190.3 L540.1,190.6 L540.2,190.8 L540.4,191.1 L540.5,191.4 L540.7,191.6 L540.9,191.9 L541.0,192.2 L541.2,192.4 L541.3,192.7 L541.5,193.0 L541.6,193.2 L541.8,193.5 L541.9,193.8 L542.1,194.1 L542.2,194.3 L542.4,194.6 L542.5,194.9 L542.7,195.2 L542.8,195.4 L542.9,195.7 L543.1,196.0 L543.2,196.3 L543.4,196.5 L543.5,196.8 L543.6,197.1 L543.8,197.4 L543.9,197.7 L544.0,197.9 L544.2,198.2 L544.3,198.5 L544.4,198.8 L544.5,199.1 L544.7,199.4 L544.8,199.7 L544.9,199.9 L545.0,200.2 L545.1,200.5 L545.3,200.8 L545.4,201.1 L545.5,201.4 L545.6,201.7 L545.7,202.0 L545.8,202.3 L545.9,202.5 L546.1,202.8 L546.2,203.1 L546.3,203.4 L546.4,203.7 L546.5,204.0 L546.6,204.3 L546.7,204.6 L546.8,204.9 L546.9,205.2 L547.0,205.5 L547.1,205.8 L547.2,206.1 L547.3,206.4 L547.4,206.7 L547.5,207.0 L547.6,207.3 L547.6,207.6 L547.7,207.9 L547.8,208.2 L547.9,208.5 L548.0,208.8 L548.0,209.1 L548.0,209.4 L548.1,209.7 L548.1,210.1 L548.2,210.4 L548.2,210.7 L548.2,211.0 L548.3,211.3 L548.3,211.6 L548.3,211.9 L548.4,212.3 L548.4,212.6 L548.4,212.9 L548.4,213.2 L548.5,213.5 L548.5,213.8 L548.5,214.1 L548.5,214.4 L548.5,214.8 L548.5,215.1 L548.6,215.4 L548.6,215.7 L548.6,216.0" fill="none" stroke="#9467bd" stroke-width="0.8" opacity="0.7"/>
<g fill="none" stroke="#8c564b" stroke-width="0.7" opacity="0.45"><circle cx="396.1" cy="134.4" r="2.15"/><circle cx="401.6" cy="136.3" r="2.15"/><circle cx="407.5" cy="137.0" r="2.15"/><circle cx="411.9" cy="137.1" r="2.15"/><circle cx="417.7" cy="138.8" r="2.15"/><circle cx="422.6" cy="137.7" r="2.15"/><circle cx="427.2" cy="139.4" r="2.15"/><circle cx="432.9" cy="138.1" r="2.15"/><circle cx="437.8" cy="138.8" r="2.15"/><circle cx="442.6" cy="139.7" r="2.15"/><circle cx="447.6" cy="141.0" r="2.15"/><circle cx="452.8" cy="141.3" r="2.15"/><circle cx="457.9" cy="142.9" r="2.15"/><circle cx="461.6" cy="143.5" r="2.15"/><circle cx="466.6" cy="144.7" r="2.15"/><circle cx="471.0" cy="145.9" r="2.15"/><circle cx="476.1" cy="147.0" r="2.15"/><circle cx="480.0" cy="148.2" r="2.15"/><circle cx="484.3" cy="148.9" r="2.15"/><circle cx="489.1" cy="150.3" r="2.15"/><circle cx="493.8" cy="152.4" r="2.15"/><circle cx="496.2" cy="153.5" r="2.15"/><circle cx="500.6" cy="154.7" r="2.15"/><circle cx="505.0" cy="155.1" r="2.15"/><circle cx="508.6" cy="157.4" r="2.15"/><circle cx="512.7" cy="158.4" r="2.15"/><circle cx="516.1" cy="160.0" r="2.15"/><circle cx="518.9" cy="161.8" r="2.15"/><circle cx="522.9" cy="164.2" r="2.15"/><circle cx="526.4" cy="166.0" r="2.15"/><circle cx="528.5" cy="167.8" r="2.15"/><circle cx="530.4" cy="169.2" r="2.15"/><circle cx="533.9" cy="170.9" r="2.15"/><circle cx="535.7" cy="172.9" r="2.15"/><circle cx="538.2" cy="174.6" r="2.15"/><circle cx="539.8" cy="176.8" r="2.15"/><circle cx="541.9" cy="178.1" r="2.15"/><circle cx="544.0" cy="179.7" r="2.15"/><circle cx="544.6" cy="181.6" r="2.15"/><circle cx="547.2" cy="183.8" r="2.15"/><circle cx="547.5" cy="185.2" r="2.15"/><circle cx="549.5" cy="187.0" r="2.15"/><circle cx="549.7" cy="189.5" r="2.15"/><circle cx="550.8" cy="190.6" r="2.15"/><circle cx="552.3" cy="192.2" r="2.15"/><circle cx="553.1" cy="194.6" r="2.15"/><circle cx="553.6" cy="194.8" r="2.15"/><circle cx="553.6" cy="196.7" r="2.15"/><circle cx="554.9" cy="198.3" r="2.15"/><circle cx="555.4" cy="199.3" r="2.15"/><circle cx="555.7" cy="200.5" r="2.15"/><circle cx="556.6" cy="201.8" r="2.15"/><circle cx="556.9" cy="204.1" r="2.15"/><circle cx="557.5" cy="203.5" r="2.15"/><circle cx="558.4" cy="205.6" r="2.15"/><circle cx="557.3" cy="206.9" r="2.15"/><circle cx="558.0" cy="207.2" r="2.15"/><circle cx="557.9" cy="208.0" r="2.15"/><circle cx="558.4" cy="210.0" r="2.15"/><circle cx="558.4" cy="210.6" r="2.15"/><circle cx="559.6" cy="210.7" r="2.15"/><circle cx="558.9" cy="212.1" r="2.15"/><circle cx="558.4" cy="212.6" r="2.15"/><circle cx="559.0" cy="214.2" r="2.15"/><circle cx="558.8" cy="214.9" r="2.15"/><circle cx="559.5" cy="215.9" r="2.15"/><circle cx="559.1" cy="216.0" r="2.15"/><circle cx="559.5" cy="213.5" r="2.15"/><circle cx="559.3" cy="213.5" r="2.15"/><circle cx="559.4" cy="216.7" r="2.15"/><circle cx="559.5" cy="214.2" r="2.15"/><circle cx="558.9" cy="215.7" r="2.15"/><circle cx="559.4" cy="216.9" r="2.15"/><circle cx="559.1" cy="215.8" r="2.15"/></g>
<path d="M396.5,135.0 L396.8,135.1 L397.1,135.2 L397.5,135.2 L397.8,135.3 L398.1,135.3 L398.4,135.4 L398.7,135.4 L399.0,135.5 L399.4,135.5 L399.7,135.6 L400.0,135.6 L400.3,135.7 L400.6,135.7 L401.0,135.8 L401.3,135.8 L401.6,135.8 L401.9,135.9 L402.3,135.9 L402.6,136.0 L402.9,136.0 L403.2,136.0 L403.5,136.1 L403.9,136.1 L404.2,136.1 L404.5,136.2 L404.8,136.2 L405.2,136.2 L405.5,136.3 L405.8,136.3 L406.1,136.3 L406.4,136.3 L406.8,136.4 L407.1,136.4 L407.4,136.4 L407.7,136.5 L408.1,136.5 L408.4,136.5 L408.7,136.5 L409.0,136.5 L409.4,136.6 L409.7,136.6 L410.0,136.6 L410.3,136.6 L410.7,136.6 L411.0,136.7 L411.3,136.7 L411.6,136.7 L412.0,136.7 L412.3,136.7 L412.6,136.7 L412.9,136.8 L413.3,136.8 L413.6,136.8 L413.9,136.8 L414.3,136.8 L414.6,136.8 L414.9,136.8 L415.2,136.8 L415.6,136.8 L415.9,136.9 L416.2,136.9 L416.5,136.9 L416.9,136.9 L417.2,136.9 L417.5,136.9 L417.9,136.9 L418.2,136.9 L418.5,136.9 L418.8,136.9 L419.2,136.9 L419.5,136.9 L419.8,136.9 L420.2,137.0 L420.5,137.0 L420.8,137.0 L421.1,137.0 L421.5,137.1 L421.8,137.1 L422.1,137.1 L422.5,137.1 L422.8,137.1 L423.1,137.2 L423.4,137.2 L423.8,137.2 L424.1,137.2 L424.4,137.2 L424.8,137.3 L425.1,137.3 L425.4,137.3 L425.8,137.3 L426.1,137.3 L426.4,137.4 L426.7,137.4 L427.1,137.4 L427.4,137.4 L427.7,137.4 L428.1,137.5 L428.4,137.5 L428.7,137.5 L429.0,137.5 L429.4,137.6 L429.7,137.6 L430.0,137.6 L430.4,137.6 L430.7,137.6 L431.0,137.7 L431.4,137.7 L431.7,137.7 L432.0,137.7 L432.3,137.8 L432.7,137.8 L433.0,137.8 L433.3,137.8 L433.7,137.9 L434.0,137.9 L434.3,137.9 L434.7,137.9 L435.0,138.0 L435.3,138.0 L435.7,138.0 L436.0,138.0 L436.3,138.1 L436.6,138.1 L437.0,138.1 L437.3,138.2 L437.6,138.2 L438.0,138.2 L438.3,138.3 L438.6,138.3 L438.9,138.3 L439.3,138.4 L439.6,138.4 L439.9,138.4 L440.3,138.5 L440.6,138.5 L440.9,138.5 L441.3,138.6 L441.6,138.6 L441.9,138.6 L442.2,138.7 L442.6,138.7 L442.9,138.8 L443.2,138.8 L443.5,138.9 L443.9,138.9 L444.2,138.9 L444.5,139.0 L444.9,139.0 L445.2,139.1 L445.5,139.1 L445.8,139.2 L446.2,139.2 L446.5,139.3 L446.8,139.3 L447.1,139.4 L447.5,139.4 L447.8,139.5 L448.1,139.5 L448.4,139.6 L448.8,139.6 L449.1,139.7 L449.4,139.7 L449.7,139.8 L450.1,139.8 L450.4,139.9 L450.7,140.0 L451.0,140.0 L451.4,140.1 L451.7,140.1 L452.0,140.2 L452.3,140.2 L452.7,140.3 L453.0,140.4 L453.3,140.4 L453.6,140.5 L454.0,140.5 L454.3,140.6 L454.6,140.7 L454.9,140.7 L455.2,140.8 L455.6,140.9 L455.9,140.9 L456.2,141.0 L456.5,141.1 L456.9,141.1 L457.2,141.2 L457.5,141.3 L457.8,141.3 L458.1,141.4 L458.5,141.5 L458.8,141.5 L459.1,141.6 L459.4,141.7 L459.8,141.8 L460.1,141.8 L460.4,141.9 L460.7,142.0 L461.0,142.1 L461.4,142.1 L461.7,142.2 L462.0,142.3 L462.3,142.3 L462.6,142.4 L463.0,142.5 L463.3,142.6 L463.6,142.7 L463.9,142.7 L464.2,142.8 L464.6,142.9 L464.9,143.0 L465.2,143.0 L465.5,143.1 L465.8,143.2 L466.1,143.3 L466.5,143.4 L466.8,143.4 L467.1,143.5 L467.4,143.6 L467.7,143.7 L468.1,143.8 L468.4,143.8 L468.7,143.9 L469.0,144.0 L469.3,144.1 L469.7,144.2 L470.0,144.3 L470.3,144.3 L470.6,144.4 L470.9,144.5 L471.2,144.6 L471.6,144.7 L471.9,144.8 L472.2,144.8 L472.5,144.9 L472.8,145.0 L473.2,145.1 L473.5,145.2 L473.8,145.3 L474.1,145.4 L474.4,145.4 L474.7,145.5 L475.1,145.6 L475.4,145.7 L475.7,145.8 L476.0,145.9 L476.3,146.0 L476.6,146.0 L477.0,146.1 L477.3,146.2 L477.6,146.3 L477.9,146.4 L478.2,146.5 L478.6,146.6 L478.9,146.7 L479.2,146.8 L479.5,146.8 L479.8,146.9 L480.1,147.0 L480.5,147.1 L480.8,147.2 L481.1,147.3 L481.4,147.4 L481.7,147.5 L482.0,147.6 L482.4,147.6 L482.7,147.7 L483.0,147.8 L483.3,147.9 L483.6,148.0 L483.9,148.1 L484.3,148.2 L484.6,148.3 L484.9,148.4 L485.2,148.5 L485.5,148.6 L485.9,148.6 L486.2,148.7 L486.5,148.8 L486.8,148.9 L487.1,149.0 L487.4,149.1 L487.8,149.2 L488.1,149.3 L488.4,149.4 L488.7,149.5 L489.0,149.6 L489.3,149.7 L489.7,149.8 L490.0,149.9 L490.3,149.9 L490.6,150.0 L490.9,150.1 L491.2,150.2 L491.6,150.3 L491.9,150.4 L492.2,150.5 L492.5,150.6 L492.8,150.7 L493.1,150.8 L493.5,150.9 L493.8,151.0 L494.1,151.1 L494.4,151.2 L494.7,151.3 L495.0,151.4 L495.4,151.5 L495.7,151.6 L496.0,151.7 L496.3,151.8 L496.6,151.9 L496.9,152.0 L497.2,152.1 L497.6,152.2 L497.9,152.3 L498.2,152.4 L498.5,152.5 L498.8,152.6 L499.1,152.7 L499.4,152.8 L499.8,153.0 L500.1,153.1 L500.4,153.2 L500.7,153.3 L501.0,153.4 L501.3,153.5 L501.6,153.6 L501.9,153.7 L502.3,153.8 L502.6,153.9 L502.9,154.0 L503.2,154.2 L503.5,154.3 L503.8,154.4 L504.1,154.5 L504.4,154.6 L504.8,154.7 L505.1,154.8 L505.4,155.0 L505.7,155.1 L506.0,155.2 L506.3,155.3 L506.6,155.4 L506.9,155.5 L507.2,155.7 L507.5,155.8 L507.8,155.9 L508.2,156.0 L508.5,156.1 L508.8,156.3 L509.1,156.4 L509.4,156.5 L509.7,156.6 L510.0,156.8 L510.3,156.9 L510.6,157.0 L510.9,157.1 L511.2,157.3 L511.5,157.4 L511.8,157.5 L512.1,157.7 L512.4,157.8 L512.7,157.9 L513.0,158.1 L513.3,158.2 L513.7,158.3 L514.0,158.5 L514.3,158.6 L514.6,158.7 L514.9,158.9 L515.2,159.0 L515.5,159.2 L515.8,159.3 L516.1,159.4 L516.4,159.6 L516.7,159.7 L517.0,159.9 L517.3,160.0 L517.6,160.2 L517.9,160.3 L518.2,160.4 L518.5,160.6 L518.8,160.7 L519.0,160.9 L519.3,161.0 L519.6,161.2 L519.9,161.3 L520.2,161.5 L520.5,161.7 L520.8,161.8 L521.1,162.0 L521.4,162.1 L521.7,162.3 L522.0,162.4 L522.3,162.6 L522.6,162.8 L522.9,162.9 L523.2,163.1 L523.4,163.2 L523.7,163.4 L524.0,163.6 L524.3,163.7 L524.6,163.9 L524.9,164.1 L525.2,164.2 L525.5,164.4 L525.8,164.6 L526.0,164.8 L526.3,164.9 L526.6,165.1 L526.9,165.3 L527.2,165.5 L527.5,165.6 L527.7,165.8 L528.0,166.0 L528.3,166.2 L528.6,166.4 L528.9,166.5 L529.1,166.7 L529.4,166.9 L529.7,167.1 L530.0,167.3 L530.3,167.5 L530.5,167.6 L530.8,167.8 L531.1,168.0 L531.4,168.2 L531.6,168.4 L531.9,168.6 L532.2,168.8 L532.4,169.0 L532.7,169.2 L533.0,169.4 L533.3,169.6 L533.5,169.8 L533.8,170.0 L534.1,170.2 L534.3,170.4 L534.6,170.6 L534.9,170.8 L535.1,171.0 L535.4,171.2 L535.6,171.4 L535.9,171.6 L536.2,171.8 L536.4,172.0 L536.7,172.2 L536.9,172.5 L537.2,172.7 L537.4,172.9 L537.7,173.1 L538.0,173.3 L538.2,173.5 L538.5,173.7 L538.7,174.0 L539.0,174.2 L539.2,174.4 L539.5,174.6 L539.7,174.9 L539.9,175.1 L540.2,175.3 L540.4,175.5 L540.7,175.8 L540.9,176.0 L541.2,176.2 L541.4,176.4 L541.6,176.7 L541.9,176.9 L542.1,177.1 L542.3,177.4 L542.6,177.6 L542.8,177.8 L543.0,178.1 L543.3,178.3 L543.5,178.6 L543.7,178.8 L544.0,179.0 L544.2,179.3 L544.4,179.5 L544.6,179.8 L544.9,180.0 L545.1,180.3 L545.3,180.5 L545.5,180.8 L545.7,181.0 L546.0,181.3 L546.2,181.5 L546.4,181.8 L546.6,182.0 L546.8,182.3 L547.0,182.5 L547.2,182.8 L547.4,183.0 L547.6,183.3 L547.9,183.6 L548.1,183.8 L548.3,184.1 L548.5,184.4 L548.7,184.6 L548.9,184.9 L549.1,185.2 L549.3,185.4 L549.4,185.7 L549.6,186.0 L549.8,186.2 L550.0,186.5 L550.2,186.8 L550.4,187.0 L550.6,187.3 L550.8,187.6 L551.0,187.9 L551.1,188.2 L551.3,188.4 L551.5,188.7 L551.7,189.0 L551.9,189.3 L552.0,189.6 L552.2,189.8 L552.4,190.1 L552.5,190.4 L552.7,190.7 L552.9,191.0 L553.0,191.3 L553.2,191.6 L553.4,191.9 L553.5,192.2 L553.7,192.5 L553.8,192.7 L554.0,193.0 L554.2,193.3 L554.3,193.6 L554.5,193.9 L554.6,194.2 L554.8,194.5 L554.9,194.8 L555.0,195.1 L555.2,195.4 L555.3,195.7 L555.5,196.0 L555.6,196.4 L555.7,196.7 L555.9,197.0 L556.0,197.3 L556.1,197.6 L556.3,197.9 L556.4,198.2 L556.5,198.5 L556.6,198.8 L556.8,199.1 L556.9,199.4 L557.0,199.8 L557.1,200.1 L557.2,200.4 L557.3,200.7 L557.4,201.0 L557.6,201.3 L557.7,201.7 L557.8,202.0 L557.9,202.3 L558.0,202.6 L558.1,202.9 L558.2,203.3 L558.3,203.6 L558.3,203.9 L558.4,204.2 L558.5,204.6 L558.6,204.9 L558.7,205.2 L558.8,205.5 L558.9,205.9 L558.9,206.2 L559.0,206.5 L559.1,206.9 L559.2,207.2 L559.2,207.5 L559.3,207.8 L559.3,208.2 L559.4,208.5 L559.4,208.9 L559.4,209.2 L559.4,209.6 L559.4,209.9 L559.4,210.2 L559.4,210.6 L559.4,210.9 L559.4,211.3 L559.4,211.6 L559.4,211.9 L559.4,212.3 L559.4,212.6 L559.3,213.0 L559.3,213.3 L559.3,213.6 L559.3,214.0 L559.3,214.3 L559.2,214.7 L559.2,215.0 L559.2,215.3 L559.1,215.7 L559.1,216.0" fill="none" stroke="#8c564b" stroke-width="0.8" opacity="0.45"/>
<g fill="none" stroke="#e377c2" stroke-width="0.7" opacity="0.45"><circle cx="397.0" cy="103.4" r="2.15"/><circle cx="402.2" cy="105.1" r="2.15"/><circle cx="411.1" cy="107.8" r="2.15"/><circle cx="418.0" cy="109.3" r="2.15"/><circle cx="424.9" cy="109.9" r="2.15"/><circle cx="431.9" cy="110.0" r="2.15"/><circle cx="438.3" cy="111.6" r="2.15"/><circle cx="445.4" cy="113.0" r="2.15"/><circle cx="453.2" cy="114.3" r="2.15"/><circle cx="459.2" cy="115.4" r="2.15"/><circle cx="465.4" cy="115.8" r="2.15"/><circle cx="472.3" cy="118.1" r="2.15"/><circle cx="477.7" cy="119.1" r="2.15"/><circle cx="484.7" cy="121.6" r="2.15"/><circle cx="491.0" cy="124.4" r="2.15"/><circle cx="496.2" cy="126.7" r="2.15"/><circle cx="501.9" cy="128.9" r="2.15"/><circle cx="507.3" cy="131.1" r="2.15"/><circle cx="511.7" cy="133.6" r="2.15"/><circle cx="517.0" cy="136.5" r="2.15"/><circle cx="521.0" cy="140.0" r="2.15"/><circle cx="525.7" cy="141.5" r="2.15"/><circle cx="530.4" cy="144.9" r="2.15"/><circle cx="534.3" cy="146.9" r="2.15"/><circle cx="538.4" cy="148.4" r="2.15"/><circle cx="542.6" cy="152.1" r="2.15"/><circle cx="545.7" cy="154.0" r="2.15"/><circle cx="548.5" cy="155.7" r="2.15"/><circle cx="552.4" cy="159.2" r="2.15"/><circle cx="555.5" cy="161.5" r="2.15"/><circle cx="559.1" cy="163.7" r="2.15"/><circle cx="561.8" cy="166.7" r="2.15"/><circle cx="563.5" cy="168.7" r="2.15"/><circle cx="565.7" cy="170.8" r="2.15"/><circle cx="569.1" cy="172.5" r="2.15"/><circle cx="570.7" cy="175.0" r="2.15"/><circle cx="573.0" cy="177.3" r="2.15"/><circle cx="574.7" cy="179.7" r="2.15"/><circle cx="576.3" cy="181.4" r="2.15"/><circle cx="578.2" cy="184.3" r="2.15"/><circle cx="579.1" cy="185.5" r="2.15"/><circle cx="581.7" cy="187.4" r="2.15"/><circle cx="581.7" cy="189.8" r="2.15"/><circle cx="583.2" cy="192.1" r="2.15"/><circle cx="583.8" cy="193.6" r="2.15"/><circle cx="585.4" cy="195.9" r="2.15"/><circle cx="585.2" cy="197.9" r="2.15"/><circle cx="585.9" cy="198.2" r="2.15"/><circle cx="586.4" cy="200.8" r="2.15"/><circle cx="587.2" cy="202.6" r="2.15"/><circle cx="588.0" cy="204.2" r="2.15"/><circle cx="587.9" cy="206.5" r="2.15"/><circle cx="587.2" cy="206.3" r="2.15"/><circle cx="588.3" cy="208.1" r="2.15"/><circle cx="587.4" cy="209.8" r="2.15"/><circle cx="588.4" cy="210.4" r="2.15"/><circle cx="589.2" cy="213.8" r="2.15"/><circle cx="589.4" cy="214.3" r="2.15"/><circle cx="588.8" cy="216.0" r="2.15"/><circle cx="588.9" cy="216.6" r="2.15"/><circle cx="588.9" cy="216.2" r="2.15"/><circle cx="589.0" cy="212.7" r="2.15"/><circle cx="589.3" cy="215.1" r="2.15"/><circle cx="589.4" cy="215.3" r="2.15"/><circle cx="587.9" cy="214.2" r="2.15"/><circle cx="588.5" cy="213.5" r="2.15"/></g>
<path d="M396.5,102.5 L396.9,102.7 L397.2,102.8 L397.6,102.9 L398.0,103.0 L398.3,103.2 L398.7,103.3 L399.1,103.4 L399.5,103.5 L399.8,103.7 L400.2,103.8 L400.6,103.9 L400.9,104.0 L401.3,104.1 L401.7,104.2 L402.1,104.3 L402.4,104.4 L402.8,104.5 L403.2,104.6 L403.6,104.7 L404.0,104.8 L404.3,104.9 L404.7,105.0 L405.1,105.1 L405.5,105.2 L405.8,105.3 L406.2,105.4 L406.6,105.5 L407.0,105.6 L407.4,105.6 L407.7,105.7 L408.1,105.8 L408.5,105.9 L408.9,106.0 L409.3,106.0 L409.7,106.1 L410.0,106.2 L410.4,106.2 L410.8,106.3 L411.2,106.4 L411.6,106.4 L412.0,106.5 L412.4,106.6 L412.7,106.6 L413.1,106.7 L413.5,106.8 L413.9,106.8 L414.3,106.9 L414.7,106.9 L415.1,107.0 L415.5,107.0 L415.8,107.1 L416.2,107.1 L416.6,107.2 L417.0,107.2 L417.4,107.3 L417.8,107.3 L418.2,107.4 L418.6,107.4 L419.0,107.5 L419.4,107.5 L419.7,107.6 L420.1,107.6 L420.5,107.6 L420.9,107.7 L421.3,107.7 L421.7,107.8 L422.1,107.8 L422.5,107.8 L422.9,107.9 L423.3,107.9 L423.7,107.9 L424.1,108.0 L424.5,108.0 L424.9,108.1 L425.3,108.1 L425.7,108.2 L426.0,108.2 L426.4,108.3 L426.8,108.3 L427.2,108.4 L427.6,108.4 L428.0,108.5 L428.4,108.5 L428.8,108.6 L429.2,108.6 L429.6,108.7 L430.0,108.7 L430.4,108.8 L430.8,108.8 L431.2,108.9 L431.6,108.9 L432.0,109.0 L432.4,109.0 L432.8,109.1 L433.2,109.1 L433.6,109.2 L434.0,109.2 L434.4,109.3 L434.8,109.3 L435.2,109.4 L435.6,109.4 L436.0,109.5 L436.4,109.5 L436.8,109.6 L437.2,109.6 L437.6,109.7 L438.0,109.7 L438.4,109.8 L438.8,109.8 L439.2,109.9 L439.6,109.9 L440.0,110.0 L440.4,110.0 L440.7,110.1 L441.1,110.1 L441.5,110.2 L441.9,110.2 L442.3,110.3 L442.7,110.3 L443.1,110.4 L443.5,110.4 L443.9,110.5 L444.3,110.5 L444.7,110.6 L445.1,110.6 L445.5,110.7 L445.9,110.7 L446.3,110.8 L446.7,110.9 L447.1,110.9 L447.5,111.0 L447.9,111.0 L448.3,111.1 L448.7,111.2 L449.1,111.2 L449.5,111.3 L449.9,111.3 L450.3,111.4 L450.7,111.5 L451.1,111.5 L451.5,111.6 L451.9,111.7 L452.3,111.7 L452.7,111.8 L453.1,111.9 L453.5,112.0 L453.9,112.0 L454.3,112.1 L454.7,112.2 L455.1,112.2 L455.5,112.3 L455.9,112.4 L456.3,112.5 L456.7,112.5 L457.1,112.6 L457.5,112.7 L457.9,112.8 L458.3,112.9 L458.7,113.0 L459.1,113.0 L459.4,113.1 L459.8,113.2 L460.2,113.3 L460.6,113.4 L461.0,113.5 L461.4,113.6 L461.8,113.6 L462.2,113.7 L462.6,113.8 L463.0,113.9 L463.4,114.0 L463.8,114.1 L464.1,114.2 L464.5,114.3 L464.9,114.4 L465.3,114.5 L465.7,114.6 L466.1,114.7 L466.5,114.8 L466.9,114.9 L467.3,115.0 L467.6,115.1 L468.0,115.2 L468.4,115.3 L468.8,115.4 L469.2,115.5 L469.6,115.6 L470.0,115.7 L470.4,115.8 L470.7,115.9 L471.1,116.0 L471.5,116.1 L471.9,116.2 L472.3,116.4 L472.7,116.5 L473.1,116.6 L473.4,116.7 L473.8,116.8 L474.2,116.9 L474.6,117.0 L475.0,117.2 L475.4,117.3 L475.7,117.4 L476.1,117.5 L476.5,117.6 L476.9,117.8 L477.3,117.9 L477.7,118.0 L478.0,118.1 L478.4,118.2 L478.8,118.4 L479.2,118.5 L479.6,118.6 L479.9,118.7 L480.3,118.9 L480.7,119.0 L481.1,119.1 L481.5,119.2 L481.8,119.4 L482.2,119.5 L482.6,119.6 L483.0,119.8 L483.3,119.9 L483.7,120.0 L484.1,120.2 L484.5,120.3 L484.9,120.4 L485.2,120.6 L485.6,120.7 L486.0,120.9 L486.4,121.0 L486.7,121.1 L487.1,121.3 L487.5,121.4 L487.9,121.5 L488.2,121.7 L488.6,121.8 L489.0,122.0 L489.4,122.1 L489.7,122.3 L490.1,122.4 L490.5,122.6 L490.8,122.7 L491.2,122.8 L491.6,123.0 L492.0,123.1 L492.3,123.3 L492.7,123.4 L493.1,123.6 L493.5,123.7 L493.8,123.9 L494.2,124.0 L494.6,124.2 L494.9,124.4 L495.3,124.5 L495.7,124.7 L496.0,124.8 L496.4,125.0 L496.8,125.1 L497.2,125.3 L497.5,125.4 L497.9,125.6 L498.3,125.8 L498.6,125.9 L499.0,126.1 L499.4,126.2 L499.7,126.4 L500.1,126.6 L500.5,126.7 L500.8,126.9 L501.2,127.1 L501.6,127.2 L501.9,127.4 L502.3,127.5 L502.7,127.7 L503.0,127.9 L503.4,128.0 L503.7,128.2 L504.1,128.4 L504.5,128.6 L504.8,128.7 L505.2,128.9 L505.6,129.1 L505.9,129.2 L506.3,129.4 L506.7,129.6 L507.0,129.8 L507.4,129.9 L507.7,130.1 L508.1,130.3 L508.5,130.4 L508.8,130.6 L509.2,130.8 L509.5,131.0 L509.9,131.2 L510.3,131.3 L510.6,131.5 L511.0,131.7 L511.3,131.9 L511.7,132.0 L512.1,132.2 L512.4,132.4 L512.8,132.6 L513.1,132.8 L513.5,133.0 L513.8,133.1 L514.2,133.3 L514.6,133.5 L514.9,133.7 L515.3,133.9 L515.6,134.1 L516.0,134.2 L516.3,134.4 L516.7,134.6 L517.1,134.8 L517.4,135.0 L517.8,135.2 L518.1,135.4 L518.5,135.6 L518.8,135.8 L519.2,135.9 L519.5,136.1 L519.9,136.3 L520.2,136.5 L520.6,136.7 L520.9,136.9 L521.3,137.1 L521.6,137.3 L522.0,137.5 L522.3,137.7 L522.7,137.9 L523.1,138.1 L523.4,138.3 L523.8,138.5 L524.1,138.7 L524.5,138.9 L524.8,139.1 L525.2,139.3 L525.5,139.5 L525.9,139.7 L526.2,139.9 L526.5,140.1 L526.9,140.3 L527.2,140.5 L527.6,140.7 L527.9,140.9 L528.3,141.1 L528.6,141.3 L529.0,141.5 L529.3,141.7 L529.7,141.9 L530.0,142.1 L530.4,142.3 L530.7,142.5 L531.1,142.7 L531.4,142.9 L531.7,143.1 L532.1,143.3 L532.4,143.5 L532.8,143.7 L533.1,143.9 L533.5,144.1 L533.8,144.4 L534.2,144.6 L534.5,144.8 L534.8,145.0 L535.2,145.2 L535.5,145.4 L535.9,145.6 L536.2,145.8 L536.6,146.0 L536.9,146.3 L537.2,146.5 L537.6,146.7 L537.9,146.9 L538.3,147.1 L538.6,147.3 L538.9,147.5 L539.3,147.8 L539.6,148.0 L539.9,148.2 L540.3,148.4 L540.6,148.6 L541.0,148.9 L541.3,149.1 L541.6,149.3 L542.0,149.5 L542.3,149.7 L542.6,150.0 L543.0,150.2 L543.3,150.4 L543.6,150.6 L544.0,150.9 L544.3,151.1 L544.7,151.3 L545.0,151.5 L545.3,151.8 L545.7,152.0 L546.0,152.2 L546.3,152.5 L546.6,152.7 L547.0,152.9 L547.3,153.1 L547.6,153.4 L548.0,153.6 L548.3,153.8 L548.6,154.1 L549.0,154.3 L549.3,154.5 L549.6,154.8 L549.9,155.0 L550.3,155.2 L550.6,155.5 L550.9,155.7 L551.2,156.0 L551.6,156.2 L551.9,156.4 L552.2,156.7 L552.6,156.9 L552.9,157.2 L553.2,157.4 L553.5,157.6 L553.8,157.9 L554.2,158.1 L554.5,158.4 L554.8,158.6 L555.1,158.9 L555.5,159.1 L555.8,159.3 L556.1,159.6 L556.4,159.8 L556.7,160.1 L557.1,160.3 L557.4,160.6 L557.7,160.8 L558.0,161.1 L558.3,161.3 L558.6,161.6 L559.0,161.9 L559.3,162.1 L559.6,162.4 L559.9,162.6 L560.2,162.9 L560.5,163.1 L560.8,163.4 L561.2,163.6 L561.5,163.9 L561.8,164.2 L562.1,164.4 L562.4,164.7 L562.7,164.9 L563.0,165.2 L563.3,165.5 L563.6,165.7 L563.9,166.0 L564.3,166.3 L564.6,166.5 L564.9,166.8 L565.2,167.1 L565.5,167.3 L565.8,167.6 L566.1,167.9 L566.4,168.2 L566.7,168.4 L567.0,168.7 L567.3,169.0 L567.6,169.3 L567.9,169.5 L568.2,169.8 L568.5,170.1 L568.8,170.4 L569.1,170.7 L569.4,170.9 L569.6,171.2 L569.9,171.5 L570.2,171.8 L570.5,172.1 L570.8,172.4 L571.1,172.6 L571.4,172.9 L571.7,173.2 L571.9,173.5 L572.2,173.8 L572.5,174.1 L572.8,174.4 L573.1,174.7 L573.3,175.0 L573.6,175.3 L573.9,175.6 L574.2,175.9 L574.4,176.2 L574.7,176.5 L575.0,176.8 L575.2,177.1 L575.5,177.4 L575.8,177.7 L576.0,178.0 L576.3,178.3 L576.5,178.6 L576.8,178.9 L577.1,179.2 L577.3,179.5 L577.6,179.9 L577.8,180.2 L578.1,180.5 L578.3,180.8 L578.6,181.1 L578.8,181.4 L579.0,181.8 L579.3,182.1 L579.5,182.4 L579.8,182.7 L580.0,183.1 L580.2,183.4 L580.4,183.7 L580.7,184.0 L580.9,184.4 L581.1,184.7 L581.3,185.0 L581.6,185.4 L581.8,185.7 L582.0,186.1 L582.2,186.4 L582.4,186.7 L582.6,187.1 L582.8,187.4 L583.0,187.8 L583.2,188.1 L583.4,188.5 L583.6,188.8 L583.8,189.2 L584.0,189.5 L584.2,189.9 L584.4,190.2 L584.6,190.6 L584.8,190.9 L585.0,191.3 L585.1,191.6 L585.3,192.0 L585.5,192.4 L585.7,192.7 L585.8,193.1 L586.0,193.5 L586.1,193.8 L586.3,194.2 L586.5,194.6 L586.6,194.9 L586.8,195.3 L586.9,195.7 L587.1,196.1 L587.2,196.4 L587.3,196.8 L587.5,197.2 L587.6,197.6 L587.7,198.0 L587.9,198.4 L588.0,198.7 L588.1,199.1 L588.2,199.5 L588.4,199.9 L588.5,200.3 L588.6,200.7 L588.7,201.1 L588.8,201.5 L588.9,201.9 L589.0,202.3 L589.1,202.7 L589.2,203.1 L589.3,203.5 L589.4,203.9 L589.4,204.3 L589.5,204.7 L589.6,205.1 L589.7,205.5 L589.7,205.9 L589.8,206.3 L589.8,206.7 L589.8,207.2 L589.8,207.6 L589.8,208.0 L589.7,208.4 L589.7,208.8 L589.7,209.3 L589.7,209.7 L589.6,210.1 L589.6,210.5 L589.6,211.0 L589.5,211.4 L589.5,211.8 L589.4,212.2 L589.4,212.6 L589.3,213.1 L589.2,213.5 L589.2,213.9 L589.1,214.3 L589.0,214.8 L589.0,215.2 L588.9,215.6 L588.8,216.0" fill="none" stroke="#e377c2" stroke-width="0.8" opacity="0.45"/>
<g fill="none" stroke="#7f7f7f" stroke-width="0.7" opacity="0.45"><circle cx="396.5" cy="89.1" r="2.15"/><circle cx="404.1" cy="91.8" r="2.15"/><circle cx="411.8" cy="94.2" r="2.15"/><circle cx="419.9" cy="97.2" r="2.15"/><circle cx="427.5" cy="97.9" r="2.15"/><circle cx="435.7" cy="100.0" r="2.15"/><circle cx="443.1" cy="100.9" r="2.15"/><circle cx="450.5" cy="103.5" r="2.15"/><circle cx="457.1" cy="104.7" r="2.15"/><circle cx="464.0" cy="106.2" r="2.15"/><circle cx="471.1" cy="108.7" r="2.15"/><circle cx="478.2" cy="111.1" r="2.15"/><circle cx="485.6" cy="113.1" r="2.15"/><circle cx="490.7" cy="115.3" r="2.15"/><circle cx="498.2" cy="118.1" r="2.15"/><circle cx="503.5" cy="120.3" r="2.15"/><circle cx="509.7" cy="122.8" r="2.15"/><circle cx="516.3" cy="125.5" r="2.15"/><circle cx="521.2" cy="129.1" r="2.15"/><circle cx="526.1" cy="131.4" r="2.15"/><circle cx="531.4" cy="134.3" r="2.15"/><circle cx="535.5" cy="137.2" r="2.15"/><circle cx="541.3" cy="139.2" r="2.15"/><circle cx="545.4" cy="142.9" r="2.15"/><circle cx="548.8" cy="146.7" r="2.15"/><circle cx="553.4" cy="147.9" r="2.15"/><circle cx="556.8" cy="151.6" r="2.15"/><circle cx="560.2" cy="154.5" r="2.15"/><circle cx="563.6" cy="157.2" r="2.15"/><circle cx="567.5" cy="159.3" r="2.15"/><circle cx="569.9" cy="162.0" r="2.15"/><circle cx="572.6" cy="164.3" r="2.15"/><circle cx="574.9" cy="167.4" r="2.15"/><circle cx="578.1" cy="170.6" r="2.15"/><circle cx="579.3" cy="172.2" r="2.15"/><circle cx="582.4" cy="174.0" r="2.15"/><circle cx="583.9" cy="177.4" r="2.15"/><circle cx="586.5" cy="180.2" r="2.15"/><circle cx="587.4" cy="182.0" r="2.15"/><circle cx="589.0" cy="185.2" r="2.15"/><circle cx="590.2" cy="186.6" r="2.15"/><circle cx="591.9" cy="188.9" r="2.15"/><circle cx="592.7" cy="190.6" r="2.15"/><circle cx="593.7" cy="193.0" r="2.15"/><circle cx="595.2" cy="195.6" r="2.15"/><circle cx="595.4" cy="197.7" r="2.15"/><circle cx="595.9" cy="199.8" r="2.15"/><circle cx="596.6" cy="201.5" r="2.15"/><circle cx="596.4" cy="203.3" r="2.15"/><circle cx="596.6" cy="204.0" r="2.15"/><circle cx="597.7" cy="206.4" r="2.15"/><circle cx="598.1" cy="209.7" r="2.15"/><circle cx="597.8" cy="210.1" r="2.15"/><circle cx="598.5" cy="212.4" r="2.15"/><circle cx="598.4" cy="213.8" r="2.15"/><circle cx="598.9" cy="215.9" r="2.15"/><circle cx="598.5" cy="216.6" r="2.15"/><circle cx="598.0" cy="213.1" r="2.15"/><circle cx="598.5" cy="216.9" r="2.15"/><circle cx="598.6" cy="215.1" r="2.15"/><circle cx="599.0" cy="213.2" r="2.15"/><circle cx="598.6" cy="216.8" r="2.15"/><circle cx="598.4" cy="216.5" r="2.15"/><circle cx="597.9" cy="214.0" r="2.15"/></g>
<path d="M396.5,88.9 L396.9,89.1 L397.2,89.2 L397.6,89.4 L398.0,89.5 L398.3,89.7 L398.7,89.8 L399.1,90.0 L399.5,90.1 L399.9,90.3 L400.2,90.4 L400.6,90.5 L401.0,90.7 L401.4,90.8 L401.8,90.9 L402.1,91.1 L402.5,91.2 L402.9,91.3 L403.3,91.4 L403.7,91.6 L404.1,91.7 L404.5,91.8 L404.9,91.9 L405.2,92.0 L405.6,92.1 L406.0,92.2 L406.4,92.3 L406.8,92.4 L407.2,92.5 L407.6,92.6 L408.0,92.7 L408.4,92.8 L408.8,92.9 L409.2,93.0 L409.6,93.1 L410.0,93.2 L410.4,93.3 L410.8,93.4 L411.2,93.5 L411.6,93.6 L412.0,93.7 L412.4,93.7 L412.8,93.8 L413.2,93.9 L413.6,94.0 L414.0,94.1 L414.4,94.1 L414.8,94.2 L415.2,94.3 L415.6,94.4 L416.0,94.4 L416.4,94.5 L416.8,94.6 L417.3,94.7 L417.7,94.7 L418.1,94.8 L418.5,94.9 L418.9,94.9 L419.3,95.0 L419.7,95.1 L420.1,95.1 L420.5,95.2 L421.0,95.3 L421.4,95.3 L421.8,95.4 L422.2,95.5 L422.6,95.5 L423.0,95.6 L423.5,95.6 L423.9,95.7 L424.3,95.8 L424.7,95.8 L425.1,95.9 L425.5,96.0 L426.0,96.0 L426.4,96.1 L426.8,96.2 L427.2,96.3 L427.6,96.4 L428.0,96.4 L428.4,96.5 L428.9,96.6 L429.3,96.7 L429.7,96.8 L430.1,96.9 L430.5,96.9 L430.9,97.0 L431.4,97.1 L431.8,97.2 L432.2,97.3 L432.6,97.4 L433.0,97.4 L433.4,97.5 L433.9,97.6 L434.3,97.7 L434.7,97.8 L435.1,97.9 L435.5,98.0 L435.9,98.1 L436.4,98.1 L436.8,98.2 L437.2,98.3 L437.6,98.4 L438.0,98.5 L438.4,98.6 L438.9,98.7 L439.3,98.8 L439.7,98.8 L440.1,98.9 L440.5,99.0 L440.9,99.1 L441.4,99.2 L441.8,99.3 L442.2,99.4 L442.6,99.5 L443.0,99.6 L443.4,99.7 L443.9,99.8 L444.3,99.8 L444.7,99.9 L445.1,100.0 L445.5,100.1 L445.9,100.2 L446.4,100.3 L446.8,100.4 L447.2,100.5 L447.6,100.6 L448.0,100.7 L448.4,100.8 L448.9,100.9 L449.3,101.0 L449.7,101.1 L450.1,101.2 L450.5,101.3 L450.9,101.4 L451.4,101.5 L451.8,101.6 L452.2,101.7 L452.6,101.8 L453.0,101.9 L453.4,102.0 L453.9,102.1 L454.3,102.2 L454.7,102.3 L455.1,102.4 L455.5,102.5 L455.9,102.6 L456.3,102.7 L456.8,102.8 L457.2,102.9 L457.6,103.0 L458.0,103.1 L458.4,103.2 L458.8,103.3 L459.2,103.4 L459.7,103.5 L460.1,103.6 L460.5,103.7 L460.9,103.8 L461.3,104.0 L461.7,104.1 L462.1,104.2 L462.6,104.3 L463.0,104.4 L463.4,104.5 L463.8,104.6 L464.2,104.7 L464.6,104.8 L465.0,105.0 L465.5,105.1 L465.9,105.2 L466.3,105.3 L466.7,105.4 L467.1,105.5 L467.5,105.6 L467.9,105.8 L468.3,105.9 L468.7,106.0 L469.2,106.1 L469.6,106.2 L470.0,106.3 L470.4,106.5 L470.8,106.6 L471.2,106.7 L471.6,106.8 L472.0,106.9 L472.4,107.1 L472.9,107.2 L473.3,107.3 L473.7,107.4 L474.1,107.6 L474.5,107.7 L474.9,107.8 L475.3,107.9 L475.7,108.1 L476.1,108.2 L476.5,108.3 L476.9,108.5 L477.4,108.6 L477.8,108.7 L478.2,108.8 L478.6,109.0 L479.0,109.1 L479.4,109.2 L479.8,109.4 L480.2,109.5 L480.6,109.6 L481.0,109.8 L481.4,109.9 L481.8,110.0 L482.2,110.2 L482.6,110.3 L483.0,110.4 L483.4,110.6 L483.9,110.7 L484.3,110.9 L484.7,111.0 L485.1,111.1 L485.5,111.3 L485.9,111.4 L486.3,111.6 L486.7,111.7 L487.1,111.8 L487.5,112.0 L487.9,112.1 L488.3,112.3 L488.7,112.4 L489.1,112.6 L489.5,112.7 L489.9,112.9 L490.3,113.0 L490.7,113.2 L491.1,113.3 L491.5,113.4 L491.9,113.6 L492.3,113.7 L492.7,113.9 L493.1,114.1 L493.5,114.2 L493.9,114.4 L494.3,114.5 L494.7,114.7 L495.1,114.8 L495.5,115.0 L495.9,115.1 L496.3,115.3 L496.7,115.4 L497.1,115.6 L497.5,115.8 L497.9,115.9 L498.3,116.1 L498.7,116.2 L499.0,116.4 L499.4,116.6 L499.8,116.7 L500.2,116.9 L500.6,117.1 L501.0,117.2 L501.4,117.4 L501.8,117.5 L502.2,117.7 L502.6,117.9 L503.0,118.1 L503.4,118.2 L503.8,118.4 L504.2,118.6 L504.5,118.7 L504.9,118.9 L505.3,119.1 L505.7,119.2 L506.1,119.4 L506.5,119.6 L506.9,119.8 L507.3,119.9 L507.7,120.1 L508.1,120.3 L508.4,120.5 L508.8,120.6 L509.2,120.8 L509.6,121.0 L510.0,121.2 L510.4,121.3 L510.8,121.5 L511.2,121.7 L511.5,121.9 L511.9,122.1 L512.3,122.3 L512.7,122.4 L513.1,122.6 L513.5,122.8 L513.8,123.0 L514.2,123.2 L514.6,123.4 L515.0,123.5 L515.4,123.7 L515.8,123.9 L516.1,124.1 L516.5,124.3 L516.9,124.5 L517.3,124.7 L517.7,124.9 L518.0,125.1 L518.4,125.3 L518.8,125.4 L519.2,125.6 L519.6,125.8 L519.9,126.0 L520.3,126.2 L520.7,126.4 L521.1,126.6 L521.5,126.8 L521.8,127.0 L522.2,127.2 L522.6,127.4 L523.0,127.6 L523.3,127.8 L523.7,128.0 L524.1,128.2 L524.5,128.4 L524.8,128.6 L525.2,128.8 L525.6,129.0 L526.0,129.2 L526.3,129.4 L526.7,129.6 L527.1,129.8 L527.5,130.0 L527.8,130.3 L528.2,130.5 L528.6,130.7 L529.0,130.9 L529.3,131.1 L529.7,131.3 L530.1,131.5 L530.4,131.7 L530.8,131.9 L531.2,132.1 L531.5,132.4 L531.9,132.6 L532.3,132.8 L532.7,133.0 L533.0,133.2 L533.4,133.4 L533.8,133.6 L534.1,133.9 L534.5,134.1 L534.9,134.3 L535.2,134.5 L535.6,134.7 L536.0,135.0 L536.3,135.2 L536.7,135.4 L537.1,135.6 L537.4,135.8 L537.8,136.1 L538.1,136.3 L538.5,136.5 L538.9,136.7 L539.2,137.0 L539.6,137.2 L540.0,137.4 L540.3,137.6 L540.7,137.9 L541.0,138.1 L541.4,138.3 L541.8,138.6 L542.1,138.8 L542.5,139.0 L542.8,139.3 L543.2,139.5 L543.5,139.7 L543.9,140.0 L544.3,140.2 L544.6,140.4 L545.0,140.7 L545.3,140.9 L545.7,141.1 L546.0,141.4 L546.4,141.6 L546.8,141.9 L547.1,142.1 L547.5,142.3 L547.8,142.6 L548.2,142.8 L548.5,143.1 L548.9,143.3 L549.2,143.6 L549.6,143.8 L549.9,144.0 L550.3,144.3 L550.6,144.5 L551.0,144.8 L551.3,145.0 L551.7,145.3 L552.0,145.5 L552.4,145.8 L552.7,146.0 L553.1,146.3 L553.4,146.5 L553.7,146.8 L554.1,147.0 L554.4,147.3 L554.8,147.6 L555.1,147.8 L555.5,148.1 L555.8,148.3 L556.1,148.6 L556.5,148.8 L556.8,149.1 L557.2,149.4 L557.5,149.6 L557.8,149.9 L558.2,150.2 L558.5,150.4 L558.9,150.7 L559.2,150.9 L559.5,151.2 L559.9,151.5 L560.2,151.7 L560.5,152.0 L560.9,152.3 L561.2,152.5 L561.5,152.8 L561.9,153.1 L562.2,153.4 L562.5,153.6 L562.9,153.9 L563.2,154.2 L563.5,154.4 L563.9,154.7 L564.2,155.0 L564.5,155.3 L564.9,155.6 L565.2,155.8 L565.5,156.1 L565.8,156.4 L566.2,156.7 L566.5,156.9 L566.8,157.2 L567.1,157.5 L567.5,157.8 L567.8,158.1 L568.1,158.4 L568.4,158.7 L568.8,158.9 L569.1,159.2 L569.4,159.5 L569.7,159.8 L570.0,160.1 L570.4,160.4 L570.7,160.7 L571.0,161.0 L571.3,161.3 L571.6,161.5 L571.9,161.8 L572.3,162.1 L572.6,162.4 L572.9,162.7 L573.2,163.0 L573.5,163.3 L573.8,163.6 L574.1,163.9 L574.4,164.2 L574.8,164.5 L575.1,164.8 L575.4,165.1 L575.7,165.4 L576.0,165.7 L576.3,166.0 L576.6,166.4 L576.9,166.7 L577.2,167.0 L577.5,167.3 L577.8,167.6 L578.1,167.9 L578.4,168.2 L578.7,168.5 L579.0,168.8 L579.3,169.2 L579.6,169.5 L579.9,169.8 L580.2,170.1 L580.5,170.4 L580.8,170.8 L581.1,171.1 L581.4,171.4 L581.6,171.7 L581.9,172.0 L582.2,172.4 L582.5,172.7 L582.8,173.0 L583.1,173.4 L583.3,173.7 L583.6,174.0 L583.9,174.3 L584.2,174.7 L584.4,175.0 L584.7,175.4 L585.0,175.7 L585.3,176.0 L585.5,176.4 L585.8,176.7 L586.1,177.0 L586.3,177.4 L586.6,177.7 L586.8,178.1 L587.1,178.4 L587.4,178.8 L587.6,179.1 L587.9,179.5 L588.1,179.8 L588.4,180.2 L588.6,180.5 L588.9,180.9 L589.1,181.2 L589.3,181.6 L589.6,182.0 L589.8,182.3 L590.1,182.7 L590.3,183.0 L590.5,183.4 L590.7,183.8 L591.0,184.1 L591.2,184.5 L591.4,184.9 L591.6,185.2 L591.9,185.6 L592.1,186.0 L592.3,186.4 L592.5,186.7 L592.7,187.1 L592.9,187.5 L593.1,187.9 L593.3,188.2 L593.5,188.6 L593.7,189.0 L593.9,189.4 L594.1,189.8 L594.3,190.2 L594.5,190.6 L594.7,190.9 L594.9,191.3 L595.1,191.7 L595.2,192.1 L595.4,192.5 L595.6,192.9 L595.7,193.3 L595.9,193.7 L596.1,194.1 L596.2,194.5 L596.4,194.9 L596.6,195.3 L596.7,195.7 L596.9,196.2 L597.0,196.6 L597.2,197.0 L597.3,197.4 L597.4,197.8 L597.6,198.2 L597.7,198.6 L597.8,199.1 L598.0,199.5 L598.1,199.9 L598.2,200.3 L598.3,200.8 L598.4,201.2 L598.6,201.6 L598.7,202.0 L598.8,202.5 L598.9,202.9 L599.0,203.3 L599.1,203.8 L599.2,204.2 L599.2,204.7 L599.3,205.1 L599.4,205.5 L599.5,206.0 L599.5,206.4 L599.5,206.9 L599.5,207.3 L599.5,207.8 L599.5,208.3 L599.5,208.7 L599.4,209.2 L599.4,209.7 L599.4,210.1 L599.3,210.6 L599.3,211.0 L599.3,211.5 L599.2,212.0 L599.2,212.4 L599.1,212.9 L599.0,213.4 L599.0,213.8 L598.9,214.3 L598.8,214.7 L598.8,215.2 L598.7,215.7 L598.6,216.1 L598.5,216.6" fill="none" stroke="#7f7f7f" stroke-width="0.8" opacity="0.45"/>
<g fill="none" stroke="#bcbd22" stroke-width="0.7" opacity="0.55"><circle cx="395.6" cy="57.0" r="2.15"/><circle cx="406.3" cy="61.2" r="2.15"/><circle cx="416.1" cy="64.6" r="2.15"/><circle cx="427.0" cy="68.3" r="2.15"/><circle cx="437.9" cy="71.6" r="2.15"/><circle cx="447.6" cy="73.9" r="2.15"/><circle cx="457.3" cy="77.6" r="2.15"/><circle cx="465.9" cy="80.3" r="2.15"/><circle cx="475.3" cy="83.8" r="2.15"/><circle cx="483.7" cy="86.3" r="2.15"/><circle cx="492.7" cy="90.1" r="2.15"/><circle cx="499.9" cy="93.8" r="2.15"/><circle cx="508.4" cy="97.4" r="2.15"/><circle cx="515.9" cy="101.5" r="2.15"/><circle cx="522.2" cy="106.2" r="2.15"/><circle cx="529.5" cy="108.3" r="2.15"/><circle cx="536.4" cy="114.1" r="2.15"/><circle cx="542.4" cy="118.2" r="2.15"/><circle cx="549.4" cy="120.9" r="2.15"/><circle cx="553.0" cy="124.6" r="2.15"/><circle cx="560.3" cy="128.6" r="2.15"/><circle cx="564.1" cy="132.1" r="2.15"/><circle cx="569.7" cy="136.5" r="2.15"/><circle cx="574.8" cy="140.6" r="2.15"/><circle cx="578.4" cy="143.6" r="2.15"/><circle cx="582.4" cy="147.2" r="2.15"/><circle cx="586.4" cy="150.0" r="2.15"/><circle cx="591.9" cy="153.9" r="2.15"/><circle cx="594.9" cy="158.3" r="2.15"/><circle cx="598.6" cy="159.9" r="2.15"/><circle cx="601.7" cy="162.4" r="2.15"/><circle cx="605.6" cy="165.4" r="2.15"/><circle cx="609.2" cy="168.1" r="2.15"/><circle cx="611.1" cy="170.7" r="2.15"/><circle cx="614.4" cy="173.7" r="2.15"/><circle cx="617.4" cy="176.1" r="2.15"/><circle cx="619.1" cy="180.1" r="2.15"/><circle cx="620.9" cy="182.2" r="2.15"/><circle cx="623.5" cy="185.1" r="2.15"/><circle cx="623.9" cy="186.6" r="2.15"/><circle cx="626.7" cy="190.7" r="2.15"/><circle cx="627.2" cy="193.0" r="2.15"/><circle cx="628.4" cy="196.2" r="2.15"/><circle cx="628.3" cy="198.2" r="2.15"/><circle cx="629.1" cy="201.0" r="2.15"/><circle cx="629.2" cy="203.0" r="2.15"/><circle cx="629.5" cy="206.4" r="2.15"/><circle cx="629.3" cy="208.9" r="2.15"/><circle cx="630.4" cy="211.2" r="2.15"/><circle cx="629.9" cy="213.5" r="2.15"/><circle cx="630.6" cy="215.5" r="2.15"/><circle cx="630.1" cy="216.6" r="2.15"/><circle cx="630.0" cy="214.0" r="2.15"/><circle cx="630.2" cy="215.5" r="2.15"/><circle cx="629.6" cy="217.7" r="2.15"/><circle cx="630.2" cy="213.5" r="2.15"/><circle cx="629.7" cy="214.9" r="2.15"/><circle cx="630.4" cy="216.9" r="2.15"/><circle cx="630.5" cy="216.9" r="2.15"/></g>
<path d="M396.5,57.6 L397.0,57.8 L397.4,57.9 L397.9,58.1 L398.4,58.2 L398.8,58.4 L399.3,58.5 L399.8,58.6 L400.3,58.8 L400.7,58.9 L401.2,59.1 L401.7,59.2 L402.1,59.3 L402.6,59.5 L403.1,59.6 L403.6,59.8 L404.0,59.9 L404.5,60.0 L405.0,60.2 L405.4,60.3 L405.9,60.5 L406.4,60.6 L406.9,60.7 L407.3,60.9 L407.8,61.0 L408.3,61.1 L408.8,61.3 L409.2,61.4 L409.7,61.5 L410.2,61.7 L410.7,61.8 L411.1,61.9 L411.6,62.0 L412.1,62.2 L412.6,62.3 L413.0,62.4 L413.5,62.6 L414.0,62.7 L414.5,62.8 L414.9,62.9 L415.4,63.1 L415.9,63.2 L416.4,63.3 L416.8,63.5 L417.3,63.6 L417.8,63.7 L418.3,63.8 L418.8,64.0 L419.2,64.1 L419.7,64.2 L420.2,64.3 L420.7,64.5 L421.1,64.6 L421.6,64.7 L422.1,64.8 L422.6,64.9 L423.1,65.1 L423.5,65.2 L424.0,65.3 L424.5,65.4 L425.0,65.6 L425.4,65.7 L425.9,65.8 L426.4,65.9 L426.9,66.0 L427.4,66.2 L427.8,66.3 L428.3,66.4 L428.8,66.5 L429.3,66.6 L429.8,66.8 L430.2,66.9 L430.7,67.0 L431.2,67.1 L431.7,67.3 L432.1,67.4 L432.6,67.6 L433.1,67.7 L433.6,67.9 L434.0,68.0 L434.5,68.1 L435.0,68.3 L435.4,68.4 L435.9,68.6 L436.4,68.7 L436.9,68.9 L437.3,69.0 L437.8,69.1 L438.3,69.3 L438.8,69.4 L439.2,69.6 L439.7,69.7 L440.2,69.9 L440.7,70.0 L441.1,70.1 L441.6,70.3 L442.1,70.4 L442.5,70.6 L443.0,70.7 L443.5,70.9 L444.0,71.0 L444.4,71.2 L444.9,71.3 L445.4,71.4 L445.9,71.6 L446.3,71.7 L446.8,71.9 L447.3,72.0 L447.8,72.2 L448.2,72.3 L448.7,72.5 L449.2,72.6 L449.7,72.8 L450.1,72.9 L450.6,73.0 L451.1,73.2 L451.5,73.3 L452.0,73.5 L452.5,73.6 L453.0,73.8 L453.4,73.9 L453.9,74.1 L454.4,74.2 L454.9,74.4 L455.3,74.5 L455.8,74.7 L456.3,74.8 L456.7,75.0 L457.2,75.1 L457.7,75.3 L458.2,75.4 L458.6,75.6 L459.1,75.7 L459.6,75.9 L460.0,76.0 L460.5,76.2 L461.0,76.3 L461.5,76.5 L461.9,76.6 L462.4,76.8 L462.9,76.9 L463.3,77.1 L463.8,77.3 L464.3,77.4 L464.8,77.6 L465.2,77.7 L465.7,77.9 L466.2,78.0 L466.6,78.2 L467.1,78.4 L467.6,78.5 L468.1,78.7 L468.5,78.8 L469.0,79.0 L469.5,79.2 L469.9,79.3 L470.4,79.5 L470.9,79.6 L471.3,79.8 L471.8,80.0 L472.3,80.1 L472.7,80.3 L473.2,80.5 L473.7,80.6 L474.1,80.8 L474.6,81.0 L475.1,81.1 L475.5,81.3 L476.0,81.5 L476.5,81.6 L476.9,81.8 L477.4,82.0 L477.9,82.2 L478.3,82.3 L478.8,82.5 L479.3,82.7 L479.7,82.8 L480.2,83.0 L480.7,83.2 L481.1,83.4 L481.6,83.6 L482.1,83.7 L482.5,83.9 L483.0,84.1 L483.4,84.3 L483.9,84.5 L484.4,84.6 L484.8,84.8 L485.3,85.0 L485.8,85.2 L486.2,85.4 L486.7,85.6 L487.1,85.7 L487.6,85.9 L488.1,86.1 L488.5,86.3 L489.0,86.5 L489.4,86.7 L489.9,86.9 L490.3,87.1 L490.8,87.3 L491.3,87.5 L491.7,87.6 L492.2,87.8 L492.6,88.0 L493.1,88.2 L493.6,88.4 L494.0,88.6 L494.5,88.8 L494.9,89.0 L495.4,89.2 L495.8,89.4 L496.3,89.6 L496.7,89.8 L497.2,90.1 L497.6,90.3 L498.1,90.5 L498.5,90.7 L499.0,90.9 L499.4,91.1 L499.9,91.3 L500.4,91.5 L500.8,91.7 L501.3,91.9 L501.7,92.1 L502.2,92.4 L502.6,92.6 L503.0,92.8 L503.5,93.0 L503.9,93.2 L504.4,93.4 L504.8,93.7 L505.3,93.9 L505.7,94.1 L506.2,94.3 L506.6,94.5 L507.1,94.8 L507.5,95.0 L508.0,95.2 L508.4,95.4 L508.9,95.6 L509.3,95.9 L509.7,96.1 L510.2,96.3 L510.6,96.6 L511.1,96.8 L511.5,97.0 L512.0,97.2 L512.4,97.5 L512.8,97.7 L513.3,97.9 L513.7,98.2 L514.2,98.4 L514.6,98.6 L515.0,98.9 L515.5,99.1 L515.9,99.3 L516.4,99.6 L516.8,99.8 L517.2,100.0 L517.7,100.3 L518.1,100.5 L518.5,100.8 L519.0,101.0 L519.4,101.2 L519.9,101.5 L520.3,101.7 L520.7,102.0 L521.2,102.2 L521.6,102.5 L522.0,102.7 L522.5,102.9 L522.9,103.2 L523.3,103.4 L523.8,103.7 L524.2,103.9 L524.6,104.2 L525.1,104.4 L525.5,104.7 L525.9,104.9 L526.3,105.2 L526.8,105.4 L527.2,105.7 L527.6,105.9 L528.1,106.2 L528.5,106.4 L528.9,106.7 L529.4,107.0 L529.8,107.2 L530.2,107.5 L530.6,107.7 L531.1,108.0 L531.5,108.2 L531.9,108.5 L532.3,108.8 L532.8,109.0 L533.2,109.3 L533.6,109.5 L534.0,109.8 L534.5,110.1 L534.9,110.3 L535.3,110.6 L535.7,110.8 L536.2,111.1 L536.6,111.4 L537.0,111.6 L537.4,111.9 L537.8,112.2 L538.3,112.4 L538.7,112.7 L539.1,113.0 L539.5,113.2 L539.9,113.5 L540.4,113.8 L540.8,114.0 L541.2,114.3 L541.6,114.6 L542.0,114.8 L542.5,115.1 L542.9,115.4 L543.3,115.6 L543.7,115.9 L544.1,116.2 L544.5,116.5 L545.0,116.7 L545.4,117.0 L545.8,117.3 L546.2,117.6 L546.6,117.8 L547.0,118.1 L547.4,118.4 L547.8,118.7 L548.3,118.9 L548.7,119.2 L549.1,119.5 L549.5,119.8 L549.9,120.0 L550.3,120.3 L550.7,120.6 L551.1,120.9 L551.6,121.2 L552.0,121.4 L552.4,121.7 L552.8,122.0 L553.2,122.3 L553.6,122.6 L554.0,122.8 L554.4,123.1 L554.8,123.4 L555.2,123.7 L555.6,124.0 L556.0,124.3 L556.4,124.5 L556.8,124.8 L557.3,125.1 L557.7,125.4 L558.1,125.7 L558.5,126.0 L558.9,126.2 L559.3,126.5 L559.7,126.8 L560.1,127.1 L560.5,127.4 L560.9,127.7 L561.3,128.0 L561.7,128.3 L562.1,128.6 L562.5,128.8 L562.9,129.1 L563.3,129.4 L563.7,129.7 L564.1,130.0 L564.5,130.3 L564.9,130.6 L565.3,130.9 L565.7,131.2 L566.1,131.5 L566.5,131.8 L566.9,132.1 L567.3,132.4 L567.7,132.7 L568.1,133.0 L568.5,133.3 L568.9,133.6 L569.2,133.9 L569.6,134.1 L570.0,134.4 L570.4,134.7 L570.8,135.1 L571.2,135.4 L571.6,135.7 L572.0,136.0 L572.4,136.3 L572.8,136.6 L573.2,136.9 L573.6,137.2 L573.9,137.5 L574.3,137.8 L574.7,138.1 L575.1,138.4 L575.5,138.7 L575.9,139.0 L576.3,139.3 L576.7,139.6 L577.0,139.9 L577.4,140.3 L577.8,140.6 L578.2,140.9 L578.6,141.2 L579.0,141.5 L579.4,141.8 L579.7,142.1 L580.1,142.5 L580.5,142.8 L580.9,143.1 L581.3,143.4 L581.6,143.7 L582.0,144.0 L582.4,144.4 L582.8,144.7 L583.2,145.0 L583.5,145.3 L583.9,145.6 L584.3,145.9 L584.7,146.3 L585.1,146.6 L585.4,146.9 L585.8,147.2 L586.2,147.5 L586.6,147.9 L586.9,148.2 L587.3,148.5 L587.7,148.8 L588.1,149.2 L588.5,149.5 L588.8,149.8 L589.2,150.1 L589.6,150.4 L590.0,150.8 L590.3,151.1 L590.7,151.4 L591.1,151.7 L591.5,152.0 L591.9,152.4 L592.2,152.7 L592.6,153.0 L593.0,153.3 L593.4,153.6 L593.7,154.0 L594.1,154.3 L594.5,154.6 L594.9,154.9 L595.3,155.2 L595.6,155.5 L596.0,155.9 L596.4,156.2 L596.8,156.5 L597.2,156.8 L597.5,157.1 L597.9,157.4 L598.3,157.8 L598.7,158.1 L599.1,158.4 L599.5,158.7 L599.8,159.0 L600.2,159.3 L600.6,159.6 L601.0,159.9 L601.4,160.3 L601.8,160.6 L602.2,160.9 L602.6,161.2 L603.0,161.5 L603.3,161.8 L603.7,162.1 L604.1,162.4 L604.5,162.7 L604.9,163.1 L605.3,163.4 L605.7,163.7 L606.1,164.0 L606.5,164.3 L606.9,164.7 L607.2,165.0 L607.6,165.3 L608.0,165.6 L608.4,165.9 L608.8,166.3 L609.2,166.6 L609.6,166.9 L609.9,167.3 L610.3,167.6 L610.7,167.9 L611.1,168.3 L611.5,168.6 L611.8,168.9 L612.2,169.3 L612.6,169.6 L612.9,170.0 L613.3,170.3 L613.7,170.7 L614.0,171.0 L614.4,171.4 L614.8,171.7 L615.1,172.1 L615.5,172.4 L615.8,172.8 L616.2,173.2 L616.5,173.5 L616.9,173.9 L617.2,174.3 L617.6,174.6 L617.9,175.0 L618.2,175.4 L618.6,175.8 L618.9,176.2 L619.2,176.6 L619.5,177.0 L619.8,177.3 L620.2,177.7 L620.5,178.1 L620.8,178.6 L621.1,179.0 L621.4,179.4 L621.7,179.8 L622.0,180.2 L622.2,180.6 L622.5,181.0 L622.8,181.5 L623.1,181.9 L623.4,182.3 L623.6,182.8 L623.9,183.2 L624.1,183.7 L624.4,184.1 L624.6,184.5 L624.9,185.0 L625.1,185.4 L625.4,185.9 L625.6,186.3 L625.8,186.8 L626.1,187.3 L626.3,187.7 L626.5,188.2 L626.7,188.7 L626.9,189.1 L627.1,189.6 L627.3,190.1 L627.5,190.6 L627.7,191.0 L627.9,191.5 L628.1,192.0 L628.2,192.5 L628.4,193.0 L628.6,193.4 L628.8,193.9 L628.9,194.4 L629.1,194.9 L629.2,195.4 L629.4,195.9 L629.5,196.4 L629.7,196.9 L629.8,197.4 L629.9,197.9 L630.1,198.4 L630.2,198.9 L630.3,199.4 L630.4,199.9 L630.5,200.4 L630.6,201.0 L630.8,201.5 L630.9,202.0 L630.9,202.5 L631.0,203.0 L631.1,203.5 L631.2,204.0 L631.3,204.6 L631.3,205.1 L631.3,205.6 L631.3,206.1 L631.2,206.7 L631.2,207.2 L631.2,207.7 L631.2,208.3 L631.1,208.8 L631.1,209.3 L631.0,209.8 L631.0,210.4 L630.9,210.9 L630.9,211.4 L630.8,211.9 L630.8,212.5 L630.7,213.0 L630.6,213.5 L630.6,214.0 L630.5,214.5 L630.4,215.1 L630.3,215.6 L630.2,216.1 L630.1,216.6" fill="none" stroke="#bcbd22" stroke-width="0.8" opacity="0.55"/>
<g fill="none" stroke="#17becf" stroke-width="0.7" opacity="0.6"><circle cx="396.2" cy="31.9" r="2.15"/><circle cx="408.6" cy="37.3" r="2.15"/><circle cx="422.5" cy="41.8" r="2.15"/><circle cx="434.2" cy="47.2" r="2.15"/><circle cx="445.5" cy="51.6" r="2.15"/><circle cx="456.1" cy="57.5" r="2.15"/><circle cx="468.3" cy="62.5" r="2.15"/><circle cx="479.6" cy="65.9" r="2.15"/><circle cx="489.4" cy="70.9" r="2.15"/><circle cx="499.5" cy="75.7" r="2.15"/><circle cx="509.2" cy="79.9" r="2.15"/><circle cx="517.7" cy="86.0" r="2.15"/><circle cx="527.0" cy="89.9" r="2.15"/><circle cx="535.7" cy="94.8" r="2.15"/><circle cx="543.5" cy="99.8" r="2.15"/><circle cx="550.8" cy="104.9" r="2.15"/><circle cx="556.7" cy="110.0" r="2.15"/><circle cx="563.8" cy="115.3" r="2.15"/><circle cx="571.1" cy="119.8" r="2.15"/><circle cx="577.5" cy="123.7" r="2.15"/><circle cx="583.6" cy="128.5" r="2.15"/><circle cx="589.4" cy="131.6" r="2.15"/><circle cx="594.7" cy="135.8" r="2.15"/><circle cx="600.3" cy="140.6" r="2.15"/><circle cx="605.2" cy="142.9" r="2.15"/><circle cx="610.6" cy="147.6" r="2.15"/><circle cx="615.2" cy="150.5" r="2.15"/><circle cx="619.2" cy="154.6" r="2.15"/><circle cx="624.1" cy="158.0" r="2.15"/><circle cx="627.2" cy="161.9" r="2.15"/><circle cx="630.8" cy="166.2" r="2.15"/><circle cx="633.0" cy="170.9" r="2.15"/><circle cx="636.6" cy="173.2" r="2.15"/><circle cx="638.5" cy="177.0" r="2.15"/><circle cx="641.2" cy="181.0" r="2.15"/><circle cx="643.1" cy="184.6" r="2.15"/><circle cx="644.0" cy="187.5" r="2.15"/><circle cx="645.7" cy="191.5" r="2.15"/><circle cx="647.6" cy="194.2" r="2.15"/><circle cx="648.3" cy="198.7" r="2.15"/><circle cx="649.6" cy="201.2" r="2.15"/><circle cx="650.0" cy="205.3" r="2.15"/><circle cx="649.9" cy="209.4" r="2.15"/><circle cx="649.8" cy="211.5" r="2.15"/><circle cx="650.6" cy="215.1" r="2.15"/><circle cx="650.3" cy="216.6" r="2.15"/><circle cx="650.2" cy="214.7" r="2.15"/><circle cx="651.0" cy="217.1" r="2.15"/><circle cx="650.8" cy="213.7" r="2.15"/><circle cx="649.7" cy="217.0" r="2.15"/><circle cx="649.8" cy="214.1" r="2.15"/><circle cx="650.3" cy="215.5" r="2.15"/><circle cx="650.2" cy="214.0" r="2.15"/></g>
<path d="M396.6,31.8 L397.1,32.0 L397.6,32.1 L398.2,32.3 L398.7,32.5 L399.2,32.7 L399.7,32.9 L400.2,33.0 L400.8,33.2 L401.3,33.4 L401.8,33.6 L402.3,33.8 L402.8,33.9 L403.4,34.1 L403.9,34.3 L404.4,34.5 L404.9,34.7 L405.4,34.8 L405.9,35.0 L406.5,35.2 L407.0,35.4 L407.5,35.6 L408.0,35.8 L408.5,35.9 L409.0,36.1 L409.6,36.3 L410.1,36.5 L410.6,36.7 L411.1,36.9 L411.6,37.0 L412.1,37.2 L412.6,37.4 L413.2,37.6 L413.7,37.8 L414.2,38.0 L414.7,38.2 L415.2,38.3 L415.7,38.5 L416.3,38.7 L416.8,38.9 L417.3,39.1 L417.8,39.3 L418.3,39.4 L418.8,39.6 L419.3,39.8 L419.8,40.0 L420.4,40.2 L420.9,40.4 L421.4,40.6 L421.9,40.8 L422.4,40.9 L422.9,41.1 L423.4,41.3 L424.0,41.5 L424.5,41.7 L425.0,41.9 L425.5,42.1 L426.0,42.2 L426.5,42.4 L427.0,42.6 L427.5,42.8 L428.1,43.0 L428.6,43.2 L429.1,43.4 L429.6,43.6 L430.1,43.7 L430.6,43.9 L431.1,44.1 L431.7,44.3 L432.2,44.5 L432.7,44.7 L433.2,44.9 L433.7,45.1 L434.2,45.3 L434.7,45.5 L435.2,45.7 L435.7,45.9 L436.2,46.1 L436.7,46.3 L437.2,46.5 L437.7,46.7 L438.2,47.0 L438.7,47.2 L439.2,47.4 L439.7,47.6 L440.2,47.8 L440.7,48.0 L441.2,48.2 L441.8,48.4 L442.3,48.6 L442.8,48.9 L443.3,49.1 L443.8,49.3 L444.3,49.5 L444.8,49.7 L445.3,49.9 L445.8,50.1 L446.3,50.3 L446.8,50.5 L447.3,50.7 L447.8,51.0 L448.3,51.2 L448.8,51.4 L449.3,51.6 L449.8,51.8 L450.3,52.0 L450.8,52.2 L451.3,52.4 L451.8,52.6 L452.3,52.8 L452.8,53.0 L453.3,53.2 L453.9,53.5 L454.4,53.7 L454.9,53.9 L455.4,54.1 L455.9,54.3 L456.4,54.5 L456.9,54.7 L457.4,54.9 L457.9,55.1 L458.4,55.3 L458.9,55.5 L459.4,55.7 L459.9,55.9 L460.4,56.1 L460.9,56.4 L461.4,56.6 L462.0,56.8 L462.5,57.0 L463.0,57.2 L463.5,57.4 L464.0,57.6 L464.5,57.8 L465.0,58.0 L465.5,58.2 L466.0,58.4 L466.5,58.6 L467.0,58.8 L467.6,59.0 L468.1,59.2 L468.6,59.4 L469.1,59.6 L469.6,59.9 L470.1,60.1 L470.6,60.3 L471.1,60.5 L471.6,60.7 L472.1,60.9 L472.6,61.1 L473.2,61.3 L473.7,61.5 L474.2,61.7 L474.7,61.9 L475.2,62.1 L475.7,62.3 L476.2,62.5 L476.7,62.8 L477.2,63.0 L477.7,63.2 L478.2,63.4 L478.8,63.6 L479.3,63.8 L479.8,64.0 L480.3,64.2 L480.8,64.4 L481.3,64.6 L481.8,64.9 L482.3,65.1 L482.8,65.3 L483.3,65.5 L483.8,65.7 L484.3,65.9 L484.9,66.1 L485.4,66.4 L485.9,66.6 L486.4,66.8 L486.9,67.0 L487.4,67.2 L487.9,67.5 L488.4,67.7 L488.9,67.9 L489.4,68.1 L489.9,68.3 L490.4,68.6 L490.9,68.8 L491.4,69.0 L491.9,69.2 L492.4,69.5 L492.9,69.7 L493.4,69.9 L493.9,70.1 L494.4,70.4 L494.9,70.6 L495.4,70.8 L495.9,71.1 L496.4,71.3 L496.9,71.5 L497.4,71.7 L497.9,72.0 L498.4,72.2 L498.9,72.5 L499.4,72.7 L499.9,72.9 L500.4,73.2 L500.9,73.4 L501.4,73.6 L501.9,73.9 L502.4,74.1 L502.9,74.4 L503.3,74.6 L503.8,74.9 L504.3,75.1 L504.8,75.4 L505.3,75.6 L505.8,75.9 L506.3,76.1 L506.8,76.4 L507.3,76.6 L507.7,76.9 L508.2,77.1 L508.7,77.4 L509.2,77.6 L509.7,77.9 L510.2,78.2 L510.6,78.4 L511.1,78.7 L511.6,78.9 L512.1,79.2 L512.6,79.5 L513.0,79.7 L513.5,80.0 L514.0,80.3 L514.5,80.5 L515.0,80.8 L515.4,81.1 L515.9,81.3 L516.4,81.6 L516.9,81.9 L517.3,82.1 L517.8,82.4 L518.3,82.7 L518.7,82.9 L519.2,83.2 L519.7,83.5 L520.2,83.8 L520.6,84.0 L521.1,84.3 L521.6,84.6 L522.0,84.9 L522.5,85.2 L523.0,85.4 L523.5,85.7 L523.9,86.0 L524.4,86.3 L524.9,86.6 L525.3,86.8 L525.8,87.1 L526.3,87.4 L526.7,87.7 L527.2,88.0 L527.6,88.3 L528.1,88.6 L528.6,88.8 L529.0,89.1 L529.5,89.4 L530.0,89.7 L530.4,90.0 L530.9,90.3 L531.4,90.6 L531.8,90.9 L532.3,91.2 L532.7,91.5 L533.2,91.7 L533.7,92.0 L534.1,92.3 L534.6,92.6 L535.0,92.9 L535.5,93.2 L535.9,93.5 L536.4,93.8 L536.9,94.1 L537.3,94.4 L537.8,94.7 L538.2,95.0 L538.7,95.3 L539.1,95.6 L539.6,95.9 L540.1,96.2 L540.5,96.5 L541.0,96.8 L541.4,97.1 L541.9,97.4 L542.3,97.7 L542.8,98.0 L543.2,98.3 L543.7,98.6 L544.2,98.9 L544.6,99.2 L545.1,99.5 L545.5,99.8 L546.0,100.1 L546.4,100.4 L546.9,100.7 L547.3,101.0 L547.8,101.4 L548.2,101.7 L548.7,102.0 L549.1,102.3 L549.6,102.6 L550.0,102.9 L550.5,103.2 L550.9,103.5 L551.4,103.8 L551.8,104.1 L552.3,104.4 L552.7,104.7 L553.2,105.0 L553.7,105.3 L554.1,105.7 L554.6,106.0 L555.0,106.3 L555.5,106.6 L555.9,106.9 L556.4,107.2 L556.8,107.5 L557.3,107.8 L557.7,108.1 L558.2,108.4 L558.6,108.7 L559.1,109.1 L559.5,109.4 L560.0,109.7 L560.4,110.0 L560.9,110.3 L561.3,110.6 L561.8,110.9 L562.2,111.2 L562.7,111.5 L563.1,111.9 L563.6,112.2 L564.0,112.5 L564.5,112.8 L564.9,113.1 L565.4,113.4 L565.8,113.7 L566.3,114.0 L566.7,114.3 L567.2,114.6 L567.6,115.0 L568.1,115.3 L568.5,115.6 L569.0,115.9 L569.4,116.2 L569.9,116.5 L570.3,116.8 L570.8,117.1 L571.2,117.4 L571.7,117.7 L572.1,118.1 L572.6,118.4 L573.0,118.7 L573.5,119.0 L573.9,119.3 L574.4,119.6 L574.8,119.9 L575.3,120.2 L575.7,120.5 L576.2,120.8 L576.6,121.1 L577.1,121.5 L577.5,121.8 L578.0,122.1 L578.5,122.4 L578.9,122.7 L579.4,123.0 L579.8,123.3 L580.3,123.6 L580.7,123.9 L581.2,124.2 L581.6,124.5 L582.1,124.8 L582.5,125.1 L583.0,125.4 L583.5,125.7 L583.9,126.0 L584.4,126.4 L584.8,126.7 L585.3,127.0 L585.7,127.3 L586.2,127.6 L586.7,127.9 L587.1,128.2 L587.6,128.5 L588.0,128.8 L588.5,129.1 L588.9,129.4 L589.4,129.7 L589.8,130.0 L590.3,130.3 L590.8,130.7 L591.2,131.0 L591.7,131.3 L592.1,131.6 L592.6,131.9 L593.0,132.2 L593.5,132.5 L593.9,132.8 L594.4,133.1 L594.8,133.4 L595.3,133.8 L595.8,134.1 L596.2,134.4 L596.7,134.7 L597.1,135.0 L597.6,135.3 L598.0,135.6 L598.5,135.9 L598.9,136.3 L599.4,136.6 L599.8,136.9 L600.3,137.2 L600.7,137.5 L601.2,137.9 L601.6,138.2 L602.1,138.5 L602.5,138.8 L603.0,139.1 L603.4,139.5 L603.8,139.8 L604.3,140.1 L604.7,140.4 L605.2,140.8 L605.6,141.1 L606.1,141.4 L606.5,141.7 L606.9,142.1 L607.4,142.4 L607.8,142.7 L608.3,143.1 L608.7,143.4 L609.1,143.7 L609.6,144.1 L610.0,144.4 L610.4,144.7 L610.9,145.1 L611.3,145.4 L611.7,145.8 L612.2,146.1 L612.6,146.4 L613.0,146.8 L613.4,147.1 L613.9,147.5 L614.3,147.8 L614.7,148.2 L615.1,148.5 L615.6,148.9 L616.0,149.2 L616.4,149.6 L616.8,149.9 L617.2,150.3 L617.7,150.6 L618.1,151.0 L618.5,151.4 L618.9,151.7 L619.3,152.1 L619.7,152.5 L620.1,152.8 L620.5,153.2 L621.0,153.6 L621.4,153.9 L621.8,154.3 L622.2,154.7 L622.6,155.1 L623.0,155.4 L623.4,155.8 L623.8,156.2 L624.2,156.6 L624.6,157.0 L625.0,157.3 L625.4,157.7 L625.7,158.1 L626.1,158.5 L626.5,158.9 L626.9,159.3 L627.3,159.7 L627.7,160.1 L628.1,160.5 L628.4,160.9 L628.8,161.3 L629.2,161.7 L629.6,162.1 L629.9,162.5 L630.3,162.9 L630.7,163.3 L631.0,163.7 L631.4,164.1 L631.8,164.5 L632.1,165.0 L632.5,165.4 L632.8,165.8 L633.2,166.2 L633.6,166.7 L633.9,167.1 L634.3,167.5 L634.6,167.9 L634.9,168.4 L635.3,168.8 L635.6,169.2 L636.0,169.7 L636.3,170.1 L636.6,170.5 L637.0,171.0 L637.3,171.4 L637.6,171.9 L637.9,172.3 L638.2,172.8 L638.6,173.2 L638.9,173.7 L639.2,174.1 L639.5,174.6 L639.8,175.0 L640.1,175.5 L640.4,176.0 L640.7,176.4 L641.0,176.9 L641.3,177.4 L641.6,177.8 L641.8,178.3 L642.1,178.8 L642.4,179.3 L642.7,179.7 L643.0,180.2 L643.2,180.7 L643.5,181.2 L643.8,181.7 L644.0,182.1 L644.3,182.6 L644.5,183.1 L644.8,183.6 L645.0,184.1 L645.3,184.6 L645.5,185.1 L645.7,185.6 L646.0,186.1 L646.2,186.6 L646.4,187.1 L646.6,187.6 L646.8,188.1 L647.1,188.6 L647.3,189.2 L647.5,189.7 L647.7,190.2 L647.9,190.7 L648.1,191.2 L648.2,191.7 L648.4,192.3 L648.6,192.8 L648.8,193.3 L649.0,193.9 L649.1,194.4 L649.3,194.9 L649.5,195.5 L649.6,196.0 L649.8,196.5 L649.9,197.1 L650.1,197.6 L650.2,198.2 L650.3,198.7 L650.5,199.3 L650.6,199.8 L650.7,200.4 L650.8,200.9 L650.9,201.5 L651.0,202.0 L651.1,202.6 L651.2,203.2 L651.3,203.7 L651.3,204.3 L651.3,204.9 L651.3,205.5 L651.3,206.1 L651.3,206.6 L651.3,207.2 L651.2,207.8 L651.2,208.4 L651.2,209.0 L651.2,209.6 L651.1,210.1 L651.1,210.7 L651.0,211.3 L651.0,211.9 L650.9,212.5 L650.8,213.1 L650.8,213.7 L650.7,214.2 L650.6,214.8 L650.5,215.4 L650.4,216.0 L650.3,216.6" fill="none" stroke="#17becf" stroke-width="0.8" opacity="0.6"/>
<rect x="37.0" y="19.5" width="276.5" height="206.0" fill="none" stroke="#888" stroke-width="1"/>
<path d="M52.8,225.5v-1.7M52.8,19.5v1.7M117.9,225.5v-1.7M117.9,19.5v1.7M183.0,225.5v-1.7M183.0,19.5v1.7M248.2,225.5v-1.7M248.2,19.5v1.7M313.3,225.5v-1.7M313.3,19.5v1.7M37.0,216.0h1.7M313.5,216.0h-1.7M37.0,171.3h1.7M313.5,171.3h-1.7M37.0,126.7h1.7M313.5,126.7h-1.7M37.0,82.0h1.7M313.5,82.0h-1.7M37.0,37.3h1.7M313.5,37.3h-1.7" stroke="#333" stroke-width="0.8"/>
<text x="52.8" y="236" text-anchor="middle" class="tk">0</text>
<text x="117.9" y="236" text-anchor="middle" class="tk">2</text>
<text x="183.0" y="236" text-anchor="middle" class="tk">4</text>
<text x="248.2" y="236" text-anchor="middle" class="tk">6</text>
<text x="313.3" y="236" text-anchor="middle" class="tk">8</text>
<text x="34.7" y="220.8" text-anchor="end" class="tk" textLength="18.5" lengthAdjust="spacingAndGlyphs">0.0</text>
<text x="34.7" y="176.1" text-anchor="end" class="tk" textLength="18.5" lengthAdjust="spacingAndGlyphs">0.5</text>
<text x="34.7" y="131.5" text-anchor="end" class="tk" textLength="18.5" lengthAdjust="spacingAndGlyphs">1.0</text>
<text x="34.7" y="86.8" text-anchor="end" class="tk" textLength="18.5" lengthAdjust="spacingAndGlyphs">1.5</text>
<text x="34.7" y="42.1" text-anchor="end" class="tk" textLength="18.5" lengthAdjust="spacingAndGlyphs">2.0</text>
<text x="175.2" y="250.3" text-anchor="middle" class="al">z/D</text>
<rect x="380.5" y="19.5" width="276.0" height="206.0" fill="none" stroke="#888" stroke-width="1"/>
<path d="M395.9,225.5v-1.7M395.9,19.5v1.7M461.0,225.5v-1.7M461.0,19.5v1.7M526.1,225.5v-1.7M526.1,19.5v1.7M591.3,225.5v-1.7M591.3,19.5v1.7M656.4,225.5v-1.7M656.4,19.5v1.7M380.5,216.0h1.7M656.5,216.0h-1.7M380.5,171.3h1.7M656.5,171.3h-1.7M380.5,126.7h1.7M656.5,126.7h-1.7M380.5,82.0h1.7M656.5,82.0h-1.7M380.5,37.3h1.7M656.5,37.3h-1.7" stroke="#333" stroke-width="0.8"/>
<text x="395.9" y="236" text-anchor="middle" class="tk">0</text>
<text x="461.0" y="236" text-anchor="middle" class="tk">2</text>
<text x="526.1" y="236" text-anchor="middle" class="tk">4</text>
<text x="591.3" y="236" text-anchor="middle" class="tk">6</text>
<text x="656.4" y="236" text-anchor="middle" class="tk">8</text>
<text x="378.2" y="220.8" text-anchor="end" class="tk" textLength="18.5" lengthAdjust="spacingAndGlyphs">0.0</text>
<text x="378.2" y="176.1" text-anchor="end" class="tk" textLength="18.5" lengthAdjust="spacingAndGlyphs">0.5</text>
<text x="378.2" y="131.5" text-anchor="end" class="tk" textLength="18.5" lengthAdjust="spacingAndGlyphs">1.0</text>
<text x="378.2" y="86.8" text-anchor="end" class="tk" textLength="18.5" lengthAdjust="spacingAndGlyphs">1.5</text>
<text x="378.2" y="42.1" text-anchor="end" class="tk" textLength="18.5" lengthAdjust="spacingAndGlyphs">2.0</text>
<text x="518.5" y="250.3" text-anchor="middle" class="al">z/D</text>
<text transform="translate(11.8,146.5) rotate(-90)" class="al" textLength="45.5" lengthAdjust="spacingAndGlyphs">v<tspan class="sub" dy="2.6">z</tspan><tspan dy="-2.6">(m/s)</tspan></text>
<text transform="translate(355.0,146.5) rotate(-90)" class="al" textLength="45.5" lengthAdjust="spacingAndGlyphs">v<tspan class="sub" dy="2.6">z</tspan><tspan dy="-2.6">(m/s)</tspan></text>
<text x="0" y="11.5" class="pl">(a)</text>
<text x="342.5" y="11.5" class="pl">(b)</text>
<text x="172.6" y="36.9" class="lg" textLength="29.6" lengthAdjust="spacingAndGlyphs">0.140</text>
<text x="204.9" y="36.9" class="lu" textLength="19" lengthAdjust="spacingAndGlyphs">m/s</text>
<circle cx="230.1" cy="34.3" r="1.9" fill="none" stroke="#1f77b4" stroke-width="0.7" opacity="0.55"/>
<text x="172.6" y="48.2" class="lg" textLength="29.6" lengthAdjust="spacingAndGlyphs">0.542</text>
<text x="204.9" y="48.2" class="lu" textLength="19" lengthAdjust="spacingAndGlyphs">m/s</text>
<circle cx="230.1" cy="45.6" r="1.9" fill="none" stroke="#ff7f0e" stroke-width="0.7" opacity="0.55"/>
<text x="172.6" y="59.5" class="lg" textLength="29.6" lengthAdjust="spacingAndGlyphs">0.767</text>
<text x="204.9" y="59.5" class="lu" textLength="19" lengthAdjust="spacingAndGlyphs">m/s</text>
<circle cx="230.1" cy="56.9" r="1.9" fill="none" stroke="#98df8a" stroke-width="0.7" opacity="0.6"/>
<text x="172.6" y="70.8" class="lg" textLength="29.6" lengthAdjust="spacingAndGlyphs">1.033</text>
<text x="204.9" y="70.8" class="lu" textLength="19" lengthAdjust="spacingAndGlyphs">m/s</text>
<circle cx="230.1" cy="68.2" r="1.9" fill="none" stroke="#9467bd" stroke-width="0.7" opacity="0.5"/>
<text x="241.1" y="36.9" class="lg" textLength="29.6" lengthAdjust="spacingAndGlyphs">1.480</text>
<text x="273.4" y="36.9" class="lu" textLength="19" lengthAdjust="spacingAndGlyphs">m/s</text>
<circle cx="298.6" cy="34.3" r="1.9" fill="none" stroke="#c49c94" stroke-width="0.7" opacity="0.45"/>
<text x="241.1" y="48.2" class="lg" textLength="29.6" lengthAdjust="spacingAndGlyphs">1.650</text>
<text x="273.4" y="48.2" class="lu" textLength="19" lengthAdjust="spacingAndGlyphs">m/s</text>
<circle cx="298.6" cy="45.6" r="1.9" fill="none" stroke="#7f7f7f" stroke-width="0.7" opacity="0.5"/>
<text x="241.1" y="59.5" class="lg" textLength="29.6" lengthAdjust="spacingAndGlyphs">1.950</text>
<text x="273.4" y="59.5" class="lu" textLength="19" lengthAdjust="spacingAndGlyphs">m/s</text>
<circle cx="298.6" cy="56.9" r="1.9" fill="none" stroke="#dbdb8d" stroke-width="0.7" opacity="0.5"/>
<text x="241.1" y="70.8" class="lg" textLength="29.6" lengthAdjust="spacingAndGlyphs">2.321</text>
<text x="273.4" y="70.8" class="lu" textLength="19" lengthAdjust="spacingAndGlyphs">m/s</text>
<circle cx="298.6" cy="68.2" r="1.9" fill="none" stroke="#9edae5" stroke-width="0.7" opacity="0.5"/>
<text x="516.0" y="36.9" class="lg" textLength="29.6" lengthAdjust="spacingAndGlyphs">0.000</text>
<text x="548.3" y="36.9" class="lu" textLength="19" lengthAdjust="spacingAndGlyphs">m/s</text>
<circle cx="573.5" cy="34.3" r="1.9" fill="none" stroke="#1f77b4" stroke-width="0.7" opacity="0.9"/>
<text x="516.0" y="48.2" class="lg" textLength="29.6" lengthAdjust="spacingAndGlyphs">0.198</text>
<text x="548.3" y="48.2" class="lu" textLength="19" lengthAdjust="spacingAndGlyphs">m/s</text>
<circle cx="573.5" cy="45.6" r="1.9" fill="none" stroke="#ff7f0e" stroke-width="0.7" opacity="0.85"/>
<text x="516.0" y="59.5" class="lg" textLength="29.6" lengthAdjust="spacingAndGlyphs">0.396</text>
<text x="548.3" y="59.5" class="lu" textLength="19" lengthAdjust="spacingAndGlyphs">m/s</text>
<circle cx="573.5" cy="56.9" r="1.9" fill="none" stroke="#2ca02c" stroke-width="0.7" opacity="0.85"/>
<text x="516.0" y="70.8" class="lg" textLength="29.6" lengthAdjust="spacingAndGlyphs">0.594</text>
<text x="548.3" y="70.8" class="lu" textLength="19" lengthAdjust="spacingAndGlyphs">m/s</text>
<circle cx="573.5" cy="68.2" r="1.9" fill="none" stroke="#d62728" stroke-width="0.7" opacity="0.8"/>
<text x="516.0" y="82.1" class="lg" textLength="29.6" lengthAdjust="spacingAndGlyphs">0.805</text>
<text x="548.3" y="82.1" class="lu" textLength="19" lengthAdjust="spacingAndGlyphs">m/s</text>
<circle cx="573.5" cy="79.5" r="1.9" fill="none" stroke="#9467bd" stroke-width="0.7" opacity="0.7"/>
<text x="584.5" y="36.9" class="lg" textLength="29.6" lengthAdjust="spacingAndGlyphs">0.970</text>
<text x="616.8" y="36.9" class="lu" textLength="19" lengthAdjust="spacingAndGlyphs">m/s</text>
<circle cx="642.0" cy="34.3" r="1.9" fill="none" stroke="#8c564b" stroke-width="0.7" opacity="0.45"/>
<text x="584.5" y="48.2" class="lg" textLength="29.6" lengthAdjust="spacingAndGlyphs">1.387</text>
<text x="616.8" y="48.2" class="lu" textLength="19" lengthAdjust="spacingAndGlyphs">m/s</text>
<circle cx="642.0" cy="45.6" r="1.9" fill="none" stroke="#e377c2" stroke-width="0.7" opacity="0.45"/>
<text x="584.5" y="59.5" class="lg" textLength="29.6" lengthAdjust="spacingAndGlyphs">1.566</text>
<text x="616.8" y="59.5" class="lu" textLength="19" lengthAdjust="spacingAndGlyphs">m/s</text>
<circle cx="642.0" cy="56.9" r="1.9" fill="none" stroke="#7f7f7f" stroke-width="0.7" opacity="0.45"/>
<text x="584.5" y="70.8" class="lg" textLength="29.6" lengthAdjust="spacingAndGlyphs">1.986</text>
<text x="616.8" y="70.8" class="lu" textLength="19" lengthAdjust="spacingAndGlyphs">m/s</text>
<circle cx="642.0" cy="68.2" r="1.9" fill="none" stroke="#bcbd22" stroke-width="0.7" opacity="0.55"/>
<text x="584.5" y="82.1" class="lg" textLength="29.6" lengthAdjust="spacingAndGlyphs">2.323</text>
<text x="616.8" y="82.1" class="lu" textLength="19" lengthAdjust="spacingAndGlyphs">m/s</text>
<circle cx="642.0" cy="79.5" r="1.9" fill="none" stroke="#17becf" stroke-width="0.7" opacity="0.6"/>
</svg>
</body></html>
